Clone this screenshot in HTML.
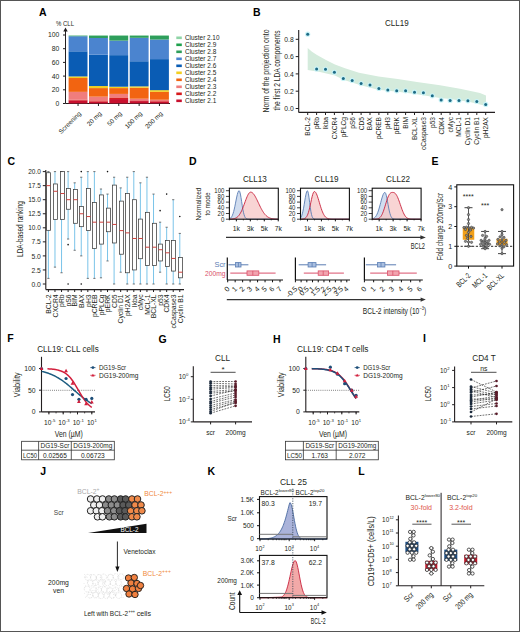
<!DOCTYPE html>
<html><head><meta charset="utf-8"><style>
html,body{margin:0;padding:0;background:#fff;}
body{width:520px;height:632px;overflow:hidden;position:relative;}
svg{position:absolute;left:0;top:0;font-family:"Liberation Sans", sans-serif;}
</style></head><body>
<svg width="520" height="632" viewBox="0 0 520 632">
<rect x="0" y="0" width="520" height="632" fill="#fff"/>
<text x="39.00" y="16.00" font-size="10.5" text-anchor="start" fill="#000" font-weight="bold">A</text>
<text x="253.00" y="16.00" font-size="10.5" text-anchor="start" fill="#000" font-weight="bold">B</text>
<text x="7.50" y="165.00" font-size="10.5" text-anchor="start" fill="#000" font-weight="bold">C</text>
<text x="189.00" y="164.80" font-size="10.5" text-anchor="start" fill="#000" font-weight="bold">D</text>
<text x="431.50" y="165.00" font-size="10.5" text-anchor="start" fill="#000" font-weight="bold">E</text>
<text x="7.30" y="342.40" font-size="10.5" text-anchor="start" fill="#000" font-weight="bold">F</text>
<text x="158.50" y="342.80" font-size="10.5" text-anchor="start" fill="#000" font-weight="bold">G</text>
<text x="273.00" y="342.60" font-size="10.5" text-anchor="start" fill="#000" font-weight="bold">H</text>
<text x="423.00" y="342.40" font-size="10.5" text-anchor="start" fill="#000" font-weight="bold">I</text>
<text x="40.30" y="475.20" font-size="10.5" text-anchor="start" fill="#000" font-weight="bold">J</text>
<text x="207.60" y="475.40" font-size="10.5" text-anchor="start" fill="#000" font-weight="bold">K</text>
<text x="358.30" y="475.30" font-size="10.5" text-anchor="start" fill="#000" font-weight="bold">L</text>
<line x1="65.50" y1="103.50" x2="170.00" y2="103.50" stroke="#231f20" stroke-width="1"/>
<line x1="65.50" y1="29.50" x2="65.50" y2="103.50" stroke="#231f20" stroke-width="1"/>
<path d="M63.3,31.5 L65.5,27.5 L67.7,31.5 Z" fill="#231f20" stroke="none" stroke-width="1"/>
<line x1="63.00" y1="103.50" x2="65.50" y2="103.50" stroke="#231f20" stroke-width="1"/>
<text x="59.30" y="105.90" font-size="6.8" text-anchor="end" fill="#231f20">0</text>
<line x1="63.00" y1="89.80" x2="65.50" y2="89.80" stroke="#231f20" stroke-width="1"/>
<text x="59.30" y="92.20" font-size="6.8" text-anchor="end" fill="#231f20">20</text>
<line x1="63.00" y1="76.10" x2="65.50" y2="76.10" stroke="#231f20" stroke-width="1"/>
<text x="59.30" y="78.50" font-size="6.8" text-anchor="end" fill="#231f20">40</text>
<line x1="63.00" y1="62.40" x2="65.50" y2="62.40" stroke="#231f20" stroke-width="1"/>
<text x="59.30" y="64.80" font-size="6.8" text-anchor="end" fill="#231f20">60</text>
<line x1="63.00" y1="48.70" x2="65.50" y2="48.70" stroke="#231f20" stroke-width="1"/>
<text x="59.30" y="51.10" font-size="6.8" text-anchor="end" fill="#231f20">80</text>
<line x1="63.00" y1="35.00" x2="65.50" y2="35.00" stroke="#231f20" stroke-width="1"/>
<text x="59.30" y="37.40" font-size="6.8" text-anchor="end" fill="#231f20">100</text>
<text x="56.00" y="26.00" font-size="6.8" text-anchor="start" fill="#231f20" textLength="18" lengthAdjust="spacingAndGlyphs">% CLL</text>
<rect x="68.60" y="100.42" width="18.90" height="3.08" fill="#c8102e" stroke="none" stroke-width="1"/>
<rect x="68.60" y="99.73" width="18.90" height="0.69" fill="#d7191c" stroke="none" stroke-width="1"/>
<rect x="68.60" y="91.86" width="18.90" height="7.88" fill="#f07d7d" stroke="none" stroke-width="1"/>
<rect x="68.60" y="78.02" width="18.90" height="13.84" fill="#f26411" stroke="none" stroke-width="1"/>
<rect x="68.60" y="76.44" width="18.90" height="1.58" fill="#f3cf20" stroke="none" stroke-width="1"/>
<rect x="68.60" y="51.30" width="18.90" height="25.14" fill="#0a5cb4" stroke="none" stroke-width="1"/>
<rect x="68.60" y="36.23" width="18.90" height="15.07" fill="#4b84cf" stroke="none" stroke-width="1"/>
<rect x="68.60" y="35.82" width="18.90" height="0.41" fill="#2e9e5b" stroke="none" stroke-width="1"/>
<rect x="68.60" y="35.55" width="18.90" height="0.27" fill="#1fa14c" stroke="none" stroke-width="1"/>
<line x1="78.05" y1="103.50" x2="78.05" y2="106.00" stroke="#231f20" stroke-width="1"/>
<rect x="89.00" y="101.79" width="18.90" height="1.71" fill="#c8102e" stroke="none" stroke-width="1"/>
<rect x="89.00" y="101.10" width="18.90" height="0.68" fill="#d7191c" stroke="none" stroke-width="1"/>
<rect x="89.00" y="96.65" width="18.90" height="4.45" fill="#f07d7d" stroke="none" stroke-width="1"/>
<rect x="89.00" y="88.09" width="18.90" height="8.56" fill="#f26411" stroke="none" stroke-width="1"/>
<rect x="89.00" y="86.03" width="18.90" height="2.06" fill="#f3cf20" stroke="none" stroke-width="1"/>
<rect x="89.00" y="54.73" width="18.90" height="31.30" fill="#0a5cb4" stroke="none" stroke-width="1"/>
<rect x="89.00" y="38.01" width="18.90" height="16.71" fill="#4b84cf" stroke="none" stroke-width="1"/>
<rect x="89.00" y="35.96" width="18.90" height="2.05" fill="#2e9e5b" stroke="none" stroke-width="1"/>
<rect x="89.00" y="35.55" width="18.90" height="0.41" fill="#1fa14c" stroke="none" stroke-width="1"/>
<line x1="98.45" y1="103.50" x2="98.45" y2="106.00" stroke="#231f20" stroke-width="1"/>
<rect x="109.30" y="99.05" width="18.90" height="4.45" fill="#c8102e" stroke="none" stroke-width="1"/>
<rect x="109.30" y="98.02" width="18.90" height="1.03" fill="#d7191c" stroke="none" stroke-width="1"/>
<rect x="109.30" y="93.91" width="18.90" height="4.11" fill="#f07d7d" stroke="none" stroke-width="1"/>
<rect x="109.30" y="88.09" width="18.90" height="5.82" fill="#f26411" stroke="none" stroke-width="1"/>
<rect x="109.30" y="86.72" width="18.90" height="1.37" fill="#f3cf20" stroke="none" stroke-width="1"/>
<rect x="109.30" y="55.14" width="18.90" height="31.58" fill="#0a5cb4" stroke="none" stroke-width="1"/>
<rect x="109.30" y="40.62" width="18.90" height="14.52" fill="#4b84cf" stroke="none" stroke-width="1"/>
<rect x="109.30" y="35.96" width="18.90" height="4.66" fill="#2e9e5b" stroke="none" stroke-width="1"/>
<rect x="109.30" y="35.55" width="18.90" height="0.41" fill="#1fa14c" stroke="none" stroke-width="1"/>
<line x1="118.75" y1="103.50" x2="118.75" y2="106.00" stroke="#231f20" stroke-width="1"/>
<rect x="129.70" y="101.10" width="18.90" height="2.40" fill="#c8102e" stroke="none" stroke-width="1"/>
<rect x="129.70" y="100.42" width="18.90" height="0.69" fill="#d7191c" stroke="none" stroke-width="1"/>
<rect x="129.70" y="98.70" width="18.90" height="1.71" fill="#f07d7d" stroke="none" stroke-width="1"/>
<rect x="129.70" y="87.75" width="18.90" height="10.96" fill="#f26411" stroke="none" stroke-width="1"/>
<rect x="129.70" y="86.38" width="18.90" height="1.37" fill="#f3cf20" stroke="none" stroke-width="1"/>
<rect x="129.70" y="61.24" width="18.90" height="25.14" fill="#0a5cb4" stroke="none" stroke-width="1"/>
<rect x="129.70" y="37.81" width="18.90" height="23.43" fill="#4b84cf" stroke="none" stroke-width="1"/>
<rect x="129.70" y="35.96" width="18.90" height="1.85" fill="#2e9e5b" stroke="none" stroke-width="1"/>
<rect x="129.70" y="35.55" width="18.90" height="0.41" fill="#1fa14c" stroke="none" stroke-width="1"/>
<line x1="139.15" y1="103.50" x2="139.15" y2="106.00" stroke="#231f20" stroke-width="1"/>
<rect x="150.00" y="101.79" width="18.90" height="1.71" fill="#c8102e" stroke="none" stroke-width="1"/>
<rect x="150.00" y="101.10" width="18.90" height="0.68" fill="#d7191c" stroke="none" stroke-width="1"/>
<rect x="150.00" y="99.73" width="18.90" height="1.37" fill="#f07d7d" stroke="none" stroke-width="1"/>
<rect x="150.00" y="91.86" width="18.90" height="7.88" fill="#f26411" stroke="none" stroke-width="1"/>
<rect x="150.00" y="90.14" width="18.90" height="1.71" fill="#f3cf20" stroke="none" stroke-width="1"/>
<rect x="150.00" y="59.11" width="18.90" height="31.03" fill="#0a5cb4" stroke="none" stroke-width="1"/>
<rect x="150.00" y="39.52" width="18.90" height="19.59" fill="#4b84cf" stroke="none" stroke-width="1"/>
<rect x="150.00" y="35.96" width="18.90" height="3.56" fill="#2e9e5b" stroke="none" stroke-width="1"/>
<rect x="150.00" y="35.55" width="18.90" height="0.41" fill="#1fa14c" stroke="none" stroke-width="1"/>
<line x1="159.45" y1="103.50" x2="159.45" y2="106.00" stroke="#231f20" stroke-width="1"/>
<text x="81.55" y="114.00" font-size="6.4" text-anchor="end" fill="#231f20" transform="rotate(-45 81.55 114.00)">Screening</text>
<text x="101.95" y="114.00" font-size="6.4" text-anchor="end" fill="#231f20" transform="rotate(-45 101.95 114.00)">20 mg</text>
<text x="122.25" y="114.00" font-size="6.4" text-anchor="end" fill="#231f20" transform="rotate(-45 122.25 114.00)">50 mg</text>
<text x="142.65" y="114.00" font-size="6.4" text-anchor="end" fill="#231f20" transform="rotate(-45 142.65 114.00)">100 mg</text>
<text x="162.95" y="114.00" font-size="6.4" text-anchor="end" fill="#231f20" transform="rotate(-45 162.95 114.00)">200 mg</text>
<rect x="176.30" y="36.50" width="5.50" height="2.60" fill="#8fd4a6" stroke="none" stroke-width="1"/>
<text x="185.00" y="40.10" font-size="6.8" text-anchor="start" fill="#231f20" textLength="34.5" lengthAdjust="spacingAndGlyphs">Cluster 2.10</text>
<rect x="176.30" y="43.50" width="5.50" height="2.60" fill="#1fa14c" stroke="none" stroke-width="1"/>
<text x="185.00" y="47.10" font-size="6.8" text-anchor="start" fill="#231f20" textLength="31.3" lengthAdjust="spacingAndGlyphs">Cluster 2.9</text>
<rect x="176.30" y="50.50" width="5.50" height="2.60" fill="#2e9e5b" stroke="none" stroke-width="1"/>
<text x="185.00" y="54.10" font-size="6.8" text-anchor="start" fill="#231f20" textLength="31.3" lengthAdjust="spacingAndGlyphs">Cluster 2.8</text>
<rect x="176.30" y="57.50" width="5.50" height="2.60" fill="#4b84cf" stroke="none" stroke-width="1"/>
<text x="185.00" y="61.10" font-size="6.8" text-anchor="start" fill="#231f20" textLength="31.3" lengthAdjust="spacingAndGlyphs">Cluster 2.7</text>
<rect x="176.30" y="64.50" width="5.50" height="2.60" fill="#0a5cb4" stroke="none" stroke-width="1"/>
<text x="185.00" y="68.10" font-size="6.8" text-anchor="start" fill="#231f20" textLength="31.3" lengthAdjust="spacingAndGlyphs">Cluster 2.6</text>
<rect x="176.30" y="71.50" width="5.50" height="2.60" fill="#f3cf20" stroke="none" stroke-width="1"/>
<text x="185.00" y="75.10" font-size="6.8" text-anchor="start" fill="#231f20" textLength="31.3" lengthAdjust="spacingAndGlyphs">Cluster 2.5</text>
<rect x="176.30" y="78.50" width="5.50" height="2.60" fill="#f26411" stroke="none" stroke-width="1"/>
<text x="185.00" y="82.10" font-size="6.8" text-anchor="start" fill="#231f20" textLength="31.3" lengthAdjust="spacingAndGlyphs">Cluster 2.4</text>
<rect x="176.30" y="85.50" width="5.50" height="2.60" fill="#f07d7d" stroke="none" stroke-width="1"/>
<text x="185.00" y="89.10" font-size="6.8" text-anchor="start" fill="#231f20" textLength="31.3" lengthAdjust="spacingAndGlyphs">Cluster 2.3</text>
<rect x="176.30" y="92.50" width="5.50" height="2.60" fill="#d7191c" stroke="none" stroke-width="1"/>
<text x="185.00" y="96.10" font-size="6.8" text-anchor="start" fill="#231f20" textLength="31.3" lengthAdjust="spacingAndGlyphs">Cluster 2.2</text>
<rect x="176.30" y="99.50" width="5.50" height="2.60" fill="#c8102e" stroke="none" stroke-width="1"/>
<text x="185.00" y="103.10" font-size="6.8" text-anchor="start" fill="#231f20" textLength="31.3" lengthAdjust="spacingAndGlyphs">Cluster 2.1</text>
<path d="M307.70,48.00 L312.00,51.80 L317.00,55.00 L326.00,60.00 L335.00,64.50 L345.00,68.30 L359.00,72.80 L378.50,76.50 L397.70,79.00 L417.00,82.00 L440.00,85.20 L460.00,88.80 L480.00,93.00 L486.00,95.50 L486.00,106.00 L470.00,102.00 L450.00,99.00 L440.00,98.00 L417.00,94.30 L398.00,91.80 L378.00,89.80 L360.00,85.00 L344.00,80.00 L335.00,75.50 L320.00,72.00 L307.70,70.00 Z" fill="#d4ebdc" stroke="none" stroke-width="1"/>
<line x1="298.70" y1="30.00" x2="298.70" y2="112.40" stroke="#231f20" stroke-width="1.1"/>
<line x1="298.70" y1="112.40" x2="495.00" y2="112.40" stroke="#231f20" stroke-width="1.1"/>
<line x1="295.70" y1="108.50" x2="298.70" y2="108.50" stroke="#231f20" stroke-width="1"/>
<text x="293.70" y="111.20" font-size="7.8" text-anchor="end" fill="#231f20" textLength="9.4" lengthAdjust="spacingAndGlyphs">0.0</text>
<line x1="295.70" y1="91.20" x2="298.70" y2="91.20" stroke="#231f20" stroke-width="1"/>
<text x="293.70" y="93.90" font-size="7.8" text-anchor="end" fill="#231f20" textLength="9.4" lengthAdjust="spacingAndGlyphs">0.2</text>
<line x1="295.70" y1="73.90" x2="298.70" y2="73.90" stroke="#231f20" stroke-width="1"/>
<text x="293.70" y="76.60" font-size="7.8" text-anchor="end" fill="#231f20" textLength="9.4" lengthAdjust="spacingAndGlyphs">0.4</text>
<line x1="295.70" y1="56.60" x2="298.70" y2="56.60" stroke="#231f20" stroke-width="1"/>
<text x="293.70" y="59.30" font-size="7.8" text-anchor="end" fill="#231f20" textLength="9.4" lengthAdjust="spacingAndGlyphs">0.6</text>
<line x1="295.70" y1="39.30" x2="298.70" y2="39.30" stroke="#231f20" stroke-width="1"/>
<text x="293.70" y="42.00" font-size="7.8" text-anchor="end" fill="#231f20" textLength="9.4" lengthAdjust="spacingAndGlyphs">0.8</text>
<text x="269.30" y="71.00" font-size="8.4" text-anchor="middle" fill="#231f20" transform="rotate(-90 269.30 71.00)" textLength="83" lengthAdjust="spacingAndGlyphs">Norm of the projection onto</text>
<text x="279.60" y="70.50" font-size="8.4" text-anchor="middle" fill="#231f20" transform="rotate(-90 279.60 70.50)" textLength="80" lengthAdjust="spacingAndGlyphs">the first 2 LDA components</text>
<text x="396.80" y="25.60" font-size="9.3" text-anchor="middle" fill="#231f20" textLength="23.6" lengthAdjust="spacingAndGlyphs">CLL19</text>
<line x1="307.70" y1="112.40" x2="307.70" y2="115.00" stroke="#231f20" stroke-width="1"/>
<circle cx="307.70" cy="34.20" r="2.6" fill="#c9f3f7" stroke="none" stroke-width="0.6"/>
<circle cx="307.70" cy="34.20" r="1.5" fill="#1d6a85" stroke="none" stroke-width="0.6"/>
<text x="310.10" y="117.00" font-size="6.6" text-anchor="end" fill="#231f20" transform="rotate(-90 310.10 117.00)">BCL-2</text>
<line x1="316.60" y1="112.40" x2="316.60" y2="115.00" stroke="#231f20" stroke-width="1"/>
<circle cx="316.60" cy="68.90" r="2.6" fill="#c9f3f7" stroke="none" stroke-width="0.6"/>
<circle cx="316.60" cy="68.90" r="1.5" fill="#1d6a85" stroke="none" stroke-width="0.6"/>
<text x="319.00" y="117.00" font-size="6.6" text-anchor="end" fill="#231f20" transform="rotate(-90 319.00 117.00)">pRb</text>
<line x1="325.50" y1="112.40" x2="325.50" y2="115.00" stroke="#231f20" stroke-width="1"/>
<circle cx="325.50" cy="69.30" r="2.6" fill="#c9f3f7" stroke="none" stroke-width="0.6"/>
<circle cx="325.50" cy="69.30" r="1.5" fill="#1d6a85" stroke="none" stroke-width="0.6"/>
<text x="327.90" y="117.00" font-size="6.6" text-anchor="end" fill="#231f20" transform="rotate(-90 327.90 117.00)">Ikba</text>
<line x1="334.40" y1="112.40" x2="334.40" y2="115.00" stroke="#231f20" stroke-width="1"/>
<circle cx="334.40" cy="72.30" r="2.6" fill="#c9f3f7" stroke="none" stroke-width="0.6"/>
<circle cx="334.40" cy="72.30" r="1.5" fill="#1d6a85" stroke="none" stroke-width="0.6"/>
<text x="336.80" y="117.00" font-size="6.6" text-anchor="end" fill="#231f20" transform="rotate(-90 336.80 117.00)">CXCR4</text>
<line x1="343.30" y1="112.40" x2="343.30" y2="115.00" stroke="#231f20" stroke-width="1"/>
<circle cx="343.30" cy="78.50" r="2.6" fill="#c9f3f7" stroke="none" stroke-width="0.6"/>
<circle cx="343.30" cy="78.50" r="1.5" fill="#1d6a85" stroke="none" stroke-width="0.6"/>
<text x="345.70" y="117.00" font-size="6.6" text-anchor="end" fill="#231f20" transform="rotate(-90 345.70 117.00)">pPLCg</text>
<line x1="352.20" y1="112.40" x2="352.20" y2="115.00" stroke="#231f20" stroke-width="1"/>
<circle cx="352.20" cy="80.40" r="2.6" fill="#c9f3f7" stroke="none" stroke-width="0.6"/>
<circle cx="352.20" cy="80.40" r="1.5" fill="#1d6a85" stroke="none" stroke-width="0.6"/>
<text x="354.60" y="117.00" font-size="6.6" text-anchor="end" fill="#231f20" transform="rotate(-90 354.60 117.00)">pS6</text>
<line x1="361.10" y1="112.40" x2="361.10" y2="115.00" stroke="#231f20" stroke-width="1"/>
<circle cx="361.10" cy="83.60" r="2.6" fill="#c9f3f7" stroke="none" stroke-width="0.6"/>
<circle cx="361.10" cy="83.60" r="1.5" fill="#1d6a85" stroke="none" stroke-width="0.6"/>
<text x="363.50" y="117.00" font-size="6.6" text-anchor="end" fill="#231f20" transform="rotate(-90 363.50 117.00)">CD5</text>
<line x1="370.00" y1="112.40" x2="370.00" y2="115.00" stroke="#231f20" stroke-width="1"/>
<circle cx="370.00" cy="85.00" r="2.6" fill="#c9f3f7" stroke="none" stroke-width="0.6"/>
<circle cx="370.00" cy="85.00" r="1.5" fill="#1d6a85" stroke="none" stroke-width="0.6"/>
<text x="372.40" y="117.00" font-size="6.6" text-anchor="end" fill="#231f20" transform="rotate(-90 372.40 117.00)">BAX</text>
<line x1="378.90" y1="112.40" x2="378.90" y2="115.00" stroke="#231f20" stroke-width="1"/>
<circle cx="378.90" cy="88.50" r="2.6" fill="#c9f3f7" stroke="none" stroke-width="0.6"/>
<circle cx="378.90" cy="88.50" r="1.5" fill="#1d6a85" stroke="none" stroke-width="0.6"/>
<text x="381.30" y="117.00" font-size="6.6" text-anchor="end" fill="#231f20" transform="rotate(-90 381.30 117.00)">pCREB</text>
<line x1="387.80" y1="112.40" x2="387.80" y2="115.00" stroke="#231f20" stroke-width="1"/>
<circle cx="387.80" cy="89.90" r="2.6" fill="#c9f3f7" stroke="none" stroke-width="0.6"/>
<circle cx="387.80" cy="89.90" r="1.5" fill="#1d6a85" stroke="none" stroke-width="0.6"/>
<text x="390.20" y="117.00" font-size="6.6" text-anchor="end" fill="#231f20" transform="rotate(-90 390.20 117.00)">pH3</text>
<line x1="396.70" y1="112.40" x2="396.70" y2="115.00" stroke="#231f20" stroke-width="1"/>
<circle cx="396.70" cy="90.80" r="2.6" fill="#c9f3f7" stroke="none" stroke-width="0.6"/>
<circle cx="396.70" cy="90.80" r="1.5" fill="#1d6a85" stroke="none" stroke-width="0.6"/>
<text x="399.10" y="117.00" font-size="6.6" text-anchor="end" fill="#231f20" transform="rotate(-90 399.10 117.00)">pERK</text>
<line x1="405.60" y1="112.40" x2="405.60" y2="115.00" stroke="#231f20" stroke-width="1"/>
<circle cx="405.60" cy="90.80" r="2.6" fill="#c9f3f7" stroke="none" stroke-width="0.6"/>
<circle cx="405.60" cy="90.80" r="1.5" fill="#1d6a85" stroke="none" stroke-width="0.6"/>
<text x="408.00" y="117.00" font-size="6.6" text-anchor="end" fill="#231f20" transform="rotate(-90 408.00 117.00)">BIM</text>
<line x1="414.50" y1="112.40" x2="414.50" y2="115.00" stroke="#231f20" stroke-width="1"/>
<circle cx="414.50" cy="92.20" r="2.6" fill="#c9f3f7" stroke="none" stroke-width="0.6"/>
<circle cx="414.50" cy="92.20" r="1.5" fill="#1d6a85" stroke="none" stroke-width="0.6"/>
<text x="416.90" y="117.00" font-size="6.6" text-anchor="end" fill="#231f20" transform="rotate(-90 416.90 117.00)">BCL-XL</text>
<line x1="423.40" y1="112.40" x2="423.40" y2="115.00" stroke="#231f20" stroke-width="1"/>
<circle cx="423.40" cy="92.80" r="2.6" fill="#c9f3f7" stroke="none" stroke-width="0.6"/>
<circle cx="423.40" cy="92.80" r="1.5" fill="#1d6a85" stroke="none" stroke-width="0.6"/>
<text x="425.80" y="117.00" font-size="6.6" text-anchor="end" fill="#231f20" transform="rotate(-90 425.80 117.00)">cCaspase3</text>
<line x1="432.30" y1="112.40" x2="432.30" y2="115.00" stroke="#231f20" stroke-width="1"/>
<circle cx="432.30" cy="95.80" r="2.6" fill="#c9f3f7" stroke="none" stroke-width="0.6"/>
<circle cx="432.30" cy="95.80" r="1.5" fill="#1d6a85" stroke="none" stroke-width="0.6"/>
<text x="434.70" y="117.00" font-size="6.6" text-anchor="end" fill="#231f20" transform="rotate(-90 434.70 117.00)">p53</text>
<line x1="441.20" y1="112.40" x2="441.20" y2="115.00" stroke="#231f20" stroke-width="1"/>
<circle cx="441.20" cy="99.90" r="2.6" fill="#c9f3f7" stroke="none" stroke-width="0.6"/>
<circle cx="441.20" cy="99.90" r="1.5" fill="#1d6a85" stroke="none" stroke-width="0.6"/>
<text x="443.60" y="117.00" font-size="6.6" text-anchor="end" fill="#231f20" transform="rotate(-90 443.60 117.00)">CDK4</text>
<line x1="450.10" y1="112.40" x2="450.10" y2="115.00" stroke="#231f20" stroke-width="1"/>
<circle cx="450.10" cy="100.40" r="2.6" fill="#c9f3f7" stroke="none" stroke-width="0.6"/>
<circle cx="450.10" cy="100.40" r="1.5" fill="#1d6a85" stroke="none" stroke-width="0.6"/>
<text x="452.50" y="117.00" font-size="6.6" text-anchor="end" fill="#231f20" transform="rotate(-90 452.50 117.00)">cMyc</text>
<line x1="459.00" y1="112.40" x2="459.00" y2="115.00" stroke="#231f20" stroke-width="1"/>
<circle cx="459.00" cy="100.40" r="2.6" fill="#c9f3f7" stroke="none" stroke-width="0.6"/>
<circle cx="459.00" cy="100.40" r="1.5" fill="#1d6a85" stroke="none" stroke-width="0.6"/>
<text x="461.40" y="117.00" font-size="6.6" text-anchor="end" fill="#231f20" transform="rotate(-90 461.40 117.00)">MCL-1</text>
<line x1="467.90" y1="112.40" x2="467.90" y2="115.00" stroke="#231f20" stroke-width="1"/>
<circle cx="467.90" cy="100.80" r="2.6" fill="#c9f3f7" stroke="none" stroke-width="0.6"/>
<circle cx="467.90" cy="100.80" r="1.5" fill="#1d6a85" stroke="none" stroke-width="0.6"/>
<text x="470.30" y="117.00" font-size="6.6" text-anchor="end" fill="#231f20" transform="rotate(-90 470.30 117.00)">Cyclin D1</text>
<line x1="476.80" y1="112.40" x2="476.80" y2="115.00" stroke="#231f20" stroke-width="1"/>
<circle cx="476.80" cy="101.50" r="2.6" fill="#c9f3f7" stroke="none" stroke-width="0.6"/>
<circle cx="476.80" cy="101.50" r="1.5" fill="#1d6a85" stroke="none" stroke-width="0.6"/>
<text x="479.20" y="117.00" font-size="6.6" text-anchor="end" fill="#231f20" transform="rotate(-90 479.20 117.00)">Cyclin B1</text>
<line x1="485.70" y1="112.40" x2="485.70" y2="115.00" stroke="#231f20" stroke-width="1"/>
<circle cx="485.70" cy="104.40" r="2.6" fill="#c9f3f7" stroke="none" stroke-width="0.6"/>
<circle cx="485.70" cy="104.40" r="1.5" fill="#1d6a85" stroke="none" stroke-width="0.6"/>
<text x="488.10" y="117.00" font-size="6.6" text-anchor="end" fill="#231f20" transform="rotate(-90 488.10 117.00)">pH2AX</text>
<line x1="45.80" y1="170.00" x2="45.80" y2="289.60" stroke="#231f20" stroke-width="1.1"/>
<line x1="45.80" y1="289.60" x2="184.00" y2="289.60" stroke="#231f20" stroke-width="1.1"/>
<line x1="42.80" y1="284.00" x2="45.80" y2="284.00" stroke="#231f20" stroke-width="1"/>
<text x="40.80" y="286.60" font-size="7.4" text-anchor="end" fill="#231f20" textLength="9.4" lengthAdjust="spacingAndGlyphs">0.0</text>
<line x1="42.80" y1="269.95" x2="45.80" y2="269.95" stroke="#231f20" stroke-width="1"/>
<text x="40.80" y="272.55" font-size="7.4" text-anchor="end" fill="#231f20" textLength="9.4" lengthAdjust="spacingAndGlyphs">2.5</text>
<line x1="42.80" y1="255.90" x2="45.80" y2="255.90" stroke="#231f20" stroke-width="1"/>
<text x="40.80" y="258.50" font-size="7.4" text-anchor="end" fill="#231f20" textLength="9.4" lengthAdjust="spacingAndGlyphs">5.0</text>
<line x1="42.80" y1="241.85" x2="45.80" y2="241.85" stroke="#231f20" stroke-width="1"/>
<text x="40.80" y="244.45" font-size="7.4" text-anchor="end" fill="#231f20" textLength="9.4" lengthAdjust="spacingAndGlyphs">7.5</text>
<line x1="42.80" y1="227.80" x2="45.80" y2="227.80" stroke="#231f20" stroke-width="1"/>
<text x="40.80" y="230.40" font-size="7.4" text-anchor="end" fill="#231f20" textLength="12.6" lengthAdjust="spacingAndGlyphs">10.0</text>
<line x1="42.80" y1="213.75" x2="45.80" y2="213.75" stroke="#231f20" stroke-width="1"/>
<text x="40.80" y="216.35" font-size="7.4" text-anchor="end" fill="#231f20" textLength="12.6" lengthAdjust="spacingAndGlyphs">12.5</text>
<line x1="42.80" y1="199.70" x2="45.80" y2="199.70" stroke="#231f20" stroke-width="1"/>
<text x="40.80" y="202.30" font-size="7.4" text-anchor="end" fill="#231f20" textLength="12.6" lengthAdjust="spacingAndGlyphs">15.0</text>
<line x1="42.80" y1="185.65" x2="45.80" y2="185.65" stroke="#231f20" stroke-width="1"/>
<text x="40.80" y="188.25" font-size="7.4" text-anchor="end" fill="#231f20" textLength="12.6" lengthAdjust="spacingAndGlyphs">17.5</text>
<line x1="42.80" y1="171.60" x2="45.80" y2="171.60" stroke="#231f20" stroke-width="1"/>
<text x="40.80" y="174.20" font-size="7.4" text-anchor="end" fill="#231f20" textLength="12.6" lengthAdjust="spacingAndGlyphs">20.0</text>
<text x="23.20" y="229.00" font-size="8.4" text-anchor="middle" fill="#231f20" transform="rotate(-90 23.20 229.00)" textLength="56" lengthAdjust="spacingAndGlyphs">LDA-based ranking</text>
<line x1="48.40" y1="171.60" x2="48.40" y2="172.72" stroke="#6cbde6" stroke-width="0.9"/>
<line x1="48.40" y1="230.33" x2="48.40" y2="278.38" stroke="#6cbde6" stroke-width="0.9"/>
<line x1="47.30" y1="171.60" x2="49.50" y2="171.60" stroke="#555" stroke-width="0.8"/>
<line x1="47.30" y1="278.38" x2="49.50" y2="278.38" stroke="#555" stroke-width="0.8"/>
<rect x="46.50" y="172.72" width="4.00" height="57.61" fill="none" stroke="#3a3a3a" stroke-width="0.75"/>
<line x1="46.50" y1="185.65" x2="50.50" y2="185.65" stroke="#d2403c" stroke-width="1"/>
<line x1="48.40" y1="289.60" x2="48.40" y2="292.00" stroke="#231f20" stroke-width="1"/>
<text x="51.20" y="294.40" font-size="6.8" text-anchor="end" fill="#231f20" transform="rotate(-90 51.20 294.40)">BCL-2</text>
<line x1="54.97" y1="171.60" x2="54.97" y2="183.96" stroke="#6cbde6" stroke-width="0.9"/>
<line x1="54.97" y1="219.37" x2="54.97" y2="267.14" stroke="#6cbde6" stroke-width="0.9"/>
<line x1="53.87" y1="171.60" x2="56.07" y2="171.60" stroke="#555" stroke-width="0.8"/>
<line x1="53.87" y1="267.14" x2="56.07" y2="267.14" stroke="#555" stroke-width="0.8"/>
<rect x="53.50" y="183.96" width="4.00" height="35.41" fill="none" stroke="#3a3a3a" stroke-width="0.75"/>
<line x1="53.50" y1="191.27" x2="57.50" y2="191.27" stroke="#d2403c" stroke-width="1"/>
<line x1="54.97" y1="289.60" x2="54.97" y2="292.00" stroke="#231f20" stroke-width="1"/>
<text x="57.77" y="294.40" font-size="6.8" text-anchor="end" fill="#231f20" transform="rotate(-90 57.77 294.40)">CXCR4</text>
<line x1="61.54" y1="171.60" x2="61.54" y2="171.60" stroke="#6cbde6" stroke-width="0.9"/>
<line x1="61.54" y1="219.37" x2="61.54" y2="272.76" stroke="#6cbde6" stroke-width="0.9"/>
<line x1="60.44" y1="171.60" x2="62.64" y2="171.60" stroke="#555" stroke-width="0.8"/>
<line x1="60.44" y1="272.76" x2="62.64" y2="272.76" stroke="#555" stroke-width="0.8"/>
<rect x="60.50" y="171.60" width="4.00" height="47.77" fill="none" stroke="#3a3a3a" stroke-width="0.75"/>
<line x1="60.50" y1="193.52" x2="64.50" y2="193.52" stroke="#d2403c" stroke-width="1"/>
<line x1="61.54" y1="289.60" x2="61.54" y2="292.00" stroke="#231f20" stroke-width="1"/>
<text x="64.34" y="294.40" font-size="6.8" text-anchor="end" fill="#231f20" transform="rotate(-90 64.34 294.40)">pRb</text>
<line x1="68.11" y1="171.60" x2="68.11" y2="188.46" stroke="#6cbde6" stroke-width="0.9"/>
<line x1="68.11" y1="209.25" x2="68.11" y2="239.04" stroke="#6cbde6" stroke-width="0.9"/>
<line x1="67.01" y1="171.60" x2="69.21" y2="171.60" stroke="#555" stroke-width="0.8"/>
<line x1="67.01" y1="239.04" x2="69.21" y2="239.04" stroke="#555" stroke-width="0.8"/>
<rect x="66.50" y="188.46" width="4.00" height="20.79" fill="none" stroke="#3a3a3a" stroke-width="0.75"/>
<line x1="66.50" y1="199.70" x2="70.50" y2="199.70" stroke="#d2403c" stroke-width="1"/>
<circle cx="68.11" cy="244.66" r="0.8" fill="#111" stroke="none" stroke-width="0.6"/>
<circle cx="68.11" cy="284.00" r="0.8" fill="#111" stroke="none" stroke-width="0.6"/>
<line x1="68.11" y1="289.60" x2="68.11" y2="292.00" stroke="#231f20" stroke-width="1"/>
<text x="70.91" y="294.40" font-size="6.8" text-anchor="end" fill="#231f20" transform="rotate(-90 70.91 294.40)">pS6</text>
<line x1="74.68" y1="182.84" x2="74.68" y2="189.58" stroke="#6cbde6" stroke-width="0.9"/>
<line x1="74.68" y1="223.30" x2="74.68" y2="250.28" stroke="#6cbde6" stroke-width="0.9"/>
<line x1="73.58" y1="182.84" x2="75.78" y2="182.84" stroke="#555" stroke-width="0.8"/>
<line x1="73.58" y1="250.28" x2="75.78" y2="250.28" stroke="#555" stroke-width="0.8"/>
<rect x="73.50" y="189.58" width="4.00" height="33.72" fill="none" stroke="#3a3a3a" stroke-width="0.75"/>
<line x1="73.50" y1="199.70" x2="77.50" y2="199.70" stroke="#d2403c" stroke-width="1"/>
<line x1="74.68" y1="289.60" x2="74.68" y2="292.00" stroke="#231f20" stroke-width="1"/>
<text x="77.48" y="294.40" font-size="6.8" text-anchor="end" fill="#231f20" transform="rotate(-90 77.48 294.40)">BIM</text>
<line x1="81.25" y1="177.22" x2="81.25" y2="206.44" stroke="#6cbde6" stroke-width="0.9"/>
<line x1="81.25" y1="226.68" x2="81.25" y2="255.90" stroke="#6cbde6" stroke-width="0.9"/>
<line x1="80.15" y1="177.22" x2="82.35" y2="177.22" stroke="#555" stroke-width="0.8"/>
<line x1="80.15" y1="255.90" x2="82.35" y2="255.90" stroke="#555" stroke-width="0.8"/>
<rect x="79.50" y="206.44" width="4.00" height="20.23" fill="none" stroke="#3a3a3a" stroke-width="0.75"/>
<line x1="79.50" y1="213.75" x2="83.50" y2="213.75" stroke="#d2403c" stroke-width="1"/>
<circle cx="81.25" cy="171.60" r="0.8" fill="#111" stroke="none" stroke-width="0.6"/>
<circle cx="81.25" cy="284.00" r="0.8" fill="#111" stroke="none" stroke-width="0.6"/>
<line x1="81.25" y1="289.60" x2="81.25" y2="292.00" stroke="#231f20" stroke-width="1"/>
<text x="84.05" y="294.40" font-size="6.8" text-anchor="end" fill="#231f20" transform="rotate(-90 84.05 294.40)">BAX</text>
<line x1="87.82" y1="171.60" x2="87.82" y2="188.46" stroke="#6cbde6" stroke-width="0.9"/>
<line x1="87.82" y1="230.61" x2="87.82" y2="278.38" stroke="#6cbde6" stroke-width="0.9"/>
<line x1="86.72" y1="171.60" x2="88.92" y2="171.60" stroke="#555" stroke-width="0.8"/>
<line x1="86.72" y1="278.38" x2="88.92" y2="278.38" stroke="#555" stroke-width="0.8"/>
<rect x="86.50" y="188.46" width="4.00" height="42.15" fill="none" stroke="#3a3a3a" stroke-width="0.75"/>
<line x1="86.50" y1="216.56" x2="90.50" y2="216.56" stroke="#d2403c" stroke-width="1"/>
<line x1="87.82" y1="289.60" x2="87.82" y2="292.00" stroke="#231f20" stroke-width="1"/>
<text x="90.62" y="294.40" font-size="6.8" text-anchor="end" fill="#231f20" transform="rotate(-90 90.62 294.40)">pH3</text>
<line x1="94.39" y1="171.60" x2="94.39" y2="202.51" stroke="#6cbde6" stroke-width="0.9"/>
<line x1="94.39" y1="248.59" x2="94.39" y2="278.38" stroke="#6cbde6" stroke-width="0.9"/>
<line x1="93.29" y1="171.60" x2="95.49" y2="171.60" stroke="#555" stroke-width="0.8"/>
<line x1="93.29" y1="278.38" x2="95.49" y2="278.38" stroke="#555" stroke-width="0.8"/>
<rect x="92.50" y="202.51" width="4.00" height="46.08" fill="none" stroke="#3a3a3a" stroke-width="0.75"/>
<line x1="92.50" y1="222.18" x2="96.50" y2="222.18" stroke="#d2403c" stroke-width="1"/>
<line x1="94.39" y1="289.60" x2="94.39" y2="292.00" stroke="#231f20" stroke-width="1"/>
<text x="97.19" y="294.40" font-size="6.8" text-anchor="end" fill="#231f20" transform="rotate(-90 97.19 294.40)">pCREB</text>
<line x1="100.96" y1="189.02" x2="100.96" y2="194.92" stroke="#6cbde6" stroke-width="0.9"/>
<line x1="100.96" y1="244.10" x2="100.96" y2="277.82" stroke="#6cbde6" stroke-width="0.9"/>
<line x1="99.86" y1="189.02" x2="102.06" y2="189.02" stroke="#555" stroke-width="0.8"/>
<line x1="99.86" y1="277.82" x2="102.06" y2="277.82" stroke="#555" stroke-width="0.8"/>
<rect x="99.50" y="194.92" width="4.00" height="49.18" fill="none" stroke="#3a3a3a" stroke-width="0.75"/>
<line x1="99.50" y1="222.18" x2="103.50" y2="222.18" stroke="#d2403c" stroke-width="1"/>
<line x1="100.96" y1="289.60" x2="100.96" y2="292.00" stroke="#231f20" stroke-width="1"/>
<text x="103.76" y="294.40" font-size="6.8" text-anchor="end" fill="#231f20" transform="rotate(-90 103.76 294.40)">pPLCg</text>
<line x1="107.53" y1="194.08" x2="107.53" y2="208.13" stroke="#6cbde6" stroke-width="0.9"/>
<line x1="107.53" y1="231.73" x2="107.53" y2="260.96" stroke="#6cbde6" stroke-width="0.9"/>
<line x1="106.43" y1="194.08" x2="108.63" y2="194.08" stroke="#555" stroke-width="0.8"/>
<line x1="106.43" y1="260.96" x2="108.63" y2="260.96" stroke="#555" stroke-width="0.8"/>
<rect x="106.50" y="208.13" width="4.00" height="23.60" fill="none" stroke="#3a3a3a" stroke-width="0.75"/>
<line x1="106.50" y1="222.18" x2="110.50" y2="222.18" stroke="#d2403c" stroke-width="1"/>
<circle cx="107.53" cy="171.60" r="0.8" fill="#111" stroke="none" stroke-width="0.6"/>
<line x1="107.53" y1="289.60" x2="107.53" y2="292.00" stroke="#231f20" stroke-width="1"/>
<text x="110.33" y="294.40" font-size="6.8" text-anchor="end" fill="#231f20" transform="rotate(-90 110.33 294.40)">pERK</text>
<line x1="114.10" y1="177.22" x2="114.10" y2="185.09" stroke="#6cbde6" stroke-width="0.9"/>
<line x1="114.10" y1="242.97" x2="114.10" y2="284.00" stroke="#6cbde6" stroke-width="0.9"/>
<line x1="113.00" y1="177.22" x2="115.20" y2="177.22" stroke="#555" stroke-width="0.8"/>
<line x1="113.00" y1="284.00" x2="115.20" y2="284.00" stroke="#555" stroke-width="0.8"/>
<rect x="112.50" y="185.09" width="4.00" height="57.89" fill="none" stroke="#3a3a3a" stroke-width="0.75"/>
<line x1="112.50" y1="224.43" x2="116.50" y2="224.43" stroke="#d2403c" stroke-width="1"/>
<line x1="114.10" y1="289.60" x2="114.10" y2="292.00" stroke="#231f20" stroke-width="1"/>
<text x="116.90" y="294.40" font-size="6.8" text-anchor="end" fill="#231f20" transform="rotate(-90 116.90 294.40)">CD5</text>
<line x1="120.67" y1="187.90" x2="120.67" y2="201.11" stroke="#6cbde6" stroke-width="0.9"/>
<line x1="120.67" y1="254.21" x2="120.67" y2="272.20" stroke="#6cbde6" stroke-width="0.9"/>
<line x1="119.57" y1="187.90" x2="121.77" y2="187.90" stroke="#555" stroke-width="0.8"/>
<line x1="119.57" y1="272.20" x2="121.77" y2="272.20" stroke="#555" stroke-width="0.8"/>
<rect x="119.50" y="201.11" width="4.00" height="53.11" fill="none" stroke="#3a3a3a" stroke-width="0.75"/>
<line x1="119.50" y1="230.61" x2="123.50" y2="230.61" stroke="#d2403c" stroke-width="1"/>
<line x1="120.67" y1="289.60" x2="120.67" y2="292.00" stroke="#231f20" stroke-width="1"/>
<text x="123.47" y="294.40" font-size="6.8" text-anchor="end" fill="#231f20" transform="rotate(-90 123.47 294.40)">Cyclin D1</text>
<line x1="127.24" y1="177.22" x2="127.24" y2="193.52" stroke="#6cbde6" stroke-width="0.9"/>
<line x1="127.24" y1="272.76" x2="127.24" y2="284.00" stroke="#6cbde6" stroke-width="0.9"/>
<line x1="126.14" y1="177.22" x2="128.34" y2="177.22" stroke="#555" stroke-width="0.8"/>
<line x1="126.14" y1="284.00" x2="128.34" y2="284.00" stroke="#555" stroke-width="0.8"/>
<rect x="125.50" y="193.52" width="4.00" height="79.24" fill="none" stroke="#3a3a3a" stroke-width="0.75"/>
<line x1="125.50" y1="232.86" x2="129.50" y2="232.86" stroke="#d2403c" stroke-width="1"/>
<line x1="127.24" y1="289.60" x2="127.24" y2="292.00" stroke="#231f20" stroke-width="1"/>
<text x="130.04" y="294.40" font-size="6.8" text-anchor="end" fill="#231f20" transform="rotate(-90 130.04 294.40)">pH2AX</text>
<line x1="133.81" y1="171.60" x2="133.81" y2="199.70" stroke="#6cbde6" stroke-width="0.9"/>
<line x1="133.81" y1="269.95" x2="133.81" y2="284.00" stroke="#6cbde6" stroke-width="0.9"/>
<line x1="132.71" y1="171.60" x2="134.91" y2="171.60" stroke="#555" stroke-width="0.8"/>
<line x1="132.71" y1="284.00" x2="134.91" y2="284.00" stroke="#555" stroke-width="0.8"/>
<rect x="132.50" y="199.70" width="4.00" height="70.25" fill="none" stroke="#3a3a3a" stroke-width="0.75"/>
<line x1="132.50" y1="238.48" x2="136.50" y2="238.48" stroke="#d2403c" stroke-width="1"/>
<line x1="133.81" y1="289.60" x2="133.81" y2="292.00" stroke="#231f20" stroke-width="1"/>
<text x="136.61" y="294.40" font-size="6.8" text-anchor="end" fill="#231f20" transform="rotate(-90 136.61 294.40)">Ikba</text>
<line x1="140.38" y1="182.84" x2="140.38" y2="219.09" stroke="#6cbde6" stroke-width="0.9"/>
<line x1="140.38" y1="258.71" x2="140.38" y2="284.00" stroke="#6cbde6" stroke-width="0.9"/>
<line x1="139.28" y1="182.84" x2="141.48" y2="182.84" stroke="#555" stroke-width="0.8"/>
<line x1="139.28" y1="284.00" x2="141.48" y2="284.00" stroke="#555" stroke-width="0.8"/>
<rect x="138.50" y="219.09" width="4.00" height="39.62" fill="none" stroke="#3a3a3a" stroke-width="0.75"/>
<line x1="138.50" y1="238.48" x2="142.50" y2="238.48" stroke="#d2403c" stroke-width="1"/>
<line x1="140.38" y1="289.60" x2="140.38" y2="292.00" stroke="#231f20" stroke-width="1"/>
<text x="143.18" y="294.40" font-size="6.8" text-anchor="end" fill="#231f20" transform="rotate(-90 143.18 294.40)">cMyc</text>
<line x1="146.95" y1="177.22" x2="146.95" y2="212.34" stroke="#6cbde6" stroke-width="0.9"/>
<line x1="146.95" y1="265.45" x2="146.95" y2="284.00" stroke="#6cbde6" stroke-width="0.9"/>
<line x1="145.85" y1="177.22" x2="148.05" y2="177.22" stroke="#555" stroke-width="0.8"/>
<line x1="145.85" y1="284.00" x2="148.05" y2="284.00" stroke="#555" stroke-width="0.8"/>
<rect x="145.50" y="212.34" width="4.00" height="53.11" fill="none" stroke="#3a3a3a" stroke-width="0.75"/>
<line x1="145.50" y1="247.19" x2="149.50" y2="247.19" stroke="#d2403c" stroke-width="1"/>
<line x1="146.95" y1="289.60" x2="146.95" y2="292.00" stroke="#231f20" stroke-width="1"/>
<text x="149.75" y="294.40" font-size="6.8" text-anchor="end" fill="#231f20" transform="rotate(-90 149.75 294.40)">MCL-1</text>
<line x1="153.52" y1="194.08" x2="153.52" y2="223.30" stroke="#6cbde6" stroke-width="0.9"/>
<line x1="153.52" y1="265.45" x2="153.52" y2="284.00" stroke="#6cbde6" stroke-width="0.9"/>
<line x1="152.42" y1="194.08" x2="154.62" y2="194.08" stroke="#555" stroke-width="0.8"/>
<line x1="152.42" y1="284.00" x2="154.62" y2="284.00" stroke="#555" stroke-width="0.8"/>
<rect x="152.50" y="223.30" width="4.00" height="42.15" fill="none" stroke="#3a3a3a" stroke-width="0.75"/>
<line x1="152.50" y1="247.19" x2="156.50" y2="247.19" stroke="#d2403c" stroke-width="1"/>
<line x1="153.52" y1="289.60" x2="153.52" y2="292.00" stroke="#231f20" stroke-width="1"/>
<text x="156.32" y="294.40" font-size="6.8" text-anchor="end" fill="#231f20" transform="rotate(-90 156.32 294.40)">BCL-XL</text>
<line x1="160.09" y1="222.18" x2="160.09" y2="244.10" stroke="#6cbde6" stroke-width="0.9"/>
<line x1="160.09" y1="260.96" x2="160.09" y2="272.20" stroke="#6cbde6" stroke-width="0.9"/>
<line x1="158.99" y1="222.18" x2="161.19" y2="222.18" stroke="#555" stroke-width="0.8"/>
<line x1="158.99" y1="272.20" x2="161.19" y2="272.20" stroke="#555" stroke-width="0.8"/>
<rect x="158.50" y="244.10" width="4.00" height="16.86" fill="none" stroke="#3a3a3a" stroke-width="0.75"/>
<line x1="158.50" y1="249.72" x2="162.50" y2="249.72" stroke="#d2403c" stroke-width="1"/>
<circle cx="160.09" cy="210.66" r="0.8" fill="#111" stroke="none" stroke-width="0.6"/>
<line x1="160.09" y1="289.60" x2="160.09" y2="292.00" stroke="#231f20" stroke-width="1"/>
<text x="162.89" y="294.40" font-size="6.8" text-anchor="end" fill="#231f20" transform="rotate(-90 162.89 294.40)">p53</text>
<line x1="166.66" y1="227.24" x2="166.66" y2="240.44" stroke="#6cbde6" stroke-width="0.9"/>
<line x1="166.66" y1="266.58" x2="166.66" y2="284.00" stroke="#6cbde6" stroke-width="0.9"/>
<line x1="165.56" y1="227.24" x2="167.76" y2="227.24" stroke="#555" stroke-width="0.8"/>
<line x1="165.56" y1="284.00" x2="167.76" y2="284.00" stroke="#555" stroke-width="0.8"/>
<rect x="165.50" y="240.44" width="4.00" height="26.13" fill="none" stroke="#3a3a3a" stroke-width="0.75"/>
<line x1="165.50" y1="252.81" x2="169.50" y2="252.81" stroke="#d2403c" stroke-width="1"/>
<circle cx="166.66" cy="194.08" r="0.8" fill="#111" stroke="none" stroke-width="0.6"/>
<line x1="166.66" y1="289.60" x2="166.66" y2="292.00" stroke="#231f20" stroke-width="1"/>
<text x="169.46" y="294.40" font-size="6.8" text-anchor="end" fill="#231f20" transform="rotate(-90 169.46 294.40)">CDK4</text>
<line x1="173.23" y1="199.70" x2="173.23" y2="240.44" stroke="#6cbde6" stroke-width="0.9"/>
<line x1="173.23" y1="271.07" x2="173.23" y2="284.00" stroke="#6cbde6" stroke-width="0.9"/>
<line x1="172.13" y1="199.70" x2="174.33" y2="199.70" stroke="#555" stroke-width="0.8"/>
<line x1="172.13" y1="284.00" x2="174.33" y2="284.00" stroke="#555" stroke-width="0.8"/>
<rect x="171.50" y="240.44" width="4.00" height="30.63" fill="none" stroke="#3a3a3a" stroke-width="0.75"/>
<line x1="171.50" y1="258.43" x2="175.50" y2="258.43" stroke="#d2403c" stroke-width="1"/>
<line x1="173.23" y1="289.60" x2="173.23" y2="292.00" stroke="#231f20" stroke-width="1"/>
<text x="176.03" y="294.40" font-size="6.8" text-anchor="end" fill="#231f20" transform="rotate(-90 176.03 294.40)">cCaspase3</text>
<line x1="179.80" y1="233.42" x2="179.80" y2="257.59" stroke="#6cbde6" stroke-width="0.9"/>
<line x1="179.80" y1="277.82" x2="179.80" y2="284.00" stroke="#6cbde6" stroke-width="0.9"/>
<line x1="178.70" y1="233.42" x2="180.90" y2="233.42" stroke="#555" stroke-width="0.8"/>
<line x1="178.70" y1="284.00" x2="180.90" y2="284.00" stroke="#555" stroke-width="0.8"/>
<rect x="178.50" y="257.59" width="4.00" height="20.23" fill="none" stroke="#3a3a3a" stroke-width="0.75"/>
<line x1="178.50" y1="272.20" x2="182.50" y2="272.20" stroke="#d2403c" stroke-width="1"/>
<circle cx="179.80" cy="216.56" r="0.8" fill="#111" stroke="none" stroke-width="0.6"/>
<line x1="179.80" y1="289.60" x2="179.80" y2="292.00" stroke="#231f20" stroke-width="1"/>
<text x="182.60" y="294.40" font-size="6.8" text-anchor="end" fill="#231f20" transform="rotate(-90 182.60 294.40)">Cyclin B1</text>
<!--D-->
<text x="254.90" y="182.20" font-size="8.4" text-anchor="middle" fill="#231f20" textLength="24" lengthAdjust="spacingAndGlyphs">CLL13</text>
<path d="M229.40,218.77 L230.01,218.48 L230.62,218.04 L231.23,217.39 L231.84,216.47 L232.45,215.22 L233.06,213.58 L233.68,211.52 L234.29,209.06 L234.90,206.24 L235.51,203.17 L236.12,200.03 L236.73,197.02 L237.34,194.38 L237.95,192.34 L238.56,191.07 L239.17,190.71 L239.78,191.67 L240.39,194.05 L241.00,197.47 L241.62,201.45 L242.23,205.48 L242.84,209.18 L243.45,212.28 L244.06,214.68 L244.67,216.41 L245.28,217.57 L245.89,218.30 L246.50,218.73 L247.11,218.97 L247.72,219.09 L248.33,219.15 L248.94,219.18 L249.55,219.19 L250.17,219.20 L250.78,219.20 L251.39,219.20 L252.00,219.20 L252.61,219.20 L253.22,219.20 L253.83,219.20 L254.44,219.20 L255.05,219.20 L255.66,219.20 L256.27,219.20 L256.88,219.20 L257.49,219.20 L258.11,219.20 L258.72,219.20 L259.33,219.20 L259.94,219.20 L260.55,219.20 L261.16,219.20 L261.77,219.20 L262.38,219.20 L262.99,219.20 L263.60,219.20 L264.21,219.20 L264.82,219.20 L265.43,219.20 L266.05,219.20 L266.66,219.20 L267.27,219.20 L267.88,219.20 L268.49,219.20 L269.10,219.20 L269.71,219.20 L270.32,219.20 L270.93,219.20 L271.54,219.20 L272.15,219.20 L272.76,219.20 L273.37,219.20 L273.98,219.20 L274.60,219.20 L275.21,219.20 L275.82,219.20 L276.43,219.20 L277.04,219.20 L277.65,219.20 L278.26,219.20 L278.3,219.2 L229.4,219.2 Z" fill="#c9d7ec" stroke="none" stroke-width="1" fill-opacity="0.85"/>
<path d="M229.40,219.16 L230.01,219.14 L230.62,219.11 L231.23,219.07 L231.84,219.03 L232.45,218.96 L233.06,218.87 L233.68,218.76 L234.29,218.61 L234.90,218.42 L235.51,218.17 L236.12,217.87 L236.73,217.50 L237.34,217.05 L237.95,216.50 L238.56,215.85 L239.17,215.09 L239.78,214.20 L240.39,213.19 L241.00,212.06 L241.62,210.79 L242.23,209.41 L242.84,207.92 L243.45,206.35 L244.06,204.70 L244.67,203.02 L245.28,201.33 L245.89,199.68 L246.50,198.10 L247.11,196.63 L247.72,195.31 L248.33,194.18 L248.94,193.27 L249.55,192.62 L250.17,192.23 L250.78,192.13 L251.39,192.24 L252.00,192.52 L252.61,192.96 L253.22,193.56 L253.83,194.30 L254.44,195.17 L255.05,196.16 L255.66,197.25 L256.27,198.42 L256.88,199.65 L257.49,200.92 L258.11,202.22 L258.72,203.52 L259.33,204.82 L259.94,206.09 L260.55,207.33 L261.16,208.51 L261.77,209.64 L262.38,210.71 L262.99,211.70 L263.60,212.62 L264.21,213.46 L264.82,214.23 L265.43,214.92 L266.05,215.54 L266.66,216.08 L267.27,216.57 L267.88,216.99 L268.49,217.36 L269.10,217.67 L269.71,217.94 L270.32,218.17 L270.93,218.36 L271.54,218.52 L272.15,218.66 L272.76,218.77 L273.37,218.86 L273.98,218.93 L274.60,218.99 L275.21,219.03 L275.82,219.07 L276.43,219.10 L277.04,219.12 L277.65,219.14 L278.26,219.16 L278.3,219.2 L229.4,219.2 Z" fill="#f6c6c6" stroke="none" stroke-width="1" fill-opacity="0.75"/>
<path d="M229.40,218.77 L230.01,218.48 L230.62,218.04 L231.23,217.39 L231.84,216.47 L232.45,215.22 L233.06,213.58 L233.68,211.52 L234.29,209.06 L234.90,206.24 L235.51,203.17 L236.12,200.03 L236.73,197.02 L237.34,194.38 L237.95,192.34 L238.56,191.07 L239.17,190.71 L239.78,191.67 L240.39,194.05 L241.00,197.47 L241.62,201.45 L242.23,205.48 L242.84,209.18 L243.45,212.28 L244.06,214.68 L244.67,216.41 L245.28,217.57 L245.89,218.30 L246.50,218.73 L247.11,218.97 L247.72,219.09 L248.33,219.15 L248.94,219.18 L249.55,219.19 L250.17,219.20 L250.78,219.20 L251.39,219.20 L252.00,219.20 L252.61,219.20 L253.22,219.20 L253.83,219.20 L254.44,219.20 L255.05,219.20 L255.66,219.20 L256.27,219.20 L256.88,219.20 L257.49,219.20 L258.11,219.20 L258.72,219.20 L259.33,219.20 L259.94,219.20 L260.55,219.20 L261.16,219.20 L261.77,219.20 L262.38,219.20 L262.99,219.20 L263.60,219.20 L264.21,219.20 L264.82,219.20 L265.43,219.20 L266.05,219.20 L266.66,219.20 L267.27,219.20 L267.88,219.20 L268.49,219.20 L269.10,219.20 L269.71,219.20 L270.32,219.20 L270.93,219.20 L271.54,219.20 L272.15,219.20 L272.76,219.20 L273.37,219.20 L273.98,219.20 L274.60,219.20 L275.21,219.20 L275.82,219.20 L276.43,219.20 L277.04,219.20 L277.65,219.20 L278.26,219.20" fill="none" stroke="#5a7db3" stroke-width="0.9"/>
<path d="M229.40,219.16 L230.01,219.14 L230.62,219.11 L231.23,219.07 L231.84,219.03 L232.45,218.96 L233.06,218.87 L233.68,218.76 L234.29,218.61 L234.90,218.42 L235.51,218.17 L236.12,217.87 L236.73,217.50 L237.34,217.05 L237.95,216.50 L238.56,215.85 L239.17,215.09 L239.78,214.20 L240.39,213.19 L241.00,212.06 L241.62,210.79 L242.23,209.41 L242.84,207.92 L243.45,206.35 L244.06,204.70 L244.67,203.02 L245.28,201.33 L245.89,199.68 L246.50,198.10 L247.11,196.63 L247.72,195.31 L248.33,194.18 L248.94,193.27 L249.55,192.62 L250.17,192.23 L250.78,192.13 L251.39,192.24 L252.00,192.52 L252.61,192.96 L253.22,193.56 L253.83,194.30 L254.44,195.17 L255.05,196.16 L255.66,197.25 L256.27,198.42 L256.88,199.65 L257.49,200.92 L258.11,202.22 L258.72,203.52 L259.33,204.82 L259.94,206.09 L260.55,207.33 L261.16,208.51 L261.77,209.64 L262.38,210.71 L262.99,211.70 L263.60,212.62 L264.21,213.46 L264.82,214.23 L265.43,214.92 L266.05,215.54 L266.66,216.08 L267.27,216.57 L267.88,216.99 L268.49,217.36 L269.10,217.67 L269.71,217.94 L270.32,218.17 L270.93,218.36 L271.54,218.52 L272.15,218.66 L272.76,218.77 L273.37,218.86 L273.98,218.93 L274.60,218.99 L275.21,219.03 L275.82,219.07 L276.43,219.10 L277.04,219.12 L277.65,219.14 L278.26,219.16" fill="none" stroke="#c8213c" stroke-width="0.9"/>
<rect x="229.40" y="188.20" width="48.90" height="31.00" fill="none" stroke="#111" stroke-width="1.1"/>
<line x1="225.90" y1="190.70" x2="229.40" y2="190.70" stroke="#111" stroke-width="0.8"/>
<text x="224.30" y="193.00" font-size="6.6" text-anchor="end" fill="#231f20" textLength="10" lengthAdjust="spacingAndGlyphs">100</text>
<line x1="225.90" y1="196.40" x2="229.40" y2="196.40" stroke="#111" stroke-width="0.8"/>
<text x="224.30" y="198.70" font-size="6.6" text-anchor="end" fill="#231f20" textLength="6.7" lengthAdjust="spacingAndGlyphs">80</text>
<line x1="225.90" y1="202.10" x2="229.40" y2="202.10" stroke="#111" stroke-width="0.8"/>
<text x="224.30" y="204.40" font-size="6.6" text-anchor="end" fill="#231f20" textLength="6.7" lengthAdjust="spacingAndGlyphs">60</text>
<line x1="225.90" y1="207.80" x2="229.40" y2="207.80" stroke="#111" stroke-width="0.8"/>
<text x="224.30" y="210.10" font-size="6.6" text-anchor="end" fill="#231f20" textLength="6.7" lengthAdjust="spacingAndGlyphs">40</text>
<line x1="225.90" y1="213.50" x2="229.40" y2="213.50" stroke="#111" stroke-width="0.8"/>
<text x="224.30" y="215.80" font-size="6.6" text-anchor="end" fill="#231f20" textLength="6.7" lengthAdjust="spacingAndGlyphs">20</text>
<line x1="225.90" y1="219.20" x2="229.40" y2="219.20" stroke="#111" stroke-width="0.8"/>
<text x="224.30" y="221.50" font-size="6.6" text-anchor="end" fill="#231f20" textLength="3.4" lengthAdjust="spacingAndGlyphs">0</text>
<line x1="236.38" y1="219.20" x2="236.38" y2="221.40" stroke="#111" stroke-width="0.9"/>
<text x="236.38" y="231.40" font-size="6.8" text-anchor="middle" fill="#231f20">1k</text>
<line x1="250.34" y1="219.20" x2="250.34" y2="221.40" stroke="#111" stroke-width="0.9"/>
<text x="250.34" y="231.40" font-size="6.8" text-anchor="middle" fill="#231f20">3k</text>
<line x1="264.30" y1="219.20" x2="264.30" y2="221.40" stroke="#111" stroke-width="0.9"/>
<text x="264.30" y="231.40" font-size="6.8" text-anchor="middle" fill="#231f20">5k</text>
<line x1="278.26" y1="219.20" x2="278.26" y2="221.40" stroke="#111" stroke-width="0.9"/>
<text x="278.26" y="231.40" font-size="6.8" text-anchor="middle" fill="#231f20">7k</text>
<line x1="229.40" y1="219.20" x2="229.40" y2="220.40" stroke="#111" stroke-width="0.7"/>
<line x1="236.38" y1="219.20" x2="236.38" y2="220.40" stroke="#111" stroke-width="0.7"/>
<line x1="243.36" y1="219.20" x2="243.36" y2="220.40" stroke="#111" stroke-width="0.7"/>
<line x1="250.34" y1="219.20" x2="250.34" y2="220.40" stroke="#111" stroke-width="0.7"/>
<line x1="257.32" y1="219.20" x2="257.32" y2="220.40" stroke="#111" stroke-width="0.7"/>
<line x1="264.30" y1="219.20" x2="264.30" y2="220.40" stroke="#111" stroke-width="0.7"/>
<line x1="271.28" y1="219.20" x2="271.28" y2="220.40" stroke="#111" stroke-width="0.7"/>
<line x1="278.26" y1="219.20" x2="278.26" y2="220.40" stroke="#111" stroke-width="0.7"/>
<text x="326.50" y="182.20" font-size="8.4" text-anchor="middle" fill="#231f20" textLength="24" lengthAdjust="spacingAndGlyphs">CLL19</text>
<path d="M300.50,217.87 L301.11,216.96 L301.72,215.62 L302.33,213.75 L302.94,211.28 L303.55,208.22 L304.16,204.70 L304.78,200.94 L305.39,197.29 L306.00,194.13 L306.61,191.85 L307.22,190.77 L307.83,191.23 L308.44,193.75 L309.05,197.82 L309.66,202.61 L310.27,207.31 L310.88,211.34 L311.49,214.40 L312.10,216.49 L312.71,217.79 L313.33,218.52 L313.94,218.90 L314.55,219.08 L315.16,219.15 L315.77,219.18 L316.38,219.19 L316.99,219.20 L317.60,219.20 L318.21,219.20 L318.82,219.20 L319.43,219.20 L320.04,219.20 L320.65,219.20 L321.27,219.20 L321.88,219.20 L322.49,219.20 L323.10,219.20 L323.71,219.20 L324.32,219.20 L324.93,219.20 L325.54,219.20 L326.15,219.20 L326.76,219.20 L327.37,219.20 L327.98,219.20 L328.59,219.20 L329.21,219.20 L329.82,219.20 L330.43,219.20 L331.04,219.20 L331.65,219.20 L332.26,219.20 L332.87,219.20 L333.48,219.20 L334.09,219.20 L334.70,219.20 L335.31,219.20 L335.92,219.20 L336.53,219.20 L337.14,219.20 L337.76,219.20 L338.37,219.20 L338.98,219.20 L339.59,219.20 L340.20,219.20 L340.81,219.20 L341.42,219.20 L342.03,219.20 L342.64,219.20 L343.25,219.20 L343.86,219.20 L344.47,219.20 L345.08,219.20 L345.70,219.20 L346.31,219.20 L346.92,219.20 L347.53,219.20 L348.14,219.20 L348.75,219.20 L349.36,219.20 L349.4,219.2 L300.5,219.2 Z" fill="#c9d7ec" stroke="none" stroke-width="1" fill-opacity="0.85"/>
<path d="M300.50,219.19 L301.11,219.17 L301.72,219.15 L302.33,219.11 L302.94,219.04 L303.55,218.93 L304.16,218.75 L304.78,218.48 L305.39,218.07 L306.00,217.48 L306.61,216.67 L307.22,215.57 L307.83,214.14 L308.44,212.36 L309.05,210.22 L309.66,207.76 L310.27,205.04 L310.88,202.19 L311.49,199.35 L312.10,196.71 L312.71,194.45 L313.33,192.76 L313.94,191.78 L314.55,191.57 L315.16,191.88 L315.77,192.60 L316.38,193.69 L316.99,195.11 L317.60,196.79 L318.21,198.67 L318.82,200.67 L319.43,202.73 L320.04,204.78 L320.65,206.77 L321.27,208.64 L321.88,210.37 L322.49,211.92 L323.10,213.29 L323.71,214.48 L324.32,215.48 L324.93,216.32 L325.54,217.00 L326.15,217.55 L326.76,217.97 L327.37,218.31 L327.98,218.56 L328.59,218.75 L329.21,218.88 L329.82,218.98 L330.43,219.05 L331.04,219.10 L331.65,219.14 L332.26,219.16 L332.87,219.17 L333.48,219.18 L334.09,219.19 L334.70,219.19 L335.31,219.20 L335.92,219.20 L336.53,219.20 L337.14,219.20 L337.76,219.20 L338.37,219.20 L338.98,219.20 L339.59,219.20 L340.20,219.20 L340.81,219.20 L341.42,219.20 L342.03,219.20 L342.64,219.20 L343.25,219.20 L343.86,219.20 L344.47,219.20 L345.08,219.20 L345.70,219.20 L346.31,219.20 L346.92,219.20 L347.53,219.20 L348.14,219.20 L348.75,219.20 L349.36,219.20 L349.4,219.2 L300.5,219.2 Z" fill="#f6c6c6" stroke="none" stroke-width="1" fill-opacity="0.75"/>
<path d="M300.50,217.87 L301.11,216.96 L301.72,215.62 L302.33,213.75 L302.94,211.28 L303.55,208.22 L304.16,204.70 L304.78,200.94 L305.39,197.29 L306.00,194.13 L306.61,191.85 L307.22,190.77 L307.83,191.23 L308.44,193.75 L309.05,197.82 L309.66,202.61 L310.27,207.31 L310.88,211.34 L311.49,214.40 L312.10,216.49 L312.71,217.79 L313.33,218.52 L313.94,218.90 L314.55,219.08 L315.16,219.15 L315.77,219.18 L316.38,219.19 L316.99,219.20 L317.60,219.20 L318.21,219.20 L318.82,219.20 L319.43,219.20 L320.04,219.20 L320.65,219.20 L321.27,219.20 L321.88,219.20 L322.49,219.20 L323.10,219.20 L323.71,219.20 L324.32,219.20 L324.93,219.20 L325.54,219.20 L326.15,219.20 L326.76,219.20 L327.37,219.20 L327.98,219.20 L328.59,219.20 L329.21,219.20 L329.82,219.20 L330.43,219.20 L331.04,219.20 L331.65,219.20 L332.26,219.20 L332.87,219.20 L333.48,219.20 L334.09,219.20 L334.70,219.20 L335.31,219.20 L335.92,219.20 L336.53,219.20 L337.14,219.20 L337.76,219.20 L338.37,219.20 L338.98,219.20 L339.59,219.20 L340.20,219.20 L340.81,219.20 L341.42,219.20 L342.03,219.20 L342.64,219.20 L343.25,219.20 L343.86,219.20 L344.47,219.20 L345.08,219.20 L345.70,219.20 L346.31,219.20 L346.92,219.20 L347.53,219.20 L348.14,219.20 L348.75,219.20 L349.36,219.20" fill="none" stroke="#5a7db3" stroke-width="0.9"/>
<path d="M300.50,219.19 L301.11,219.17 L301.72,219.15 L302.33,219.11 L302.94,219.04 L303.55,218.93 L304.16,218.75 L304.78,218.48 L305.39,218.07 L306.00,217.48 L306.61,216.67 L307.22,215.57 L307.83,214.14 L308.44,212.36 L309.05,210.22 L309.66,207.76 L310.27,205.04 L310.88,202.19 L311.49,199.35 L312.10,196.71 L312.71,194.45 L313.33,192.76 L313.94,191.78 L314.55,191.57 L315.16,191.88 L315.77,192.60 L316.38,193.69 L316.99,195.11 L317.60,196.79 L318.21,198.67 L318.82,200.67 L319.43,202.73 L320.04,204.78 L320.65,206.77 L321.27,208.64 L321.88,210.37 L322.49,211.92 L323.10,213.29 L323.71,214.48 L324.32,215.48 L324.93,216.32 L325.54,217.00 L326.15,217.55 L326.76,217.97 L327.37,218.31 L327.98,218.56 L328.59,218.75 L329.21,218.88 L329.82,218.98 L330.43,219.05 L331.04,219.10 L331.65,219.14 L332.26,219.16 L332.87,219.17 L333.48,219.18 L334.09,219.19 L334.70,219.19 L335.31,219.20 L335.92,219.20 L336.53,219.20 L337.14,219.20 L337.76,219.20 L338.37,219.20 L338.98,219.20 L339.59,219.20 L340.20,219.20 L340.81,219.20 L341.42,219.20 L342.03,219.20 L342.64,219.20 L343.25,219.20 L343.86,219.20 L344.47,219.20 L345.08,219.20 L345.70,219.20 L346.31,219.20 L346.92,219.20 L347.53,219.20 L348.14,219.20 L348.75,219.20 L349.36,219.20" fill="none" stroke="#c8213c" stroke-width="0.9"/>
<rect x="300.50" y="188.20" width="48.90" height="31.00" fill="none" stroke="#111" stroke-width="1.1"/>
<line x1="297.00" y1="190.70" x2="300.50" y2="190.70" stroke="#111" stroke-width="0.8"/>
<text x="295.40" y="193.00" font-size="6.6" text-anchor="end" fill="#231f20" textLength="10" lengthAdjust="spacingAndGlyphs">100</text>
<line x1="297.00" y1="196.40" x2="300.50" y2="196.40" stroke="#111" stroke-width="0.8"/>
<text x="295.40" y="198.70" font-size="6.6" text-anchor="end" fill="#231f20" textLength="6.7" lengthAdjust="spacingAndGlyphs">80</text>
<line x1="297.00" y1="202.10" x2="300.50" y2="202.10" stroke="#111" stroke-width="0.8"/>
<text x="295.40" y="204.40" font-size="6.6" text-anchor="end" fill="#231f20" textLength="6.7" lengthAdjust="spacingAndGlyphs">60</text>
<line x1="297.00" y1="207.80" x2="300.50" y2="207.80" stroke="#111" stroke-width="0.8"/>
<text x="295.40" y="210.10" font-size="6.6" text-anchor="end" fill="#231f20" textLength="6.7" lengthAdjust="spacingAndGlyphs">40</text>
<line x1="297.00" y1="213.50" x2="300.50" y2="213.50" stroke="#111" stroke-width="0.8"/>
<text x="295.40" y="215.80" font-size="6.6" text-anchor="end" fill="#231f20" textLength="6.7" lengthAdjust="spacingAndGlyphs">20</text>
<line x1="297.00" y1="219.20" x2="300.50" y2="219.20" stroke="#111" stroke-width="0.8"/>
<text x="295.40" y="221.50" font-size="6.6" text-anchor="end" fill="#231f20" textLength="3.4" lengthAdjust="spacingAndGlyphs">0</text>
<line x1="307.48" y1="219.20" x2="307.48" y2="221.40" stroke="#111" stroke-width="0.9"/>
<text x="307.48" y="231.40" font-size="6.8" text-anchor="middle" fill="#231f20">1k</text>
<line x1="321.44" y1="219.20" x2="321.44" y2="221.40" stroke="#111" stroke-width="0.9"/>
<text x="321.44" y="231.40" font-size="6.8" text-anchor="middle" fill="#231f20">3k</text>
<line x1="335.40" y1="219.20" x2="335.40" y2="221.40" stroke="#111" stroke-width="0.9"/>
<text x="335.40" y="231.40" font-size="6.8" text-anchor="middle" fill="#231f20">5k</text>
<line x1="349.36" y1="219.20" x2="349.36" y2="221.40" stroke="#111" stroke-width="0.9"/>
<text x="349.36" y="231.40" font-size="6.8" text-anchor="middle" fill="#231f20">7k</text>
<line x1="300.50" y1="219.20" x2="300.50" y2="220.40" stroke="#111" stroke-width="0.7"/>
<line x1="307.48" y1="219.20" x2="307.48" y2="220.40" stroke="#111" stroke-width="0.7"/>
<line x1="314.46" y1="219.20" x2="314.46" y2="220.40" stroke="#111" stroke-width="0.7"/>
<line x1="321.44" y1="219.20" x2="321.44" y2="220.40" stroke="#111" stroke-width="0.7"/>
<line x1="328.42" y1="219.20" x2="328.42" y2="220.40" stroke="#111" stroke-width="0.7"/>
<line x1="335.40" y1="219.20" x2="335.40" y2="220.40" stroke="#111" stroke-width="0.7"/>
<line x1="342.38" y1="219.20" x2="342.38" y2="220.40" stroke="#111" stroke-width="0.7"/>
<line x1="349.36" y1="219.20" x2="349.36" y2="220.40" stroke="#111" stroke-width="0.7"/>
<text x="398.00" y="182.20" font-size="8.4" text-anchor="middle" fill="#231f20" textLength="24" lengthAdjust="spacingAndGlyphs">CLL22</text>
<path d="M372.20,218.86 L372.81,218.69 L373.42,218.45 L374.03,218.12 L374.64,217.66 L375.25,217.06 L375.86,216.28 L376.48,215.30 L377.09,214.10 L377.70,212.65 L378.31,210.97 L378.92,209.07 L379.53,206.97 L380.14,204.73 L380.75,202.42 L381.36,200.14 L381.97,197.98 L382.58,196.05 L383.19,194.45 L383.80,193.27 L384.41,192.58 L385.03,192.43 L385.64,193.27 L386.25,195.21 L386.86,197.98 L387.47,201.27 L388.08,204.73 L388.69,208.04 L389.30,210.97 L389.91,213.41 L390.52,215.30 L391.13,216.69 L391.74,217.66 L392.35,218.30 L392.97,218.69 L393.58,218.93 L394.19,219.06 L394.80,219.13 L395.41,219.17 L396.02,219.19 L396.63,219.19 L397.24,219.20 L397.85,219.20 L398.46,219.20 L399.07,219.20 L399.68,219.20 L400.29,219.20 L400.91,219.20 L401.52,219.20 L402.13,219.20 L402.74,219.20 L403.35,219.20 L403.96,219.20 L404.57,219.20 L405.18,219.20 L405.79,219.20 L406.40,219.20 L407.01,219.20 L407.62,219.20 L408.23,219.20 L408.84,219.20 L409.46,219.20 L410.07,219.20 L410.68,219.20 L411.29,219.20 L411.90,219.20 L412.51,219.20 L413.12,219.20 L413.73,219.20 L414.34,219.20 L414.95,219.20 L415.56,219.20 L416.17,219.20 L416.78,219.20 L417.40,219.20 L418.01,219.20 L418.62,219.20 L419.23,219.20 L419.84,219.20 L420.45,219.20 L421.06,219.20 L421.09999999999997,219.2 L372.2,219.2 Z" fill="#c9d7ec" stroke="none" stroke-width="1" fill-opacity="0.85"/>
<path d="M372.20,219.20 L372.81,219.20 L373.42,219.19 L374.03,219.19 L374.64,219.17 L375.25,219.15 L375.86,219.12 L376.48,219.06 L377.09,218.97 L377.70,218.83 L378.31,218.62 L378.92,218.32 L379.53,217.91 L380.14,217.35 L380.75,216.63 L381.36,215.72 L381.97,214.60 L382.58,213.28 L383.19,211.75 L383.80,210.04 L384.41,208.18 L385.03,206.22 L385.64,204.21 L386.25,202.22 L386.86,200.30 L387.47,198.53 L388.08,196.94 L388.69,195.58 L389.30,194.47 L389.91,193.62 L390.52,193.02 L391.13,192.65 L391.74,192.46 L392.35,192.41 L392.97,192.42 L393.58,192.50 L394.19,192.70 L394.80,193.07 L395.41,193.61 L396.02,194.36 L396.63,195.31 L397.24,196.46 L397.85,197.81 L398.46,199.32 L399.07,200.96 L399.68,202.70 L400.29,204.49 L400.91,206.28 L401.52,208.04 L402.13,209.71 L402.74,211.28 L403.35,212.70 L403.96,213.97 L404.57,215.07 L405.18,216.01 L405.79,216.78 L406.40,217.40 L407.01,217.90 L407.62,218.27 L408.23,218.56 L408.84,218.76 L409.46,218.91 L410.07,219.01 L410.68,219.08 L411.29,219.13 L411.90,219.16 L412.51,219.17 L413.12,219.19 L413.73,219.19 L414.34,219.20 L414.95,219.20 L415.56,219.20 L416.17,219.20 L416.78,219.20 L417.40,219.20 L418.01,219.20 L418.62,219.20 L419.23,219.20 L419.84,219.20 L420.45,219.20 L421.06,219.20 L421.09999999999997,219.2 L372.2,219.2 Z" fill="#f6c6c6" stroke="none" stroke-width="1" fill-opacity="0.75"/>
<path d="M372.20,218.86 L372.81,218.69 L373.42,218.45 L374.03,218.12 L374.64,217.66 L375.25,217.06 L375.86,216.28 L376.48,215.30 L377.09,214.10 L377.70,212.65 L378.31,210.97 L378.92,209.07 L379.53,206.97 L380.14,204.73 L380.75,202.42 L381.36,200.14 L381.97,197.98 L382.58,196.05 L383.19,194.45 L383.80,193.27 L384.41,192.58 L385.03,192.43 L385.64,193.27 L386.25,195.21 L386.86,197.98 L387.47,201.27 L388.08,204.73 L388.69,208.04 L389.30,210.97 L389.91,213.41 L390.52,215.30 L391.13,216.69 L391.74,217.66 L392.35,218.30 L392.97,218.69 L393.58,218.93 L394.19,219.06 L394.80,219.13 L395.41,219.17 L396.02,219.19 L396.63,219.19 L397.24,219.20 L397.85,219.20 L398.46,219.20 L399.07,219.20 L399.68,219.20 L400.29,219.20 L400.91,219.20 L401.52,219.20 L402.13,219.20 L402.74,219.20 L403.35,219.20 L403.96,219.20 L404.57,219.20 L405.18,219.20 L405.79,219.20 L406.40,219.20 L407.01,219.20 L407.62,219.20 L408.23,219.20 L408.84,219.20 L409.46,219.20 L410.07,219.20 L410.68,219.20 L411.29,219.20 L411.90,219.20 L412.51,219.20 L413.12,219.20 L413.73,219.20 L414.34,219.20 L414.95,219.20 L415.56,219.20 L416.17,219.20 L416.78,219.20 L417.40,219.20 L418.01,219.20 L418.62,219.20 L419.23,219.20 L419.84,219.20 L420.45,219.20 L421.06,219.20" fill="none" stroke="#5a7db3" stroke-width="0.9"/>
<path d="M372.20,219.20 L372.81,219.20 L373.42,219.19 L374.03,219.19 L374.64,219.17 L375.25,219.15 L375.86,219.12 L376.48,219.06 L377.09,218.97 L377.70,218.83 L378.31,218.62 L378.92,218.32 L379.53,217.91 L380.14,217.35 L380.75,216.63 L381.36,215.72 L381.97,214.60 L382.58,213.28 L383.19,211.75 L383.80,210.04 L384.41,208.18 L385.03,206.22 L385.64,204.21 L386.25,202.22 L386.86,200.30 L387.47,198.53 L388.08,196.94 L388.69,195.58 L389.30,194.47 L389.91,193.62 L390.52,193.02 L391.13,192.65 L391.74,192.46 L392.35,192.41 L392.97,192.42 L393.58,192.50 L394.19,192.70 L394.80,193.07 L395.41,193.61 L396.02,194.36 L396.63,195.31 L397.24,196.46 L397.85,197.81 L398.46,199.32 L399.07,200.96 L399.68,202.70 L400.29,204.49 L400.91,206.28 L401.52,208.04 L402.13,209.71 L402.74,211.28 L403.35,212.70 L403.96,213.97 L404.57,215.07 L405.18,216.01 L405.79,216.78 L406.40,217.40 L407.01,217.90 L407.62,218.27 L408.23,218.56 L408.84,218.76 L409.46,218.91 L410.07,219.01 L410.68,219.08 L411.29,219.13 L411.90,219.16 L412.51,219.17 L413.12,219.19 L413.73,219.19 L414.34,219.20 L414.95,219.20 L415.56,219.20 L416.17,219.20 L416.78,219.20 L417.40,219.20 L418.01,219.20 L418.62,219.20 L419.23,219.20 L419.84,219.20 L420.45,219.20 L421.06,219.20" fill="none" stroke="#c8213c" stroke-width="0.9"/>
<rect x="372.20" y="188.20" width="48.90" height="31.00" fill="none" stroke="#111" stroke-width="1.1"/>
<line x1="368.70" y1="190.70" x2="372.20" y2="190.70" stroke="#111" stroke-width="0.8"/>
<text x="367.10" y="193.00" font-size="6.6" text-anchor="end" fill="#231f20" textLength="10" lengthAdjust="spacingAndGlyphs">100</text>
<line x1="368.70" y1="196.40" x2="372.20" y2="196.40" stroke="#111" stroke-width="0.8"/>
<text x="367.10" y="198.70" font-size="6.6" text-anchor="end" fill="#231f20" textLength="6.7" lengthAdjust="spacingAndGlyphs">80</text>
<line x1="368.70" y1="202.10" x2="372.20" y2="202.10" stroke="#111" stroke-width="0.8"/>
<text x="367.10" y="204.40" font-size="6.6" text-anchor="end" fill="#231f20" textLength="6.7" lengthAdjust="spacingAndGlyphs">60</text>
<line x1="368.70" y1="207.80" x2="372.20" y2="207.80" stroke="#111" stroke-width="0.8"/>
<text x="367.10" y="210.10" font-size="6.6" text-anchor="end" fill="#231f20" textLength="6.7" lengthAdjust="spacingAndGlyphs">40</text>
<line x1="368.70" y1="213.50" x2="372.20" y2="213.50" stroke="#111" stroke-width="0.8"/>
<text x="367.10" y="215.80" font-size="6.6" text-anchor="end" fill="#231f20" textLength="6.7" lengthAdjust="spacingAndGlyphs">20</text>
<line x1="368.70" y1="219.20" x2="372.20" y2="219.20" stroke="#111" stroke-width="0.8"/>
<text x="367.10" y="221.50" font-size="6.6" text-anchor="end" fill="#231f20" textLength="3.4" lengthAdjust="spacingAndGlyphs">0</text>
<line x1="379.18" y1="219.20" x2="379.18" y2="221.40" stroke="#111" stroke-width="0.9"/>
<text x="379.18" y="231.40" font-size="6.8" text-anchor="middle" fill="#231f20">1k</text>
<line x1="393.14" y1="219.20" x2="393.14" y2="221.40" stroke="#111" stroke-width="0.9"/>
<text x="393.14" y="231.40" font-size="6.8" text-anchor="middle" fill="#231f20">3k</text>
<line x1="407.10" y1="219.20" x2="407.10" y2="221.40" stroke="#111" stroke-width="0.9"/>
<text x="407.10" y="231.40" font-size="6.8" text-anchor="middle" fill="#231f20">5k</text>
<line x1="421.06" y1="219.20" x2="421.06" y2="221.40" stroke="#111" stroke-width="0.9"/>
<text x="421.06" y="231.40" font-size="6.8" text-anchor="middle" fill="#231f20">7k</text>
<line x1="372.20" y1="219.20" x2="372.20" y2="220.40" stroke="#111" stroke-width="0.7"/>
<line x1="379.18" y1="219.20" x2="379.18" y2="220.40" stroke="#111" stroke-width="0.7"/>
<line x1="386.16" y1="219.20" x2="386.16" y2="220.40" stroke="#111" stroke-width="0.7"/>
<line x1="393.14" y1="219.20" x2="393.14" y2="220.40" stroke="#111" stroke-width="0.7"/>
<line x1="400.12" y1="219.20" x2="400.12" y2="220.40" stroke="#111" stroke-width="0.7"/>
<line x1="407.10" y1="219.20" x2="407.10" y2="220.40" stroke="#111" stroke-width="0.7"/>
<line x1="414.08" y1="219.20" x2="414.08" y2="220.40" stroke="#111" stroke-width="0.7"/>
<line x1="421.06" y1="219.20" x2="421.06" y2="220.40" stroke="#111" stroke-width="0.7"/>
<text x="200.90" y="204.00" font-size="6.8" text-anchor="middle" fill="#231f20" transform="rotate(-90 200.90 204.00)" textLength="33" lengthAdjust="spacingAndGlyphs">Normalized</text>
<text x="209.50" y="204.00" font-size="6.8" text-anchor="middle" fill="#231f20" transform="rotate(-90 209.50 204.00)" textLength="23" lengthAdjust="spacingAndGlyphs">to mode</text>
<line x1="226.00" y1="237.40" x2="421.00" y2="237.40" stroke="#333" stroke-width="1.2"/>
<path d="M420.4,235.2 L425.8,237.4 L420.4,239.6 Z" fill="#333" stroke="none" stroke-width="1"/>
<text x="425.00" y="248.70" font-size="8.8" text-anchor="end" fill="#231f20" textLength="14.2" lengthAdjust="spacingAndGlyphs">BCL2</text>
<line x1="227.30" y1="257.40" x2="227.30" y2="280.00" stroke="#111" stroke-width="1.2"/>
<line x1="227.30" y1="280.00" x2="283.00" y2="280.00" stroke="#111" stroke-width="1.2"/>
<line x1="227.70" y1="280.00" x2="227.70" y2="282.30" stroke="#111" stroke-width="1"/>
<text x="230.10" y="289.30" font-size="7.2" text-anchor="end" fill="#231f20" transform="rotate(-45 230.10 289.30)">0</text>
<line x1="235.17" y1="280.00" x2="235.17" y2="282.30" stroke="#111" stroke-width="1"/>
<text x="237.57" y="289.30" font-size="7.2" text-anchor="end" fill="#231f20" transform="rotate(-45 237.57 289.30)">1</text>
<line x1="242.64" y1="280.00" x2="242.64" y2="282.30" stroke="#111" stroke-width="1"/>
<text x="245.04" y="289.30" font-size="7.2" text-anchor="end" fill="#231f20" transform="rotate(-45 245.04 289.30)">2</text>
<line x1="250.11" y1="280.00" x2="250.11" y2="282.30" stroke="#111" stroke-width="1"/>
<text x="252.51" y="289.30" font-size="7.2" text-anchor="end" fill="#231f20" transform="rotate(-45 252.51 289.30)">3</text>
<line x1="257.58" y1="280.00" x2="257.58" y2="282.30" stroke="#111" stroke-width="1"/>
<text x="259.98" y="289.30" font-size="7.2" text-anchor="end" fill="#231f20" transform="rotate(-45 259.98 289.30)">4</text>
<line x1="265.05" y1="280.00" x2="265.05" y2="282.30" stroke="#111" stroke-width="1"/>
<text x="267.45" y="289.30" font-size="7.2" text-anchor="end" fill="#231f20" transform="rotate(-45 267.45 289.30)">5</text>
<line x1="272.52" y1="280.00" x2="272.52" y2="282.30" stroke="#111" stroke-width="1"/>
<text x="274.92" y="289.30" font-size="7.2" text-anchor="end" fill="#231f20" transform="rotate(-45 274.92 289.30)">6</text>
<line x1="279.99" y1="280.00" x2="279.99" y2="282.30" stroke="#111" stroke-width="1"/>
<text x="282.39" y="289.30" font-size="7.2" text-anchor="end" fill="#231f20" transform="rotate(-45 282.39 289.30)">7</text>
<line x1="228.50" y1="264.80" x2="235.50" y2="264.80" stroke="#5a7db3" stroke-width="1"/>
<line x1="241.00" y1="264.80" x2="248.40" y2="264.80" stroke="#5a7db3" stroke-width="1"/>
<rect x="235.50" y="262.60" width="5.50" height="4.40" fill="#a9bfe0" stroke="#5a7db3" stroke-width="0.8"/>
<line x1="238.40" y1="262.60" x2="238.40" y2="267.00" stroke="#5a7db3" stroke-width="0.8"/>
<line x1="230.30" y1="273.10" x2="247.00" y2="273.10" stroke="#d9506a" stroke-width="1"/>
<line x1="258.80" y1="273.10" x2="275.60" y2="273.10" stroke="#d9506a" stroke-width="1"/>
<rect x="247.00" y="270.90" width="11.80" height="4.40" fill="#f2a5b0" stroke="#d9506a" stroke-width="0.8"/>
<line x1="252.80" y1="270.90" x2="252.80" y2="275.30" stroke="#d9506a" stroke-width="0.8"/>
<line x1="295.40" y1="257.40" x2="295.40" y2="280.00" stroke="#111" stroke-width="1.2"/>
<line x1="295.40" y1="280.00" x2="350.00" y2="280.00" stroke="#111" stroke-width="1.2"/>
<line x1="295.40" y1="280.00" x2="295.40" y2="282.30" stroke="#111" stroke-width="1"/>
<text x="297.80" y="289.30" font-size="7.2" text-anchor="end" fill="#231f20" transform="rotate(-45 297.80 289.30)">-0.5</text>
<line x1="301.11" y1="280.00" x2="301.11" y2="282.30" stroke="#111" stroke-width="1"/>
<text x="303.51" y="289.30" font-size="7.2" text-anchor="end" fill="#231f20" transform="rotate(-45 303.51 289.30)">0</text>
<line x1="306.82" y1="280.00" x2="306.82" y2="282.30" stroke="#111" stroke-width="1"/>
<text x="309.22" y="289.30" font-size="7.2" text-anchor="end" fill="#231f20" transform="rotate(-45 309.22 289.30)">0.5</text>
<line x1="312.53" y1="280.00" x2="312.53" y2="282.30" stroke="#111" stroke-width="1"/>
<text x="314.93" y="289.30" font-size="7.2" text-anchor="end" fill="#231f20" transform="rotate(-45 314.93 289.30)">1</text>
<line x1="318.24" y1="280.00" x2="318.24" y2="282.30" stroke="#111" stroke-width="1"/>
<text x="320.64" y="289.30" font-size="7.2" text-anchor="end" fill="#231f20" transform="rotate(-45 320.64 289.30)">1.5</text>
<line x1="323.95" y1="280.00" x2="323.95" y2="282.30" stroke="#111" stroke-width="1"/>
<text x="326.35" y="289.30" font-size="7.2" text-anchor="end" fill="#231f20" transform="rotate(-45 326.35 289.30)">2</text>
<line x1="329.66" y1="280.00" x2="329.66" y2="282.30" stroke="#111" stroke-width="1"/>
<text x="332.06" y="289.30" font-size="7.2" text-anchor="end" fill="#231f20" transform="rotate(-45 332.06 289.30)">2.5</text>
<line x1="335.37" y1="280.00" x2="335.37" y2="282.30" stroke="#111" stroke-width="1"/>
<text x="337.77" y="289.30" font-size="7.2" text-anchor="end" fill="#231f20" transform="rotate(-45 337.77 289.30)">3</text>
<line x1="341.08" y1="280.00" x2="341.08" y2="282.30" stroke="#111" stroke-width="1"/>
<text x="343.48" y="289.30" font-size="7.2" text-anchor="end" fill="#231f20" transform="rotate(-45 343.48 289.30)">3.5</text>
<line x1="346.79" y1="280.00" x2="346.79" y2="282.30" stroke="#111" stroke-width="1"/>
<text x="349.19" y="289.30" font-size="7.2" text-anchor="end" fill="#231f20" transform="rotate(-45 349.19 289.30)">4</text>
<line x1="298.70" y1="264.80" x2="308.10" y2="264.80" stroke="#5a7db3" stroke-width="1"/>
<line x1="316.00" y1="264.80" x2="326.10" y2="264.80" stroke="#5a7db3" stroke-width="1"/>
<rect x="308.10" y="262.60" width="7.90" height="4.40" fill="#a9bfe0" stroke="#5a7db3" stroke-width="0.8"/>
<line x1="312.10" y1="262.60" x2="312.10" y2="267.00" stroke="#5a7db3" stroke-width="0.8"/>
<line x1="303.80" y1="273.10" x2="318.20" y2="273.10" stroke="#d9506a" stroke-width="1"/>
<line x1="328.60" y1="273.10" x2="343.90" y2="273.10" stroke="#d9506a" stroke-width="1"/>
<rect x="318.20" y="270.90" width="10.40" height="4.40" fill="#f2a5b0" stroke="#d9506a" stroke-width="0.8"/>
<line x1="323.20" y1="270.90" x2="323.20" y2="275.30" stroke="#d9506a" stroke-width="0.8"/>
<line x1="364.40" y1="257.40" x2="364.40" y2="280.00" stroke="#111" stroke-width="1.2"/>
<line x1="364.40" y1="280.00" x2="422.80" y2="280.00" stroke="#111" stroke-width="1.2"/>
<line x1="364.40" y1="280.00" x2="364.40" y2="282.30" stroke="#111" stroke-width="1"/>
<text x="366.80" y="289.30" font-size="7.2" text-anchor="end" fill="#231f20" transform="rotate(-45 366.80 289.30)">0</text>
<line x1="373.65" y1="280.00" x2="373.65" y2="282.30" stroke="#111" stroke-width="1"/>
<text x="376.05" y="289.30" font-size="7.2" text-anchor="end" fill="#231f20" transform="rotate(-45 376.05 289.30)">1</text>
<line x1="382.90" y1="280.00" x2="382.90" y2="282.30" stroke="#111" stroke-width="1"/>
<text x="385.30" y="289.30" font-size="7.2" text-anchor="end" fill="#231f20" transform="rotate(-45 385.30 289.30)">2</text>
<line x1="392.15" y1="280.00" x2="392.15" y2="282.30" stroke="#111" stroke-width="1"/>
<text x="394.55" y="289.30" font-size="7.2" text-anchor="end" fill="#231f20" transform="rotate(-45 394.55 289.30)">3</text>
<line x1="401.40" y1="280.00" x2="401.40" y2="282.30" stroke="#111" stroke-width="1"/>
<text x="403.80" y="289.30" font-size="7.2" text-anchor="end" fill="#231f20" transform="rotate(-45 403.80 289.30)">4</text>
<line x1="410.65" y1="280.00" x2="410.65" y2="282.30" stroke="#111" stroke-width="1"/>
<text x="413.05" y="289.30" font-size="7.2" text-anchor="end" fill="#231f20" transform="rotate(-45 413.05 289.30)">5</text>
<line x1="419.90" y1="280.00" x2="419.90" y2="282.30" stroke="#111" stroke-width="1"/>
<text x="422.30" y="289.30" font-size="7.2" text-anchor="end" fill="#231f20" transform="rotate(-45 422.30 289.30)">6</text>
<line x1="365.80" y1="264.80" x2="377.40" y2="264.80" stroke="#5a7db3" stroke-width="1"/>
<line x1="384.90" y1="264.80" x2="396.10" y2="264.80" stroke="#5a7db3" stroke-width="1"/>
<rect x="377.40" y="262.60" width="7.50" height="4.40" fill="#a9bfe0" stroke="#5a7db3" stroke-width="0.8"/>
<line x1="381.00" y1="262.60" x2="381.00" y2="267.00" stroke="#5a7db3" stroke-width="0.8"/>
<line x1="370.20" y1="273.10" x2="387.50" y2="273.10" stroke="#d9506a" stroke-width="1"/>
<line x1="399.00" y1="273.10" x2="416.80" y2="273.10" stroke="#d9506a" stroke-width="1"/>
<rect x="387.50" y="270.90" width="11.50" height="4.40" fill="#f2a5b0" stroke="#d9506a" stroke-width="0.8"/>
<line x1="392.80" y1="270.90" x2="392.80" y2="275.30" stroke="#d9506a" stroke-width="0.8"/>
<text x="225.60" y="267.30" font-size="7.4" text-anchor="end" fill="#5a7db3">Scr</text>
<text x="225.60" y="275.70" font-size="7.4" text-anchor="end" fill="#d9506a" textLength="20.5" lengthAdjust="spacingAndGlyphs">200mg</text>
<line x1="226.80" y1="299.60" x2="421.00" y2="299.60" stroke="#333" stroke-width="1.2"/>
<path d="M420.6,297.4 L425.8,299.6 L420.6,301.8 Z" fill="#333" stroke="none" stroke-width="1"/>
<text x="362.70" y="313.90" font-size="8.6" text-anchor="start" fill="#231f20" textLength="56.6" lengthAdjust="spacingAndGlyphs">BCL-2 intensity (10</text>
<text x="419.50" y="310.40" font-size="4.8" text-anchor="start" fill="#231f20" textLength="4.6" lengthAdjust="spacingAndGlyphs">−3</text>
<text x="424.00" y="313.90" font-size="8.6" text-anchor="start" fill="#231f20" textLength="2.2" lengthAdjust="spacingAndGlyphs">)</text>
<rect x="456.80" y="184.80" width="56.80" height="81.30" fill="none" stroke="#111" stroke-width="1.1"/>
<line x1="454.30" y1="266.10" x2="456.80" y2="266.10" stroke="#111" stroke-width="1"/>
<text x="452.30" y="268.70" font-size="7.2" text-anchor="end" fill="#231f20">0</text>
<line x1="454.30" y1="246.30" x2="456.80" y2="246.30" stroke="#111" stroke-width="1"/>
<text x="452.30" y="248.90" font-size="7.2" text-anchor="end" fill="#231f20">1</text>
<line x1="454.30" y1="226.50" x2="456.80" y2="226.50" stroke="#111" stroke-width="1"/>
<text x="452.30" y="229.10" font-size="7.2" text-anchor="end" fill="#231f20">2</text>
<line x1="454.30" y1="206.70" x2="456.80" y2="206.70" stroke="#111" stroke-width="1"/>
<text x="452.30" y="209.30" font-size="7.2" text-anchor="end" fill="#231f20">3</text>
<line x1="454.30" y1="186.90" x2="456.80" y2="186.90" stroke="#111" stroke-width="1"/>
<text x="452.30" y="189.50" font-size="7.2" text-anchor="end" fill="#231f20">4</text>
<line x1="456.80" y1="246.30" x2="513.60" y2="246.30" stroke="#111" stroke-width="0.9" stroke-dasharray="2.2,1.6"/>
<text x="443.30" y="226.60" font-size="8.4" text-anchor="middle" fill="#231f20" transform="rotate(-90 443.30 226.60)" textLength="67.5" lengthAdjust="spacingAndGlyphs">Fold change 200mg/Scr</text>
<rect x="462.75" y="227.09" width="11.50" height="12.67" fill="#f2a01a" stroke="none" stroke-width="1"/>
<line x1="468.50" y1="207.69" x2="468.50" y2="246.30" stroke="#444" stroke-width="0.9"/>
<line x1="464.50" y1="207.69" x2="472.50" y2="207.69" stroke="#444" stroke-width="1"/>
<line x1="464.50" y1="246.30" x2="472.50" y2="246.30" stroke="#444" stroke-width="1"/>
<circle cx="468.50" cy="207.69" r="1.15" fill="#8c8c8c" stroke="#3a3a3a" stroke-width="0.6"/>
<circle cx="468.50" cy="214.62" r="1.15" fill="#8c8c8c" stroke="#3a3a3a" stroke-width="0.6"/>
<circle cx="468.50" cy="219.57" r="1.15" fill="#8c8c8c" stroke="#3a3a3a" stroke-width="0.6"/>
<circle cx="468.50" cy="223.53" r="1.15" fill="#8c8c8c" stroke="#3a3a3a" stroke-width="0.6"/>
<circle cx="464.00" cy="227.49" r="1.15" fill="#8c8c8c" stroke="#3a3a3a" stroke-width="0.6"/>
<circle cx="466.50" cy="227.09" r="1.15" fill="#8c8c8c" stroke="#3a3a3a" stroke-width="0.6"/>
<circle cx="469.00" cy="227.89" r="1.15" fill="#8c8c8c" stroke="#3a3a3a" stroke-width="0.6"/>
<circle cx="471.50" cy="227.29" r="1.15" fill="#8c8c8c" stroke="#3a3a3a" stroke-width="0.6"/>
<circle cx="473.50" cy="228.08" r="1.15" fill="#8c8c8c" stroke="#3a3a3a" stroke-width="0.6"/>
<circle cx="465.50" cy="229.47" r="1.15" fill="#8c8c8c" stroke="#3a3a3a" stroke-width="0.6"/>
<circle cx="470.50" cy="230.06" r="1.15" fill="#8c8c8c" stroke="#3a3a3a" stroke-width="0.6"/>
<circle cx="468.50" cy="232.44" r="1.15" fill="#8c8c8c" stroke="#3a3a3a" stroke-width="0.6"/>
<circle cx="466.50" cy="235.41" r="1.15" fill="#8c8c8c" stroke="#3a3a3a" stroke-width="0.6"/>
<circle cx="471.00" cy="236.40" r="1.15" fill="#8c8c8c" stroke="#3a3a3a" stroke-width="0.6"/>
<circle cx="467.50" cy="238.38" r="1.15" fill="#8c8c8c" stroke="#3a3a3a" stroke-width="0.6"/>
<circle cx="465.50" cy="241.35" r="1.15" fill="#8c8c8c" stroke="#3a3a3a" stroke-width="0.6"/>
<circle cx="468.50" cy="241.94" r="1.15" fill="#8c8c8c" stroke="#3a3a3a" stroke-width="0.6"/>
<circle cx="471.50" cy="242.34" r="1.15" fill="#8c8c8c" stroke="#3a3a3a" stroke-width="0.6"/>
<circle cx="468.50" cy="246.30" r="1.15" fill="#8c8c8c" stroke="#3a3a3a" stroke-width="0.6"/>
<line x1="468.50" y1="266.10" x2="468.50" y2="268.60" stroke="#111" stroke-width="1"/>
<line x1="485.10" y1="231.45" x2="485.10" y2="248.68" stroke="#444" stroke-width="0.9"/>
<line x1="481.10" y1="231.45" x2="489.10" y2="231.45" stroke="#444" stroke-width="1"/>
<line x1="481.10" y1="248.68" x2="489.10" y2="248.68" stroke="#444" stroke-width="1"/>
<circle cx="485.10" cy="231.45" r="1.15" fill="#8c8c8c" stroke="#3a3a3a" stroke-width="0.6"/>
<circle cx="482.60" cy="235.41" r="1.15" fill="#8c8c8c" stroke="#3a3a3a" stroke-width="0.6"/>
<circle cx="486.60" cy="236.40" r="1.15" fill="#8c8c8c" stroke="#3a3a3a" stroke-width="0.6"/>
<circle cx="485.10" cy="238.38" r="1.15" fill="#8c8c8c" stroke="#3a3a3a" stroke-width="0.6"/>
<circle cx="481.10" cy="240.36" r="1.15" fill="#8c8c8c" stroke="#3a3a3a" stroke-width="0.6"/>
<circle cx="483.60" cy="240.95" r="1.15" fill="#8c8c8c" stroke="#3a3a3a" stroke-width="0.6"/>
<circle cx="486.60" cy="241.35" r="1.15" fill="#8c8c8c" stroke="#3a3a3a" stroke-width="0.6"/>
<circle cx="489.10" cy="240.36" r="1.15" fill="#8c8c8c" stroke="#3a3a3a" stroke-width="0.6"/>
<circle cx="482.10" cy="242.34" r="1.15" fill="#8c8c8c" stroke="#3a3a3a" stroke-width="0.6"/>
<circle cx="485.10" cy="242.74" r="1.15" fill="#8c8c8c" stroke="#3a3a3a" stroke-width="0.6"/>
<circle cx="488.10" cy="243.33" r="1.15" fill="#8c8c8c" stroke="#3a3a3a" stroke-width="0.6"/>
<circle cx="480.60" cy="244.32" r="1.15" fill="#8c8c8c" stroke="#3a3a3a" stroke-width="0.6"/>
<circle cx="483.60" cy="244.72" r="1.15" fill="#8c8c8c" stroke="#3a3a3a" stroke-width="0.6"/>
<circle cx="486.60" cy="243.92" r="1.15" fill="#8c8c8c" stroke="#3a3a3a" stroke-width="0.6"/>
<circle cx="489.60" cy="244.32" r="1.15" fill="#8c8c8c" stroke="#3a3a3a" stroke-width="0.6"/>
<circle cx="483.10" cy="246.30" r="1.15" fill="#8c8c8c" stroke="#3a3a3a" stroke-width="0.6"/>
<circle cx="487.10" cy="246.70" r="1.15" fill="#8c8c8c" stroke="#3a3a3a" stroke-width="0.6"/>
<circle cx="485.10" cy="247.88" r="1.15" fill="#8c8c8c" stroke="#3a3a3a" stroke-width="0.6"/>
<circle cx="485.10" cy="248.68" r="1.15" fill="#8c8c8c" stroke="#3a3a3a" stroke-width="0.6"/>
<line x1="485.10" y1="266.10" x2="485.10" y2="268.60" stroke="#111" stroke-width="1"/>
<rect x="496.50" y="238.78" width="11.00" height="6.53" fill="#f2a01a" stroke="none" stroke-width="1"/>
<line x1="502.00" y1="231.45" x2="502.00" y2="253.63" stroke="#444" stroke-width="0.9"/>
<line x1="498.00" y1="231.45" x2="506.00" y2="231.45" stroke="#444" stroke-width="1"/>
<line x1="498.00" y1="253.63" x2="506.00" y2="253.63" stroke="#444" stroke-width="1"/>
<circle cx="502.00" cy="209.67" r="1.15" fill="#8c8c8c" stroke="#3a3a3a" stroke-width="0.6"/>
<circle cx="502.00" cy="231.45" r="1.15" fill="#8c8c8c" stroke="#3a3a3a" stroke-width="0.6"/>
<circle cx="502.00" cy="234.42" r="1.15" fill="#8c8c8c" stroke="#3a3a3a" stroke-width="0.6"/>
<circle cx="500.00" cy="236.80" r="1.15" fill="#8c8c8c" stroke="#3a3a3a" stroke-width="0.6"/>
<circle cx="504.00" cy="237.39" r="1.15" fill="#8c8c8c" stroke="#3a3a3a" stroke-width="0.6"/>
<circle cx="498.00" cy="239.37" r="1.15" fill="#8c8c8c" stroke="#3a3a3a" stroke-width="0.6"/>
<circle cx="502.00" cy="239.96" r="1.15" fill="#8c8c8c" stroke="#3a3a3a" stroke-width="0.6"/>
<circle cx="506.00" cy="240.36" r="1.15" fill="#8c8c8c" stroke="#3a3a3a" stroke-width="0.6"/>
<circle cx="499.50" cy="241.94" r="1.15" fill="#8c8c8c" stroke="#3a3a3a" stroke-width="0.6"/>
<circle cx="504.50" cy="242.34" r="1.15" fill="#8c8c8c" stroke="#3a3a3a" stroke-width="0.6"/>
<circle cx="497.50" cy="243.92" r="1.15" fill="#8c8c8c" stroke="#3a3a3a" stroke-width="0.6"/>
<circle cx="502.00" cy="244.32" r="1.15" fill="#8c8c8c" stroke="#3a3a3a" stroke-width="0.6"/>
<circle cx="506.50" cy="244.72" r="1.15" fill="#8c8c8c" stroke="#3a3a3a" stroke-width="0.6"/>
<circle cx="500.00" cy="245.90" r="1.15" fill="#8c8c8c" stroke="#3a3a3a" stroke-width="0.6"/>
<circle cx="504.00" cy="246.70" r="1.15" fill="#8c8c8c" stroke="#3a3a3a" stroke-width="0.6"/>
<circle cx="502.00" cy="248.28" r="1.15" fill="#8c8c8c" stroke="#3a3a3a" stroke-width="0.6"/>
<circle cx="502.00" cy="253.63" r="1.15" fill="#8c8c8c" stroke="#3a3a3a" stroke-width="0.6"/>
<line x1="502.00" y1="266.10" x2="502.00" y2="268.60" stroke="#111" stroke-width="1"/>
<text x="468.30" y="199.40" font-size="7" text-anchor="middle" fill="#231f20">****</text>
<text x="485.20" y="207.60" font-size="7" text-anchor="middle" fill="#231f20">***</text>
<text x="471.10" y="276.20" font-size="7.8" text-anchor="end" fill="#231f20" transform="rotate(-45 471.10 276.20)" textLength="16.5" lengthAdjust="spacingAndGlyphs">BCL-2</text>
<text x="487.70" y="276.20" font-size="7.8" text-anchor="end" fill="#231f20" transform="rotate(-45 487.70 276.20)" textLength="17.5" lengthAdjust="spacingAndGlyphs">MCL-1</text>
<text x="504.60" y="276.20" font-size="7.8" text-anchor="end" fill="#231f20" transform="rotate(-45 504.60 276.20)" textLength="20.5" lengthAdjust="spacingAndGlyphs">BCL-XL</text>
<!--F-->
<text x="37.20" y="351.50" font-size="9.2" text-anchor="start" fill="#231f20" textLength="61.5" lengthAdjust="spacingAndGlyphs">CLL19: CLL cells</text>
<line x1="41.50" y1="356.80" x2="41.50" y2="411.90" stroke="#231f20" stroke-width="1.1"/>
<line x1="41.50" y1="411.90" x2="95.00" y2="411.90" stroke="#231f20" stroke-width="1.1"/>
<line x1="39.00" y1="411.90" x2="41.50" y2="411.90" stroke="#231f20" stroke-width="1"/>
<text x="35.50" y="414.30" font-size="6.8" text-anchor="end" fill="#231f20">0</text>
<line x1="39.00" y1="390.20" x2="41.50" y2="390.20" stroke="#231f20" stroke-width="1"/>
<text x="35.50" y="392.60" font-size="6.8" text-anchor="end" fill="#231f20">50</text>
<line x1="39.00" y1="368.50" x2="41.50" y2="368.50" stroke="#231f20" stroke-width="1"/>
<text x="35.50" y="370.90" font-size="6.8" text-anchor="end" fill="#231f20">100</text>
<line x1="41.50" y1="390.30" x2="95.00" y2="390.30" stroke="#222" stroke-width="0.7" stroke-dasharray="0.8,1.3"/>
<text x="19.70" y="384.80" font-size="8.4" text-anchor="middle" fill="#231f20" transform="rotate(-90 19.70 384.80)" textLength="24.7" lengthAdjust="spacingAndGlyphs">Viability</text>
<line x1="48.90" y1="411.90" x2="48.90" y2="414.40" stroke="#231f20" stroke-width="1"/>
<text x="47.70" y="424.80" font-size="6.6" text-anchor="middle" fill="#231f20">10</text>
<text x="51.50" y="421.80" font-size="4.2" text-anchor="start" fill="#231f20">-5</text>
<line x1="63.20" y1="411.90" x2="63.20" y2="414.40" stroke="#231f20" stroke-width="1"/>
<text x="62.00" y="424.80" font-size="6.6" text-anchor="middle" fill="#231f20">10</text>
<text x="65.80" y="421.80" font-size="4.2" text-anchor="start" fill="#231f20">-3</text>
<line x1="77.50" y1="411.90" x2="77.50" y2="414.40" stroke="#231f20" stroke-width="1"/>
<text x="76.30" y="424.80" font-size="6.6" text-anchor="middle" fill="#231f20">10</text>
<text x="80.10" y="421.80" font-size="4.2" text-anchor="start" fill="#231f20">-1</text>
<line x1="91.80" y1="411.90" x2="91.80" y2="414.40" stroke="#231f20" stroke-width="1"/>
<text x="90.60" y="424.80" font-size="6.6" text-anchor="middle" fill="#231f20">10</text>
<text x="94.40" y="421.80" font-size="4.2" text-anchor="start" fill="#231f20">1</text>
<line x1="48.90" y1="411.90" x2="48.90" y2="413.40" stroke="#231f20" stroke-width="0.8"/>
<line x1="56.05" y1="411.90" x2="56.05" y2="413.40" stroke="#231f20" stroke-width="0.8"/>
<line x1="63.20" y1="411.90" x2="63.20" y2="413.40" stroke="#231f20" stroke-width="0.8"/>
<line x1="70.35" y1="411.90" x2="70.35" y2="413.40" stroke="#231f20" stroke-width="0.8"/>
<line x1="77.50" y1="411.90" x2="77.50" y2="413.40" stroke="#231f20" stroke-width="0.8"/>
<line x1="84.65" y1="411.90" x2="84.65" y2="413.40" stroke="#231f20" stroke-width="0.8"/>
<line x1="91.80" y1="411.90" x2="91.80" y2="413.40" stroke="#231f20" stroke-width="0.8"/>
<text x="68.70" y="437.30" font-size="8.6" text-anchor="middle" fill="#231f20" textLength="28" lengthAdjust="spacingAndGlyphs">Ven (µM)</text>
<path d="M41.75,371.45 L42.58,371.64 L43.42,371.84 L44.25,372.06 L45.09,372.28 L45.92,372.52 L46.76,372.78 L47.59,373.04 L48.42,373.33 L49.26,373.62 L50.09,373.93 L50.93,374.26 L51.76,374.61 L52.59,374.97 L53.43,375.35 L54.26,375.75 L55.10,376.17 L55.93,376.60 L56.77,377.05 L57.60,377.53 L58.43,378.02 L59.27,378.53 L60.10,379.06 L60.94,379.61 L61.77,380.17 L62.60,380.76 L63.44,381.36 L64.27,381.98 L65.11,382.61 L65.94,383.26 L66.78,383.93 L67.61,384.60 L68.44,385.29 L69.28,385.99 L70.11,386.70 L70.95,387.41 L71.78,388.14 L72.61,388.86 L73.45,389.59 L74.28,390.33 L75.12,391.06 L75.95,391.79 L76.78,392.51 L77.62,393.23 L78.45,393.95 L79.29,394.65 L80.12,395.35 L80.96,396.03 L81.79,396.70 L82.62,397.36 L83.46,398.01 L84.29,398.64 L85.13,399.25 L85.96,399.84 L86.80,400.42 L87.63,400.98 L88.46,401.52 L89.30,402.05 L90.13,402.55 L90.97,403.04 L91.80,403.50" fill="none" stroke="#1d5d80" stroke-width="1.5"/>
<path d="M47.47,368.80 L48.21,368.84 L48.95,368.88 L49.69,368.93 L50.43,368.98 L51.16,369.04 L51.90,369.11 L52.64,369.19 L53.38,369.27 L54.12,369.36 L54.86,369.47 L55.60,369.59 L56.34,369.72 L57.07,369.87 L57.81,370.04 L58.55,370.22 L59.29,370.43 L60.03,370.66 L60.77,370.92 L61.51,371.20 L62.25,371.52 L62.99,371.87 L63.72,372.26 L64.46,372.68 L65.20,373.15 L65.94,373.67 L66.68,374.23 L67.42,374.85 L68.16,375.52 L68.90,376.24 L69.63,377.02 L70.37,377.86 L71.11,378.76 L71.85,379.72 L72.59,380.73 L73.33,381.79 L74.07,382.91 L74.81,384.07 L75.55,385.27 L76.28,386.51 L77.02,387.77 L77.76,389.04 L78.50,390.32 L79.24,391.61 L79.98,392.88 L80.72,394.13 L81.46,395.36 L82.20,396.56 L82.93,397.71 L83.67,398.82 L84.41,399.87 L85.15,400.87 L85.89,401.82 L86.63,402.71 L87.37,403.53 L88.11,404.31 L88.84,405.02 L89.58,405.68 L90.32,406.28 L91.06,406.84 L91.80,407.34" fill="none" stroke="#d21f3c" stroke-width="1.5"/>
<circle cx="41.50" cy="368.50" r="1.6" fill="#1d4e78" stroke="none" stroke-width="0.6"/>
<circle cx="66.06" cy="378.48" r="1.6" fill="#1d4e78" stroke="none" stroke-width="0.6"/>
<circle cx="72.50" cy="394.54" r="1.6" fill="#1d4e78" stroke="none" stroke-width="0.6"/>
<circle cx="78.93" cy="399.31" r="1.6" fill="#1d4e78" stroke="none" stroke-width="0.6"/>
<circle cx="86.08" cy="399.31" r="1.6" fill="#1d4e78" stroke="none" stroke-width="0.6"/>
<circle cx="91.80" cy="398.45" r="1.6" fill="#1d4e78" stroke="none" stroke-width="0.6"/>
<path d="M39.60,370.00 L41.50,366.60 L43.40,370.00 Z" fill="#d21f3c" stroke="none" stroke-width="1"/>
<path d="M64.16,372.17 L66.06,368.77 L67.96,372.17 Z" fill="#d21f3c" stroke="none" stroke-width="1"/>
<path d="M70.59,384.76 L72.50,381.36 L74.40,384.76 Z" fill="#d21f3c" stroke="none" stroke-width="1"/>
<path d="M77.03,402.98 L78.93,399.58 L80.83,402.98 Z" fill="#d21f3c" stroke="none" stroke-width="1"/>
<path d="M84.18,405.15 L86.08,401.75 L87.98,405.15 Z" fill="#d21f3c" stroke="none" stroke-width="1"/>
<path d="M89.90,403.42 L91.80,400.02 L93.70,403.42 Z" fill="#d21f3c" stroke="none" stroke-width="1"/>
<line x1="90.30" y1="367.60" x2="95.50" y2="367.60" stroke="#1d4e78" stroke-width="0.8"/>
<circle cx="92.90" cy="367.60" r="1.4" fill="#1d4e78" stroke="none" stroke-width="0.6"/>
<text x="98.90" y="370.10" font-size="7" text-anchor="start" fill="#231f20" textLength="27.2" lengthAdjust="spacingAndGlyphs">DG19-Scr</text>
<line x1="90.30" y1="375.30" x2="95.50" y2="375.30" stroke="#d21f3c" stroke-width="0.8"/>
<path d="M91.30,376.60 L92.90,373.70 L94.50,376.60 Z" fill="#d21f3c" stroke="none" stroke-width="1"/>
<text x="98.90" y="377.80" font-size="7" text-anchor="start" fill="#231f20" textLength="39.4" lengthAdjust="spacingAndGlyphs">DG19-200mg</text>
<rect x="21.60" y="441.30" width="92.70" height="18.50" fill="none" stroke="#333" stroke-width="0.8"/>
<line x1="21.60" y1="450.20" x2="114.30" y2="450.20" stroke="#333" stroke-width="0.8"/>
<line x1="38.60" y1="441.30" x2="38.60" y2="459.80" stroke="#333" stroke-width="0.8"/>
<line x1="71.30" y1="441.30" x2="71.30" y2="459.80" stroke="#333" stroke-width="0.8"/>
<text x="54.95" y="448.30" font-size="6.6" text-anchor="middle" fill="#231f20" textLength="28.699999999999996" lengthAdjust="spacingAndGlyphs">DG19-Scr</text>
<text x="92.80" y="448.30" font-size="6.6" text-anchor="middle" fill="#231f20" textLength="39.0" lengthAdjust="spacingAndGlyphs">DG19-200mg</text>
<text x="30.10" y="457.60" font-size="6.6" text-anchor="middle" fill="#231f20" textLength="14.0" lengthAdjust="spacingAndGlyphs">LC50</text>
<text x="54.95" y="457.60" font-size="6.6" text-anchor="middle" fill="#231f20">0.02565</text>
<text x="92.80" y="457.60" font-size="6.6" text-anchor="middle" fill="#231f20">0.06723</text>
<text x="296.90" y="351.50" font-size="9.2" text-anchor="start" fill="#231f20" textLength="71.6" lengthAdjust="spacingAndGlyphs">CLL19: CD4 T cells</text>
<line x1="305.80" y1="356.80" x2="305.80" y2="411.90" stroke="#231f20" stroke-width="1.1"/>
<line x1="305.80" y1="411.90" x2="359.30" y2="411.90" stroke="#231f20" stroke-width="1.1"/>
<line x1="303.30" y1="411.90" x2="305.80" y2="411.90" stroke="#231f20" stroke-width="1"/>
<text x="299.80" y="414.30" font-size="6.8" text-anchor="end" fill="#231f20">0</text>
<line x1="303.30" y1="390.20" x2="305.80" y2="390.20" stroke="#231f20" stroke-width="1"/>
<text x="299.80" y="392.60" font-size="6.8" text-anchor="end" fill="#231f20">50</text>
<line x1="303.30" y1="368.50" x2="305.80" y2="368.50" stroke="#231f20" stroke-width="1"/>
<text x="299.80" y="370.90" font-size="6.8" text-anchor="end" fill="#231f20">100</text>
<line x1="305.80" y1="390.30" x2="359.30" y2="390.30" stroke="#222" stroke-width="0.7" stroke-dasharray="0.8,1.3"/>
<text x="284.00" y="384.80" font-size="8.4" text-anchor="middle" fill="#231f20" transform="rotate(-90 284.00 384.80)" textLength="24.7" lengthAdjust="spacingAndGlyphs">Viability</text>
<line x1="313.20" y1="411.90" x2="313.20" y2="414.40" stroke="#231f20" stroke-width="1"/>
<text x="312.00" y="424.80" font-size="6.6" text-anchor="middle" fill="#231f20">10</text>
<text x="315.80" y="421.80" font-size="4.2" text-anchor="start" fill="#231f20">-5</text>
<line x1="327.50" y1="411.90" x2="327.50" y2="414.40" stroke="#231f20" stroke-width="1"/>
<text x="326.30" y="424.80" font-size="6.6" text-anchor="middle" fill="#231f20">10</text>
<text x="330.10" y="421.80" font-size="4.2" text-anchor="start" fill="#231f20">-3</text>
<line x1="341.80" y1="411.90" x2="341.80" y2="414.40" stroke="#231f20" stroke-width="1"/>
<text x="340.60" y="424.80" font-size="6.6" text-anchor="middle" fill="#231f20">10</text>
<text x="344.40" y="421.80" font-size="4.2" text-anchor="start" fill="#231f20">-1</text>
<line x1="356.10" y1="411.90" x2="356.10" y2="414.40" stroke="#231f20" stroke-width="1"/>
<text x="354.90" y="424.80" font-size="6.6" text-anchor="middle" fill="#231f20">10</text>
<text x="358.70" y="421.80" font-size="4.2" text-anchor="start" fill="#231f20">1</text>
<line x1="313.20" y1="411.90" x2="313.20" y2="413.40" stroke="#231f20" stroke-width="0.8"/>
<line x1="320.35" y1="411.90" x2="320.35" y2="413.40" stroke="#231f20" stroke-width="0.8"/>
<line x1="327.50" y1="411.90" x2="327.50" y2="413.40" stroke="#231f20" stroke-width="0.8"/>
<line x1="334.65" y1="411.90" x2="334.65" y2="413.40" stroke="#231f20" stroke-width="0.8"/>
<line x1="341.80" y1="411.90" x2="341.80" y2="413.40" stroke="#231f20" stroke-width="0.8"/>
<line x1="348.95" y1="411.90" x2="348.95" y2="413.40" stroke="#231f20" stroke-width="0.8"/>
<line x1="356.10" y1="411.90" x2="356.10" y2="413.40" stroke="#231f20" stroke-width="0.8"/>
<text x="333.00" y="437.30" font-size="8.6" text-anchor="middle" fill="#231f20" textLength="28" lengthAdjust="spacingAndGlyphs">Ven (µM)</text>
<path d="M311.77,368.62 L312.51,368.63 L313.25,368.65 L313.99,368.67 L314.73,368.69 L315.46,368.71 L316.20,368.73 L316.94,368.76 L317.68,368.79 L318.42,368.82 L319.16,368.86 L319.90,368.90 L320.64,368.95 L321.37,369.00 L322.11,369.06 L322.85,369.13 L323.59,369.20 L324.33,369.28 L325.07,369.37 L325.81,369.47 L326.55,369.59 L327.29,369.71 L328.02,369.85 L328.76,370.01 L329.50,370.18 L330.24,370.37 L330.98,370.58 L331.72,370.81 L332.46,371.07 L333.20,371.35 L333.94,371.66 L334.67,372.01 L335.41,372.39 L336.15,372.80 L336.89,373.25 L337.63,373.75 L338.37,374.28 L339.11,374.87 L339.85,375.50 L340.58,376.18 L341.32,376.91 L342.06,377.70 L342.80,378.54 L343.54,379.42 L344.28,380.36 L345.02,381.35 L345.76,382.39 L346.50,383.46 L347.23,384.58 L347.97,385.72 L348.71,386.90 L349.45,388.09 L350.19,389.30 L350.93,390.51 L351.67,391.72 L352.41,392.93 L353.14,394.11 L353.88,395.27 L354.62,396.40 L355.36,397.50 L356.10,398.55" fill="none" stroke="#d21f3c" stroke-width="1.5"/>
<path d="M311.77,368.65 L312.51,368.67 L313.25,368.69 L313.99,368.71 L314.73,368.73 L315.46,368.76 L316.20,368.79 L316.94,368.82 L317.68,368.86 L318.42,368.90 L319.16,368.94 L319.90,368.99 L320.64,369.05 L321.37,369.11 L322.11,369.18 L322.85,369.25 L323.59,369.34 L324.33,369.43 L325.07,369.53 L325.81,369.65 L326.55,369.77 L327.29,369.91 L328.02,370.07 L328.76,370.24 L329.50,370.43 L330.24,370.64 L330.98,370.86 L331.72,371.12 L332.46,371.39 L333.20,371.70 L333.94,372.03 L334.67,372.39 L335.41,372.79 L336.15,373.22 L336.89,373.69 L337.63,374.20 L338.37,374.76 L339.11,375.35 L339.85,376.00 L340.58,376.69 L341.32,377.42 L342.06,378.21 L342.80,379.04 L343.54,379.92 L344.28,380.85 L345.02,381.81 L345.76,382.82 L346.50,383.87 L347.23,384.95 L347.97,386.06 L348.71,387.20 L349.45,388.35 L350.19,389.51 L350.93,390.67 L351.67,391.83 L352.41,392.98 L353.14,394.12 L353.88,395.23 L354.62,396.32 L355.36,397.38 L356.10,398.39" fill="none" stroke="#1d4e78" stroke-width="1.5"/>
<circle cx="305.80" cy="368.50" r="1.6" fill="#1d4e78" stroke="none" stroke-width="0.6"/>
<circle cx="330.36" cy="367.20" r="1.6" fill="#1d4e78" stroke="none" stroke-width="0.6"/>
<circle cx="337.51" cy="374.14" r="1.6" fill="#1d4e78" stroke="none" stroke-width="0.6"/>
<circle cx="344.66" cy="383.69" r="1.6" fill="#1d4e78" stroke="none" stroke-width="0.6"/>
<circle cx="351.81" cy="390.20" r="1.6" fill="#1d4e78" stroke="none" stroke-width="0.6"/>
<circle cx="356.10" cy="395.41" r="1.6" fill="#1d4e78" stroke="none" stroke-width="0.6"/>
<path d="M303.90,370.00 L305.80,366.60 L307.70,370.00 Z" fill="#d21f3c" stroke="none" stroke-width="1"/>
<path d="M328.46,371.30 L330.36,367.90 L332.26,371.30 Z" fill="#d21f3c" stroke="none" stroke-width="1"/>
<path d="M335.61,374.77 L337.51,371.37 L339.41,374.77 Z" fill="#d21f3c" stroke="none" stroke-width="1"/>
<path d="M342.76,382.15 L344.66,378.75 L346.56,382.15 Z" fill="#d21f3c" stroke="none" stroke-width="1"/>
<path d="M349.91,391.70 L351.81,388.30 L353.71,391.70 Z" fill="#d21f3c" stroke="none" stroke-width="1"/>
<path d="M354.20,397.78 L356.10,394.38 L358.00,397.78 Z" fill="#d21f3c" stroke="none" stroke-width="1"/>
<line x1="354.60" y1="367.60" x2="359.80" y2="367.60" stroke="#1d4e78" stroke-width="0.8"/>
<circle cx="357.20" cy="367.60" r="1.4" fill="#1d4e78" stroke="none" stroke-width="0.6"/>
<text x="363.20" y="370.10" font-size="7" text-anchor="start" fill="#231f20" textLength="27.2" lengthAdjust="spacingAndGlyphs">DG19-Scr</text>
<line x1="354.60" y1="375.30" x2="359.80" y2="375.30" stroke="#d21f3c" stroke-width="0.8"/>
<path d="M355.60,376.60 L357.20,373.70 L358.80,376.60 Z" fill="#d21f3c" stroke="none" stroke-width="1"/>
<text x="363.20" y="377.80" font-size="7" text-anchor="start" fill="#231f20" textLength="39.4" lengthAdjust="spacingAndGlyphs">DG19-200mg</text>
<rect x="285.40" y="441.30" width="92.90" height="18.50" fill="none" stroke="#333" stroke-width="0.8"/>
<line x1="285.40" y1="450.20" x2="378.30" y2="450.20" stroke="#333" stroke-width="0.8"/>
<line x1="303.40" y1="441.30" x2="303.40" y2="459.80" stroke="#333" stroke-width="0.8"/>
<line x1="336.20" y1="441.30" x2="336.20" y2="459.80" stroke="#333" stroke-width="0.8"/>
<text x="319.80" y="448.30" font-size="6.6" text-anchor="middle" fill="#231f20" textLength="28.80000000000001" lengthAdjust="spacingAndGlyphs">DG19-Scr</text>
<text x="357.25" y="448.30" font-size="6.6" text-anchor="middle" fill="#231f20" textLength="38.10000000000002" lengthAdjust="spacingAndGlyphs">DG19-200mg</text>
<text x="294.40" y="457.60" font-size="6.6" text-anchor="middle" fill="#231f20" textLength="15.0" lengthAdjust="spacingAndGlyphs">LC50</text>
<text x="319.80" y="457.60" font-size="6.6" text-anchor="middle" fill="#231f20">1.763</text>
<text x="357.25" y="457.60" font-size="6.6" text-anchor="middle" fill="#231f20">2.072</text>
<!--G-->
<line x1="193.30" y1="366.20" x2="193.30" y2="421.90" stroke="#231f20" stroke-width="1.1"/>
<line x1="193.30" y1="421.90" x2="252.00" y2="421.90" stroke="#231f20" stroke-width="1.1"/>
<line x1="190.80" y1="376.70" x2="193.30" y2="376.70" stroke="#231f20" stroke-width="1"/>
<text x="185.80" y="379.10" font-size="6.4" text-anchor="end" fill="#231f20">10</text>
<text x="186.00" y="376.10" font-size="4.2" text-anchor="start" fill="#231f20">0</text>
<line x1="190.80" y1="399.30" x2="193.30" y2="399.30" stroke="#231f20" stroke-width="1"/>
<text x="185.80" y="401.70" font-size="6.4" text-anchor="end" fill="#231f20">10</text>
<text x="186.00" y="398.70" font-size="4.2" text-anchor="start" fill="#231f20">-2</text>
<line x1="190.80" y1="421.90" x2="193.30" y2="421.90" stroke="#231f20" stroke-width="1"/>
<text x="185.80" y="424.30" font-size="6.4" text-anchor="end" fill="#231f20">10</text>
<text x="186.00" y="421.30" font-size="4.2" text-anchor="start" fill="#231f20">-4</text>
<text x="222.60" y="360.80" font-size="8.2" text-anchor="middle" fill="#231f20">CLL</text>
<line x1="210.60" y1="372.30" x2="235.60" y2="372.30" stroke="#3a3a3a" stroke-width="0.9"/>
<text x="223.10" y="372.00" font-size="8" text-anchor="middle" fill="#231f20">*</text>
<line x1="210.60" y1="381.50" x2="235.60" y2="381.50" stroke="#222" stroke-width="0.65" stroke-dasharray="1.8,1.1"/>
<line x1="210.60" y1="383.20" x2="235.60" y2="384.00" stroke="#222" stroke-width="0.65" stroke-dasharray="1.8,1.1"/>
<line x1="210.60" y1="385.50" x2="235.60" y2="386.00" stroke="#222" stroke-width="0.65" stroke-dasharray="1.8,1.1"/>
<line x1="210.60" y1="387.50" x2="235.60" y2="386.50" stroke="#222" stroke-width="0.65" stroke-dasharray="1.8,1.1"/>
<line x1="210.60" y1="389.20" x2="235.60" y2="387.50" stroke="#222" stroke-width="0.65" stroke-dasharray="1.8,1.1"/>
<line x1="210.60" y1="391.50" x2="235.60" y2="389.50" stroke="#222" stroke-width="0.65" stroke-dasharray="1.8,1.1"/>
<line x1="210.60" y1="393.20" x2="235.60" y2="391.00" stroke="#222" stroke-width="0.65" stroke-dasharray="1.8,1.1"/>
<line x1="210.60" y1="396.00" x2="235.60" y2="390.00" stroke="#222" stroke-width="0.65" stroke-dasharray="1.8,1.1"/>
<line x1="210.60" y1="399.00" x2="235.60" y2="393.00" stroke="#222" stroke-width="0.65" stroke-dasharray="1.8,1.1"/>
<line x1="210.60" y1="401.50" x2="235.60" y2="395.00" stroke="#222" stroke-width="0.65" stroke-dasharray="1.8,1.1"/>
<line x1="210.60" y1="403.20" x2="235.60" y2="397.00" stroke="#222" stroke-width="0.65" stroke-dasharray="1.8,1.1"/>
<line x1="210.60" y1="405.50" x2="235.60" y2="399.50" stroke="#222" stroke-width="0.65" stroke-dasharray="1.8,1.1"/>
<line x1="210.60" y1="407.50" x2="235.60" y2="401.00" stroke="#222" stroke-width="0.65" stroke-dasharray="1.8,1.1"/>
<line x1="210.60" y1="409.50" x2="235.60" y2="403.00" stroke="#222" stroke-width="0.65" stroke-dasharray="1.8,1.1"/>
<line x1="210.60" y1="411.50" x2="235.60" y2="402.00" stroke="#222" stroke-width="0.65" stroke-dasharray="1.8,1.1"/>
<line x1="210.60" y1="413.20" x2="235.60" y2="405.80" stroke="#222" stroke-width="0.65" stroke-dasharray="1.8,1.1"/>
<circle cx="210.60" cy="381.50" r="1.35" fill="#1c2a3c" stroke="none" stroke-width="0.6"/>
<circle cx="235.60" cy="381.50" r="1.35" fill="#5a1c2a" stroke="none" stroke-width="0.6"/>
<circle cx="210.60" cy="383.20" r="1.35" fill="#1c2a3c" stroke="none" stroke-width="0.6"/>
<circle cx="235.60" cy="384.00" r="1.35" fill="#5a1c2a" stroke="none" stroke-width="0.6"/>
<circle cx="210.60" cy="385.50" r="1.35" fill="#1c2a3c" stroke="none" stroke-width="0.6"/>
<circle cx="235.60" cy="386.00" r="1.35" fill="#5a1c2a" stroke="none" stroke-width="0.6"/>
<circle cx="210.60" cy="387.50" r="1.35" fill="#1c2a3c" stroke="none" stroke-width="0.6"/>
<circle cx="235.60" cy="386.50" r="1.35" fill="#5a1c2a" stroke="none" stroke-width="0.6"/>
<circle cx="210.60" cy="389.20" r="1.35" fill="#1c2a3c" stroke="none" stroke-width="0.6"/>
<circle cx="235.60" cy="387.50" r="1.35" fill="#5a1c2a" stroke="none" stroke-width="0.6"/>
<circle cx="210.60" cy="391.50" r="1.35" fill="#1c2a3c" stroke="none" stroke-width="0.6"/>
<circle cx="235.60" cy="389.50" r="1.35" fill="#5a1c2a" stroke="none" stroke-width="0.6"/>
<circle cx="210.60" cy="393.20" r="1.35" fill="#1c2a3c" stroke="none" stroke-width="0.6"/>
<circle cx="235.60" cy="391.00" r="1.35" fill="#5a1c2a" stroke="none" stroke-width="0.6"/>
<circle cx="210.60" cy="396.00" r="1.35" fill="#1c2a3c" stroke="none" stroke-width="0.6"/>
<circle cx="235.60" cy="390.00" r="1.35" fill="#5a1c2a" stroke="none" stroke-width="0.6"/>
<circle cx="210.60" cy="399.00" r="1.35" fill="#1c2a3c" stroke="none" stroke-width="0.6"/>
<circle cx="235.60" cy="393.00" r="1.35" fill="#5a1c2a" stroke="none" stroke-width="0.6"/>
<circle cx="210.60" cy="401.50" r="1.35" fill="#1c2a3c" stroke="none" stroke-width="0.6"/>
<circle cx="235.60" cy="395.00" r="1.35" fill="#5a1c2a" stroke="none" stroke-width="0.6"/>
<circle cx="210.60" cy="403.20" r="1.35" fill="#1c2a3c" stroke="none" stroke-width="0.6"/>
<circle cx="235.60" cy="397.00" r="1.35" fill="#5a1c2a" stroke="none" stroke-width="0.6"/>
<circle cx="210.60" cy="405.50" r="1.35" fill="#1c2a3c" stroke="none" stroke-width="0.6"/>
<circle cx="235.60" cy="399.50" r="1.35" fill="#5a1c2a" stroke="none" stroke-width="0.6"/>
<circle cx="210.60" cy="407.50" r="1.35" fill="#1c2a3c" stroke="none" stroke-width="0.6"/>
<circle cx="235.60" cy="401.00" r="1.35" fill="#5a1c2a" stroke="none" stroke-width="0.6"/>
<circle cx="210.60" cy="409.50" r="1.35" fill="#1c2a3c" stroke="none" stroke-width="0.6"/>
<circle cx="235.60" cy="403.00" r="1.35" fill="#5a1c2a" stroke="none" stroke-width="0.6"/>
<circle cx="210.60" cy="411.50" r="1.35" fill="#1c2a3c" stroke="none" stroke-width="0.6"/>
<circle cx="235.60" cy="402.00" r="1.35" fill="#5a1c2a" stroke="none" stroke-width="0.6"/>
<circle cx="210.60" cy="413.20" r="1.35" fill="#1c2a3c" stroke="none" stroke-width="0.6"/>
<circle cx="235.60" cy="405.80" r="1.35" fill="#5a1c2a" stroke="none" stroke-width="0.6"/>
<line x1="210.60" y1="421.90" x2="210.60" y2="424.40" stroke="#231f20" stroke-width="1"/>
<line x1="235.60" y1="421.90" x2="235.60" y2="424.40" stroke="#231f20" stroke-width="1"/>
<text x="210.60" y="434.60" font-size="6.6" text-anchor="middle" fill="#231f20">scr</text>
<text x="235.60" y="434.60" font-size="6.6" text-anchor="middle" fill="#231f20">200mg</text>
<text x="169.80" y="393.80" font-size="8.4" text-anchor="middle" fill="#231f20" transform="rotate(-90 169.80 393.80)" textLength="15" lengthAdjust="spacingAndGlyphs">LC50</text>
<line x1="454.60" y1="366.50" x2="454.60" y2="421.90" stroke="#231f20" stroke-width="1.1"/>
<line x1="454.60" y1="421.90" x2="512.30" y2="421.90" stroke="#231f20" stroke-width="1.1"/>
<line x1="452.10" y1="370.40" x2="454.60" y2="370.40" stroke="#231f20" stroke-width="1"/>
<text x="447.10" y="372.80" font-size="6.4" text-anchor="end" fill="#231f20">10</text>
<text x="447.30" y="369.80" font-size="4.2" text-anchor="start" fill="#231f20">2</text>
<line x1="452.10" y1="387.60" x2="454.60" y2="387.60" stroke="#231f20" stroke-width="1"/>
<text x="447.10" y="390.00" font-size="6.4" text-anchor="end" fill="#231f20">10</text>
<text x="447.30" y="387.00" font-size="4.2" text-anchor="start" fill="#231f20">1</text>
<line x1="452.10" y1="404.70" x2="454.60" y2="404.70" stroke="#231f20" stroke-width="1"/>
<text x="447.10" y="407.10" font-size="6.4" text-anchor="end" fill="#231f20">10</text>
<text x="447.30" y="404.10" font-size="4.2" text-anchor="start" fill="#231f20">0</text>
<line x1="452.10" y1="421.90" x2="454.60" y2="421.90" stroke="#231f20" stroke-width="1"/>
<text x="447.10" y="424.30" font-size="6.4" text-anchor="end" fill="#231f20">10</text>
<text x="447.30" y="421.30" font-size="4.2" text-anchor="start" fill="#231f20">-1</text>
<text x="484.00" y="360.80" font-size="8.2" text-anchor="middle" fill="#231f20">CD4 T</text>
<line x1="471.00" y1="372.30" x2="496.50" y2="372.30" stroke="#3a3a3a" stroke-width="0.9"/>
<text x="483.75" y="371.00" font-size="6.8" text-anchor="middle" fill="#231f20">ns</text>
<line x1="471.00" y1="379.50" x2="496.50" y2="392.00" stroke="#222" stroke-width="0.65" stroke-dasharray="1.8,1.1"/>
<line x1="471.00" y1="386.50" x2="496.50" y2="393.00" stroke="#222" stroke-width="0.65" stroke-dasharray="1.8,1.1"/>
<line x1="471.00" y1="388.00" x2="496.50" y2="381.00" stroke="#222" stroke-width="0.65" stroke-dasharray="1.8,1.1"/>
<line x1="471.00" y1="389.50" x2="496.50" y2="395.00" stroke="#222" stroke-width="0.65" stroke-dasharray="1.8,1.1"/>
<line x1="471.00" y1="391.00" x2="496.50" y2="397.50" stroke="#222" stroke-width="0.65" stroke-dasharray="1.8,1.1"/>
<line x1="471.00" y1="392.50" x2="496.50" y2="386.00" stroke="#222" stroke-width="0.65" stroke-dasharray="1.8,1.1"/>
<line x1="471.00" y1="395.00" x2="496.50" y2="394.00" stroke="#222" stroke-width="0.65" stroke-dasharray="1.8,1.1"/>
<line x1="471.00" y1="397.00" x2="496.50" y2="392.50" stroke="#222" stroke-width="0.65" stroke-dasharray="1.8,1.1"/>
<line x1="471.00" y1="399.00" x2="496.50" y2="399.00" stroke="#222" stroke-width="0.65" stroke-dasharray="1.8,1.1"/>
<line x1="471.00" y1="400.50" x2="496.50" y2="396.00" stroke="#222" stroke-width="0.65" stroke-dasharray="1.8,1.1"/>
<line x1="471.00" y1="402.00" x2="496.50" y2="398.00" stroke="#222" stroke-width="0.65" stroke-dasharray="1.8,1.1"/>
<line x1="471.00" y1="404.00" x2="496.50" y2="400.00" stroke="#222" stroke-width="0.65" stroke-dasharray="1.8,1.1"/>
<line x1="471.00" y1="406.50" x2="496.50" y2="403.50" stroke="#222" stroke-width="0.65" stroke-dasharray="1.8,1.1"/>
<line x1="471.00" y1="409.00" x2="496.50" y2="406.00" stroke="#222" stroke-width="0.65" stroke-dasharray="1.8,1.1"/>
<line x1="471.00" y1="412.00" x2="496.50" y2="399.00" stroke="#222" stroke-width="0.65" stroke-dasharray="1.8,1.1"/>
<line x1="471.00" y1="416.50" x2="496.50" y2="413.80" stroke="#222" stroke-width="0.65" stroke-dasharray="1.8,1.1"/>
<circle cx="471.00" cy="379.50" r="1.35" fill="#1c2a3c" stroke="none" stroke-width="0.6"/>
<circle cx="496.50" cy="392.00" r="1.35" fill="#5a1c2a" stroke="none" stroke-width="0.6"/>
<circle cx="471.00" cy="386.50" r="1.35" fill="#1c2a3c" stroke="none" stroke-width="0.6"/>
<circle cx="496.50" cy="393.00" r="1.35" fill="#5a1c2a" stroke="none" stroke-width="0.6"/>
<circle cx="471.00" cy="388.00" r="1.35" fill="#1c2a3c" stroke="none" stroke-width="0.6"/>
<circle cx="496.50" cy="381.00" r="1.35" fill="#5a1c2a" stroke="none" stroke-width="0.6"/>
<circle cx="471.00" cy="389.50" r="1.35" fill="#1c2a3c" stroke="none" stroke-width="0.6"/>
<circle cx="496.50" cy="395.00" r="1.35" fill="#5a1c2a" stroke="none" stroke-width="0.6"/>
<circle cx="471.00" cy="391.00" r="1.35" fill="#1c2a3c" stroke="none" stroke-width="0.6"/>
<circle cx="496.50" cy="397.50" r="1.35" fill="#5a1c2a" stroke="none" stroke-width="0.6"/>
<circle cx="471.00" cy="392.50" r="1.35" fill="#1c2a3c" stroke="none" stroke-width="0.6"/>
<circle cx="496.50" cy="386.00" r="1.35" fill="#5a1c2a" stroke="none" stroke-width="0.6"/>
<circle cx="471.00" cy="395.00" r="1.35" fill="#1c2a3c" stroke="none" stroke-width="0.6"/>
<circle cx="496.50" cy="394.00" r="1.35" fill="#5a1c2a" stroke="none" stroke-width="0.6"/>
<circle cx="471.00" cy="397.00" r="1.35" fill="#1c2a3c" stroke="none" stroke-width="0.6"/>
<circle cx="496.50" cy="392.50" r="1.35" fill="#5a1c2a" stroke="none" stroke-width="0.6"/>
<circle cx="471.00" cy="399.00" r="1.35" fill="#1c2a3c" stroke="none" stroke-width="0.6"/>
<circle cx="496.50" cy="399.00" r="1.35" fill="#5a1c2a" stroke="none" stroke-width="0.6"/>
<circle cx="471.00" cy="400.50" r="1.35" fill="#1c2a3c" stroke="none" stroke-width="0.6"/>
<circle cx="496.50" cy="396.00" r="1.35" fill="#5a1c2a" stroke="none" stroke-width="0.6"/>
<circle cx="471.00" cy="402.00" r="1.35" fill="#1c2a3c" stroke="none" stroke-width="0.6"/>
<circle cx="496.50" cy="398.00" r="1.35" fill="#5a1c2a" stroke="none" stroke-width="0.6"/>
<circle cx="471.00" cy="404.00" r="1.35" fill="#1c2a3c" stroke="none" stroke-width="0.6"/>
<circle cx="496.50" cy="400.00" r="1.35" fill="#5a1c2a" stroke="none" stroke-width="0.6"/>
<circle cx="471.00" cy="406.50" r="1.35" fill="#1c2a3c" stroke="none" stroke-width="0.6"/>
<circle cx="496.50" cy="403.50" r="1.35" fill="#5a1c2a" stroke="none" stroke-width="0.6"/>
<circle cx="471.00" cy="409.00" r="1.35" fill="#1c2a3c" stroke="none" stroke-width="0.6"/>
<circle cx="496.50" cy="406.00" r="1.35" fill="#5a1c2a" stroke="none" stroke-width="0.6"/>
<circle cx="471.00" cy="412.00" r="1.35" fill="#1c2a3c" stroke="none" stroke-width="0.6"/>
<circle cx="496.50" cy="399.00" r="1.35" fill="#5a1c2a" stroke="none" stroke-width="0.6"/>
<circle cx="471.00" cy="416.50" r="1.35" fill="#1c2a3c" stroke="none" stroke-width="0.6"/>
<circle cx="496.50" cy="413.80" r="1.35" fill="#5a1c2a" stroke="none" stroke-width="0.6"/>
<line x1="471.00" y1="421.90" x2="471.00" y2="424.40" stroke="#231f20" stroke-width="1"/>
<line x1="496.50" y1="421.90" x2="496.50" y2="424.40" stroke="#231f20" stroke-width="1"/>
<text x="471.00" y="434.60" font-size="6.6" text-anchor="middle" fill="#231f20">scr</text>
<text x="496.50" y="434.60" font-size="6.6" text-anchor="middle" fill="#231f20">200mg</text>
<text x="430.90" y="393.80" font-size="8.4" text-anchor="middle" fill="#231f20" transform="rotate(-90 430.90 393.80)" textLength="15" lengthAdjust="spacingAndGlyphs">LC50</text>
<!--J-->
<text x="53.80" y="514.50" font-size="6.6" text-anchor="start" fill="#444">Scr</text>
<text x="77.30" y="494.00" font-size="6.8" text-anchor="start" fill="#aaaaaa">BCL-2<tspan font-size="5" dy="-2.6">+</tspan></text>
<text x="144.20" y="496.20" font-size="6.8" text-anchor="start" fill="#f08a3c">BCL-2<tspan font-size="5" dy="-2.6">+++</tspan></text>
<circle cx="90.60" cy="499.00" r="3.3" fill="#efefef" stroke="#222" stroke-width="1.0"/>
<circle cx="96.90" cy="499.00" r="3.3" fill="#efefef" stroke="#222" stroke-width="1.0"/>
<circle cx="102.50" cy="499.00" r="3.3" fill="#efefef" stroke="#222" stroke-width="1.0"/>
<circle cx="108.80" cy="499.00" r="3.3" fill="#8c8c8c" stroke="#222" stroke-width="1.0"/>
<circle cx="114.40" cy="499.00" r="3.3" fill="#8c8c8c" stroke="#222" stroke-width="1.0"/>
<circle cx="120.60" cy="499.00" r="3.3" fill="#5a5a5a" stroke="#222" stroke-width="1.0"/>
<circle cx="125.60" cy="499.00" r="3.3" fill="#5a5a5a" stroke="#222" stroke-width="1.0"/>
<circle cx="131.90" cy="499.00" r="3.3" fill="#f08a4a" stroke="#222" stroke-width="1.0"/>
<circle cx="137.50" cy="499.00" r="3.3" fill="#f08a4a" stroke="#222" stroke-width="1.0"/>
<circle cx="93.80" cy="505.00" r="3.3" fill="#efefef" stroke="#222" stroke-width="1.0"/>
<circle cx="99.40" cy="505.00" r="3.3" fill="#efefef" stroke="#222" stroke-width="1.0"/>
<circle cx="105.60" cy="505.00" r="3.3" fill="#8c8c8c" stroke="#222" stroke-width="1.0"/>
<circle cx="111.30" cy="505.00" r="3.3" fill="#8c8c8c" stroke="#222" stroke-width="1.0"/>
<circle cx="117.30" cy="505.00" r="3.3" fill="#8c8c8c" stroke="#222" stroke-width="1.0"/>
<circle cx="123.10" cy="505.00" r="3.3" fill="#5a5a5a" stroke="#222" stroke-width="1.0"/>
<circle cx="128.80" cy="505.00" r="3.3" fill="#5a5a5a" stroke="#222" stroke-width="1.0"/>
<circle cx="135.00" cy="505.00" r="3.3" fill="#f08a4a" stroke="#222" stroke-width="1.0"/>
<circle cx="141.00" cy="505.00" r="3.3" fill="#f08a4a" stroke="#222" stroke-width="1.0"/>
<circle cx="90.60" cy="510.80" r="3.3" fill="#efefef" stroke="#222" stroke-width="1.0"/>
<circle cx="96.30" cy="510.80" r="3.3" fill="#efefef" stroke="#222" stroke-width="1.0"/>
<circle cx="101.90" cy="510.80" r="3.3" fill="#efefef" stroke="#222" stroke-width="1.0"/>
<circle cx="107.50" cy="510.80" r="3.3" fill="#8c8c8c" stroke="#222" stroke-width="1.0"/>
<circle cx="113.80" cy="510.80" r="3.3" fill="#8c8c8c" stroke="#222" stroke-width="1.0"/>
<circle cx="119.40" cy="510.80" r="3.3" fill="#5a5a5a" stroke="#222" stroke-width="1.0"/>
<circle cx="125.00" cy="510.80" r="3.3" fill="#5a5a5a" stroke="#222" stroke-width="1.0"/>
<circle cx="130.60" cy="510.80" r="3.3" fill="#f08a4a" stroke="#222" stroke-width="1.0"/>
<circle cx="136.90" cy="510.80" r="3.3" fill="#f08a4a" stroke="#222" stroke-width="1.0"/>
<circle cx="141.90" cy="510.80" r="3.3" fill="#f08a4a" stroke="#222" stroke-width="1.0"/>
<circle cx="97.50" cy="516.80" r="3.3" fill="#efefef" stroke="#222" stroke-width="1.0"/>
<circle cx="102.50" cy="516.80" r="3.3" fill="#efefef" stroke="#222" stroke-width="1.0"/>
<circle cx="109.40" cy="516.80" r="3.3" fill="#8c8c8c" stroke="#222" stroke-width="1.0"/>
<circle cx="114.40" cy="516.80" r="3.3" fill="#8c8c8c" stroke="#222" stroke-width="1.0"/>
<circle cx="120.60" cy="516.80" r="3.3" fill="#5a5a5a" stroke="#222" stroke-width="1.0"/>
<circle cx="125.60" cy="516.80" r="3.3" fill="#5a5a5a" stroke="#222" stroke-width="1.0"/>
<circle cx="131.90" cy="516.80" r="3.3" fill="#f08a4a" stroke="#222" stroke-width="1.0"/>
<circle cx="136.90" cy="516.80" r="3.3" fill="#f08a4a" stroke="#222" stroke-width="1.0"/>
<path d="M88,533 L146.5,523.8 L146.5,533 Z" fill="#111" stroke="none" stroke-width="1"/>
<text x="129.50" y="532.40" font-size="6.4" text-anchor="middle" fill="#fff">BCL-2</text>
<line x1="117.40" y1="541.50" x2="117.40" y2="568.00" stroke="#111" stroke-width="0.9"/>
<path d="M115.3,566.5 L117.4,572 L119.5,566.5 Z" fill="#111" stroke="none" stroke-width="1"/>
<text x="123.60" y="553.50" font-size="6.6" text-anchor="start" fill="#231f20" textLength="31.9" lengthAdjust="spacingAndGlyphs">Venetoclax</text>
<text x="58.50" y="585.30" font-size="6.8" text-anchor="middle" fill="#231f20">200mg</text>
<text x="58.50" y="592.70" font-size="6.8" text-anchor="middle" fill="#231f20">ven</text>
<circle cx="87.65" cy="577.29" r="2.9" fill="none" stroke="#c8c8c8" stroke-width="0.6" stroke-dasharray="0.7,0.9"/>
<circle cx="93.45" cy="577.53" r="2.9" fill="none" stroke="#c8c8c8" stroke-width="0.6" stroke-dasharray="0.7,0.9"/>
<circle cx="98.99" cy="577.51" r="2.9" fill="none" stroke="#c8c8c8" stroke-width="0.6" stroke-dasharray="0.7,0.9"/>
<circle cx="103.73" cy="576.96" r="2.9" fill="none" stroke="#c8c8c8" stroke-width="0.6" stroke-dasharray="0.7,0.9"/>
<circle cx="110.43" cy="577.18" r="2.9" fill="none" stroke="#c8c8c8" stroke-width="0.6" stroke-dasharray="0.7,0.9"/>
<circle cx="115.98" cy="576.54" r="2.9" fill="none" stroke="#c8c8c8" stroke-width="0.6" stroke-dasharray="0.7,0.9"/>
<circle cx="121.06" cy="576.70" r="2.9" fill="none" stroke="#c8c8c8" stroke-width="0.6" stroke-dasharray="0.7,0.9"/>
<circle cx="90.35" cy="583.29" r="2.9" fill="none" stroke="#c8c8c8" stroke-width="0.6" stroke-dasharray="0.7,0.9"/>
<circle cx="95.32" cy="582.86" r="2.9" fill="none" stroke="#c8c8c8" stroke-width="0.6" stroke-dasharray="0.7,0.9"/>
<circle cx="101.24" cy="583.70" r="2.9" fill="none" stroke="#c8c8c8" stroke-width="0.6" stroke-dasharray="0.7,0.9"/>
<circle cx="107.42" cy="582.79" r="2.9" fill="none" stroke="#c8c8c8" stroke-width="0.6" stroke-dasharray="0.7,0.9"/>
<circle cx="113.06" cy="582.77" r="2.9" fill="none" stroke="#c8c8c8" stroke-width="0.6" stroke-dasharray="0.7,0.9"/>
<circle cx="118.44" cy="582.75" r="2.9" fill="none" stroke="#c8c8c8" stroke-width="0.6" stroke-dasharray="0.7,0.9"/>
<circle cx="87.15" cy="589.06" r="2.9" fill="none" stroke="#c8c8c8" stroke-width="0.6" stroke-dasharray="0.7,0.9"/>
<circle cx="93.68" cy="589.85" r="2.9" fill="none" stroke="#c8c8c8" stroke-width="0.6" stroke-dasharray="0.7,0.9"/>
<circle cx="98.45" cy="589.95" r="2.9" fill="none" stroke="#c8c8c8" stroke-width="0.6" stroke-dasharray="0.7,0.9"/>
<circle cx="104.35" cy="589.61" r="2.9" fill="none" stroke="#c8c8c8" stroke-width="0.6" stroke-dasharray="0.7,0.9"/>
<circle cx="109.55" cy="589.93" r="2.9" fill="none" stroke="#c8c8c8" stroke-width="0.6" stroke-dasharray="0.7,0.9"/>
<circle cx="115.73" cy="589.96" r="2.9" fill="none" stroke="#c8c8c8" stroke-width="0.6" stroke-dasharray="0.7,0.9"/>
<circle cx="121.57" cy="589.16" r="2.9" fill="none" stroke="#c8c8c8" stroke-width="0.6" stroke-dasharray="0.7,0.9"/>
<circle cx="90.13" cy="595.20" r="2.9" fill="none" stroke="#c8c8c8" stroke-width="0.6" stroke-dasharray="0.7,0.9"/>
<circle cx="95.47" cy="595.08" r="2.9" fill="none" stroke="#c8c8c8" stroke-width="0.6" stroke-dasharray="0.7,0.9"/>
<circle cx="101.26" cy="595.72" r="2.9" fill="none" stroke="#c8c8c8" stroke-width="0.6" stroke-dasharray="0.7,0.9"/>
<circle cx="106.50" cy="595.81" r="2.9" fill="none" stroke="#c8c8c8" stroke-width="0.6" stroke-dasharray="0.7,0.9"/>
<circle cx="112.51" cy="595.37" r="2.9" fill="none" stroke="#c8c8c8" stroke-width="0.6" stroke-dasharray="0.7,0.9"/>
<circle cx="118.68" cy="595.58" r="2.9" fill="none" stroke="#c8c8c8" stroke-width="0.6" stroke-dasharray="0.7,0.9"/>
<circle cx="112.19" cy="574.93" r="0.4" fill="#cdcdcd" stroke="none" stroke-width="0.6"/>
<circle cx="123.00" cy="574.07" r="0.4" fill="#cdcdcd" stroke="none" stroke-width="0.6"/>
<circle cx="113.99" cy="594.62" r="0.4" fill="#cdcdcd" stroke="none" stroke-width="0.6"/>
<circle cx="84.72" cy="593.19" r="0.4" fill="#cdcdcd" stroke="none" stroke-width="0.6"/>
<circle cx="98.65" cy="587.96" r="0.4" fill="#cdcdcd" stroke="none" stroke-width="0.6"/>
<circle cx="84.36" cy="574.67" r="0.4" fill="#cdcdcd" stroke="none" stroke-width="0.6"/>
<circle cx="91.24" cy="597.38" r="0.4" fill="#cdcdcd" stroke="none" stroke-width="0.6"/>
<circle cx="91.86" cy="592.39" r="0.4" fill="#cdcdcd" stroke="none" stroke-width="0.6"/>
<circle cx="121.19" cy="597.05" r="0.4" fill="#cdcdcd" stroke="none" stroke-width="0.6"/>
<circle cx="97.78" cy="582.37" r="0.4" fill="#cdcdcd" stroke="none" stroke-width="0.6"/>
<circle cx="104.99" cy="592.89" r="0.4" fill="#cdcdcd" stroke="none" stroke-width="0.6"/>
<circle cx="88.32" cy="592.21" r="0.4" fill="#cdcdcd" stroke="none" stroke-width="0.6"/>
<circle cx="115.89" cy="594.99" r="0.4" fill="#cdcdcd" stroke="none" stroke-width="0.6"/>
<circle cx="85.47" cy="597.15" r="0.4" fill="#cdcdcd" stroke="none" stroke-width="0.6"/>
<circle cx="87.65" cy="582.02" r="0.4" fill="#cdcdcd" stroke="none" stroke-width="0.6"/>
<circle cx="108.43" cy="596.45" r="0.4" fill="#cdcdcd" stroke="none" stroke-width="0.6"/>
<circle cx="97.60" cy="596.60" r="0.4" fill="#cdcdcd" stroke="none" stroke-width="0.6"/>
<circle cx="105.81" cy="581.31" r="0.4" fill="#cdcdcd" stroke="none" stroke-width="0.6"/>
<circle cx="96.67" cy="577.94" r="0.4" fill="#cdcdcd" stroke="none" stroke-width="0.6"/>
<circle cx="87.13" cy="577.22" r="0.4" fill="#cdcdcd" stroke="none" stroke-width="0.6"/>
<circle cx="111.57" cy="598.42" r="0.4" fill="#cdcdcd" stroke="none" stroke-width="0.6"/>
<circle cx="90.46" cy="574.71" r="0.4" fill="#cdcdcd" stroke="none" stroke-width="0.6"/>
<circle cx="123.47" cy="586.84" r="0.4" fill="#cdcdcd" stroke="none" stroke-width="0.6"/>
<circle cx="100.24" cy="579.43" r="0.4" fill="#cdcdcd" stroke="none" stroke-width="0.6"/>
<circle cx="107.76" cy="594.16" r="0.4" fill="#cdcdcd" stroke="none" stroke-width="0.6"/>
<circle cx="102.23" cy="584.04" r="0.4" fill="#cdcdcd" stroke="none" stroke-width="0.6"/>
<circle cx="86.23" cy="596.40" r="0.4" fill="#cdcdcd" stroke="none" stroke-width="0.6"/>
<circle cx="85.31" cy="585.84" r="0.4" fill="#cdcdcd" stroke="none" stroke-width="0.6"/>
<circle cx="117.54" cy="576.76" r="0.4" fill="#cdcdcd" stroke="none" stroke-width="0.6"/>
<circle cx="113.27" cy="597.24" r="0.4" fill="#cdcdcd" stroke="none" stroke-width="0.6"/>
<circle cx="109.22" cy="593.20" r="0.4" fill="#cdcdcd" stroke="none" stroke-width="0.6"/>
<circle cx="88.27" cy="584.36" r="0.4" fill="#cdcdcd" stroke="none" stroke-width="0.6"/>
<circle cx="89.97" cy="594.62" r="0.4" fill="#cdcdcd" stroke="none" stroke-width="0.6"/>
<circle cx="95.79" cy="584.83" r="0.4" fill="#cdcdcd" stroke="none" stroke-width="0.6"/>
<circle cx="123.97" cy="594.81" r="0.4" fill="#cdcdcd" stroke="none" stroke-width="0.6"/>
<circle cx="123.04" cy="584.84" r="0.4" fill="#cdcdcd" stroke="none" stroke-width="0.6"/>
<circle cx="103.53" cy="591.74" r="0.4" fill="#cdcdcd" stroke="none" stroke-width="0.6"/>
<circle cx="103.16" cy="580.78" r="0.4" fill="#cdcdcd" stroke="none" stroke-width="0.6"/>
<circle cx="100.15" cy="577.16" r="0.4" fill="#cdcdcd" stroke="none" stroke-width="0.6"/>
<circle cx="99.08" cy="598.21" r="0.4" fill="#cdcdcd" stroke="none" stroke-width="0.6"/>
<circle cx="122.39" cy="589.17" r="0.4" fill="#cdcdcd" stroke="none" stroke-width="0.6"/>
<circle cx="103.97" cy="581.96" r="0.4" fill="#cdcdcd" stroke="none" stroke-width="0.6"/>
<circle cx="87.57" cy="580.31" r="0.4" fill="#cdcdcd" stroke="none" stroke-width="0.6"/>
<circle cx="115.28" cy="595.18" r="0.4" fill="#cdcdcd" stroke="none" stroke-width="0.6"/>
<circle cx="98.45" cy="593.15" r="0.4" fill="#cdcdcd" stroke="none" stroke-width="0.6"/>
<circle cx="115.00" cy="590.86" r="0.4" fill="#cdcdcd" stroke="none" stroke-width="0.6"/>
<circle cx="110.56" cy="592.49" r="0.4" fill="#cdcdcd" stroke="none" stroke-width="0.6"/>
<circle cx="98.54" cy="591.11" r="0.4" fill="#cdcdcd" stroke="none" stroke-width="0.6"/>
<circle cx="95.23" cy="585.64" r="0.4" fill="#cdcdcd" stroke="none" stroke-width="0.6"/>
<circle cx="114.79" cy="590.77" r="0.4" fill="#cdcdcd" stroke="none" stroke-width="0.6"/>
<circle cx="95.75" cy="597.14" r="0.4" fill="#cdcdcd" stroke="none" stroke-width="0.6"/>
<circle cx="109.99" cy="588.02" r="0.4" fill="#cdcdcd" stroke="none" stroke-width="0.6"/>
<circle cx="84.46" cy="587.17" r="0.4" fill="#cdcdcd" stroke="none" stroke-width="0.6"/>
<circle cx="94.03" cy="590.29" r="0.4" fill="#cdcdcd" stroke="none" stroke-width="0.6"/>
<circle cx="102.52" cy="593.92" r="0.4" fill="#cdcdcd" stroke="none" stroke-width="0.6"/>
<circle cx="109.90" cy="593.44" r="0.4" fill="#cdcdcd" stroke="none" stroke-width="0.6"/>
<circle cx="97.92" cy="589.60" r="0.4" fill="#cdcdcd" stroke="none" stroke-width="0.6"/>
<circle cx="113.51" cy="594.20" r="0.4" fill="#cdcdcd" stroke="none" stroke-width="0.6"/>
<circle cx="98.00" cy="594.57" r="0.4" fill="#cdcdcd" stroke="none" stroke-width="0.6"/>
<circle cx="118.80" cy="590.71" r="0.4" fill="#cdcdcd" stroke="none" stroke-width="0.6"/>
<circle cx="123.04" cy="597.41" r="0.4" fill="#cdcdcd" stroke="none" stroke-width="0.6"/>
<circle cx="104.73" cy="586.73" r="0.4" fill="#cdcdcd" stroke="none" stroke-width="0.6"/>
<circle cx="90.65" cy="594.42" r="0.4" fill="#cdcdcd" stroke="none" stroke-width="0.6"/>
<circle cx="121.50" cy="585.43" r="0.4" fill="#cdcdcd" stroke="none" stroke-width="0.6"/>
<circle cx="111.66" cy="591.49" r="0.4" fill="#cdcdcd" stroke="none" stroke-width="0.6"/>
<circle cx="113.21" cy="577.80" r="0.4" fill="#cdcdcd" stroke="none" stroke-width="0.6"/>
<circle cx="115.21" cy="588.02" r="0.4" fill="#cdcdcd" stroke="none" stroke-width="0.6"/>
<circle cx="110.62" cy="584.02" r="0.4" fill="#cdcdcd" stroke="none" stroke-width="0.6"/>
<circle cx="108.95" cy="592.87" r="0.4" fill="#cdcdcd" stroke="none" stroke-width="0.6"/>
<circle cx="109.47" cy="591.51" r="0.4" fill="#cdcdcd" stroke="none" stroke-width="0.6"/>
<circle cx="85.10" cy="577.50" r="0.4" fill="#cdcdcd" stroke="none" stroke-width="0.6"/>
<circle cx="101.64" cy="589.75" r="0.4" fill="#cdcdcd" stroke="none" stroke-width="0.6"/>
<circle cx="92.76" cy="590.65" r="0.4" fill="#cdcdcd" stroke="none" stroke-width="0.6"/>
<circle cx="109.23" cy="574.55" r="0.4" fill="#cdcdcd" stroke="none" stroke-width="0.6"/>
<circle cx="102.86" cy="579.16" r="0.4" fill="#cdcdcd" stroke="none" stroke-width="0.6"/>
<circle cx="86.17" cy="576.84" r="0.4" fill="#cdcdcd" stroke="none" stroke-width="0.6"/>
<circle cx="96.69" cy="578.04" r="0.4" fill="#cdcdcd" stroke="none" stroke-width="0.6"/>
<circle cx="91.73" cy="574.39" r="0.4" fill="#cdcdcd" stroke="none" stroke-width="0.6"/>
<circle cx="102.61" cy="583.01" r="0.4" fill="#cdcdcd" stroke="none" stroke-width="0.6"/>
<circle cx="108.47" cy="588.25" r="0.4" fill="#cdcdcd" stroke="none" stroke-width="0.6"/>
<circle cx="93.51" cy="596.08" r="0.4" fill="#cdcdcd" stroke="none" stroke-width="0.6"/>
<circle cx="84.03" cy="583.63" r="0.4" fill="#cdcdcd" stroke="none" stroke-width="0.6"/>
<circle cx="95.14" cy="583.75" r="0.4" fill="#cdcdcd" stroke="none" stroke-width="0.6"/>
<circle cx="88.60" cy="594.28" r="0.4" fill="#cdcdcd" stroke="none" stroke-width="0.6"/>
<circle cx="98.96" cy="574.40" r="0.4" fill="#cdcdcd" stroke="none" stroke-width="0.6"/>
<circle cx="108.54" cy="575.87" r="0.4" fill="#cdcdcd" stroke="none" stroke-width="0.6"/>
<circle cx="105.81" cy="581.98" r="0.4" fill="#cdcdcd" stroke="none" stroke-width="0.6"/>
<circle cx="107.24" cy="597.46" r="0.4" fill="#cdcdcd" stroke="none" stroke-width="0.6"/>
<circle cx="116.74" cy="583.98" r="0.4" fill="#cdcdcd" stroke="none" stroke-width="0.6"/>
<circle cx="116.52" cy="589.56" r="0.4" fill="#cdcdcd" stroke="none" stroke-width="0.6"/>
<circle cx="128.50" cy="578.00" r="3.2" fill="#f08040" stroke="#1a1a1a" stroke-width="0.9"/>
<circle cx="134.30" cy="577.50" r="3.2" fill="#f08040" stroke="#1a1a1a" stroke-width="0.9"/>
<circle cx="131.00" cy="583.00" r="3.2" fill="#f08040" stroke="#1a1a1a" stroke-width="0.9"/>
<circle cx="137.00" cy="583.50" r="3.2" fill="#f08040" stroke="#1a1a1a" stroke-width="0.9"/>
<circle cx="126.50" cy="588.50" r="3.2" fill="#f08040" stroke="#1a1a1a" stroke-width="0.9"/>
<circle cx="132.50" cy="589.00" r="3.2" fill="#f08040" stroke="#1a1a1a" stroke-width="0.9"/>
<circle cx="138.50" cy="588.50" r="3.2" fill="#f08040" stroke="#1a1a1a" stroke-width="0.9"/>
<circle cx="129.00" cy="594.00" r="3.2" fill="#f08040" stroke="#1a1a1a" stroke-width="0.9"/>
<circle cx="135.00" cy="594.50" r="3.2" fill="#f08040" stroke="#1a1a1a" stroke-width="0.9"/>
<circle cx="140.50" cy="585.50" r="3.2" fill="#f08040" stroke="#1a1a1a" stroke-width="0.9"/>
<text x="142.80" y="575.50" font-size="6.8" text-anchor="start" fill="#f08a3c">BCL-2<tspan font-size="5" dy="-2.6">+++</tspan></text>
<text x="83.90" y="615.80" font-size="6.8" text-anchor="start" fill="#231f20" textLength="44.3" lengthAdjust="spacingAndGlyphs">Left with BCL-2</text>
<text x="128.60" y="612.90" font-size="5" text-anchor="start" fill="#231f20" textLength="6.4" lengthAdjust="spacingAndGlyphs">+++</text>
<text x="136.80" y="615.80" font-size="6.8" text-anchor="start" fill="#231f20" textLength="14.2" lengthAdjust="spacingAndGlyphs">cells</text>
<!--K-->
<text x="293.40" y="484.60" font-size="8.6" text-anchor="middle" fill="#231f20" textLength="27" lengthAdjust="spacingAndGlyphs">CLL 25</text>
<text x="260.50" y="495.00" font-size="6.4" text-anchor="start" fill="#231f20">BCL-2<tspan font-size="4.4" dy="-2.8">lower80</tspan></text>
<text x="295.40" y="495.00" font-size="6.4" text-anchor="start" fill="#231f20">BCL-2<tspan font-size="4.4" dy="-2.8">top20</tspan></text>
<path d="M259.60,538.91 L260.16,538.90 L260.72,538.89 L261.29,538.88 L261.85,538.87 L262.41,538.86 L262.97,538.85 L263.53,538.84 L264.09,538.82 L264.66,538.79 L265.22,538.76 L265.78,538.72 L266.34,538.68 L266.90,538.63 L267.46,538.58 L268.03,538.51 L268.59,538.44 L269.15,538.36 L269.71,538.27 L270.27,538.16 L270.83,538.04 L271.40,537.90 L271.96,537.75 L272.52,537.57 L273.08,537.37 L273.64,537.15 L274.20,536.90 L274.77,536.61 L275.33,536.29 L275.89,535.93 L276.45,535.53 L277.01,535.08 L277.57,534.57 L278.13,534.01 L278.70,533.39 L279.26,532.70 L279.82,531.93 L280.38,531.08 L280.94,530.14 L281.50,529.12 L282.07,527.99 L282.63,526.75 L283.19,525.41 L283.75,523.95 L284.31,522.37 L284.88,520.68 L285.44,518.86 L286.00,516.93 L286.56,514.89 L287.12,512.76 L287.68,510.56 L288.25,508.33 L288.81,506.13 L289.37,504.08 L289.93,502.60 L290.49,503.02 L291.05,504.16 L291.62,505.95 L292.18,508.30 L292.74,511.07 L293.30,514.11 L293.86,517.27 L294.42,520.42 L294.99,523.44 L295.55,526.24 L296.11,528.75 L296.67,530.93 L297.23,532.78 L297.79,534.31 L298.36,535.53 L298.92,536.49 L299.48,537.22 L300.04,537.76 L300.60,538.16 L301.16,538.44 L301.73,538.63 L302.29,538.77 L302.85,538.85 L303.41,538.91 L303.97,538.95 L304.53,538.97 L305.10,538.98 L305.66,538.99 L306.22,538.99 L306.78,539.00 L307.34,539.00 L307.90,539.00 L308.47,539.00 L309.03,539.00 L309.59,539.00 L310.15,539.00 L310.71,539.00 L311.27,539.00 L311.84,539.00 L312.40,539.00 L312.96,539.00 L313.52,539.00 L314.08,539.00 L314.64,539.00 L315.20,539.00 L315.77,539.00 L316.33,539.00 L316.89,539.00 L317.45,539.00 L318.01,539.00 L318.57,539.00 L319.14,539.00 L319.70,539.00 L320.26,539.00 L320.82,539.00 L321.38,539.00 L321.94,539.00 L322.51,539.00 L323.07,539.00 L323.63,539.00 L324.19,539.00 L324.75,539.00 L325.31,539.00 L325.88,539.00 L326.44,539.00 L327.00,539.00 L327,539.0 L259.6,539.0 Z" fill="#aab3da" stroke="#4a6aa0" stroke-width="0.9"/>
<rect x="259.50" y="496.60" width="67.50" height="42.40" fill="none" stroke="#111" stroke-width="1.1"/>
<line x1="259.50" y1="534.30" x2="292.80" y2="534.30" stroke="#777" stroke-width="1"/>
<line x1="292.80" y1="536.80" x2="327.00" y2="536.80" stroke="#777" stroke-width="1"/>
<line x1="292.80" y1="488.60" x2="292.80" y2="540.00" stroke="#345" stroke-width="0.8" stroke-dasharray="1.2,1.2"/>
<line x1="257.00" y1="499.40" x2="259.50" y2="499.40" stroke="#111" stroke-width="1"/>
<text x="254.00" y="501.80" font-size="6.6" text-anchor="end" fill="#231f20">1.5K</text>
<line x1="257.00" y1="512.80" x2="259.50" y2="512.80" stroke="#111" stroke-width="1"/>
<text x="254.00" y="515.20" font-size="6.6" text-anchor="end" fill="#231f20">1.0K</text>
<line x1="257.00" y1="525.70" x2="259.50" y2="525.70" stroke="#111" stroke-width="1"/>
<text x="254.00" y="528.10" font-size="6.6" text-anchor="end" fill="#231f20">500</text>
<line x1="257.00" y1="538.70" x2="259.50" y2="538.70" stroke="#111" stroke-width="1"/>
<text x="254.00" y="541.10" font-size="6.6" text-anchor="end" fill="#231f20">0</text>
<text x="261.50" y="506.40" font-size="6.8" text-anchor="start" fill="#231f20">80.3</text>
<text x="322.00" y="506.40" font-size="6.8" text-anchor="end" fill="#231f20">19.7</text>
<line x1="260.00" y1="539.00" x2="260.00" y2="541.20" stroke="#111" stroke-width="0.9"/>
<text x="258.80" y="551.00" font-size="6.4" text-anchor="middle" fill="#231f20">10</text>
<text x="262.50" y="547.50" font-size="3.8" text-anchor="start" fill="#231f20">2</text>
<line x1="289.20" y1="539.00" x2="289.20" y2="541.20" stroke="#111" stroke-width="0.9"/>
<text x="288.00" y="551.00" font-size="6.4" text-anchor="middle" fill="#231f20">10</text>
<text x="291.70" y="547.50" font-size="3.8" text-anchor="start" fill="#231f20">3</text>
<line x1="314.60" y1="539.00" x2="314.60" y2="541.20" stroke="#111" stroke-width="0.9"/>
<text x="313.40" y="551.00" font-size="6.4" text-anchor="middle" fill="#231f20">10</text>
<text x="317.10" y="547.50" font-size="3.8" text-anchor="start" fill="#231f20">4</text>
<line x1="268.22" y1="539.00" x2="268.22" y2="540.30" stroke="#111" stroke-width="0.6"/>
<line x1="273.03" y1="539.00" x2="273.03" y2="540.30" stroke="#111" stroke-width="0.6"/>
<line x1="276.44" y1="539.00" x2="276.44" y2="540.30" stroke="#111" stroke-width="0.6"/>
<line x1="279.08" y1="539.00" x2="279.08" y2="540.30" stroke="#111" stroke-width="0.6"/>
<line x1="281.24" y1="539.00" x2="281.24" y2="540.30" stroke="#111" stroke-width="0.6"/>
<line x1="283.07" y1="539.00" x2="283.07" y2="540.30" stroke="#111" stroke-width="0.6"/>
<line x1="284.65" y1="539.00" x2="284.65" y2="540.30" stroke="#111" stroke-width="0.6"/>
<line x1="286.05" y1="539.00" x2="286.05" y2="540.30" stroke="#111" stroke-width="0.6"/>
<line x1="295.52" y1="539.00" x2="295.52" y2="540.30" stroke="#111" stroke-width="0.6"/>
<line x1="300.33" y1="539.00" x2="300.33" y2="540.30" stroke="#111" stroke-width="0.6"/>
<line x1="303.74" y1="539.00" x2="303.74" y2="540.30" stroke="#111" stroke-width="0.6"/>
<line x1="306.38" y1="539.00" x2="306.38" y2="540.30" stroke="#111" stroke-width="0.6"/>
<line x1="308.54" y1="539.00" x2="308.54" y2="540.30" stroke="#111" stroke-width="0.6"/>
<line x1="310.37" y1="539.00" x2="310.37" y2="540.30" stroke="#111" stroke-width="0.6"/>
<line x1="311.95" y1="539.00" x2="311.95" y2="540.30" stroke="#111" stroke-width="0.6"/>
<line x1="313.35" y1="539.00" x2="313.35" y2="540.30" stroke="#111" stroke-width="0.6"/>
<line x1="322.82" y1="539.00" x2="322.82" y2="540.30" stroke="#111" stroke-width="0.6"/>
<path d="M259.60,597.66 L260.16,597.66 L260.72,597.66 L261.29,597.65 L261.85,597.65 L262.41,597.64 L262.97,597.63 L263.53,597.63 L264.09,597.62 L264.66,597.61 L265.22,597.60 L265.78,597.59 L266.34,597.58 L266.90,597.57 L267.46,597.56 L268.03,597.55 L268.59,597.54 L269.15,597.52 L269.71,597.51 L270.27,597.49 L270.83,597.48 L271.40,597.46 L271.96,597.44 L272.52,597.43 L273.08,597.41 L273.64,597.39 L274.20,597.36 L274.77,597.34 L275.33,597.32 L275.89,597.30 L276.45,597.27 L277.01,597.25 L277.57,597.22 L278.13,597.19 L278.70,597.17 L279.26,597.14 L279.82,597.11 L280.38,597.09 L280.94,597.06 L281.50,596.97 L282.07,596.70 L282.63,596.34 L283.19,595.88 L283.75,595.30 L284.31,594.57 L284.88,593.68 L285.44,592.60 L286.00,591.32 L286.56,589.83 L287.12,588.11 L287.68,586.18 L288.25,584.04 L288.81,581.71 L289.37,579.25 L289.93,576.68 L290.49,574.08 L291.05,571.51 L291.62,569.04 L292.18,566.76 L292.74,564.75 L293.30,563.07 L293.86,561.79 L294.42,560.96 L294.99,560.61 L295.55,560.81 L296.11,561.65 L296.67,563.10 L297.23,565.08 L297.79,567.50 L298.36,570.22 L298.92,573.15 L299.48,576.15 L300.04,579.12 L300.60,581.97 L301.16,584.61 L301.73,587.01 L302.29,589.12 L302.85,590.93 L303.41,592.46 L303.97,593.71 L304.53,594.72 L305.10,595.51 L305.66,596.12 L306.22,596.58 L306.78,596.92 L307.34,597.17 L307.90,597.34 L308.47,597.47 L309.03,597.55 L309.59,597.60 L310.15,597.64 L310.71,597.66 L311.27,597.68 L311.84,597.69 L312.40,597.69 L312.96,597.70 L313.52,597.70 L314.08,597.70 L314.64,597.70 L315.20,597.70 L315.77,597.70 L316.33,597.70 L316.89,597.70 L317.45,597.70 L318.01,597.70 L318.57,597.70 L319.14,597.70 L319.70,597.70 L320.26,597.70 L320.82,597.70 L321.38,597.70 L321.94,597.70 L322.51,597.70 L323.07,597.70 L323.63,597.70 L324.19,597.70 L324.75,597.70 L325.31,597.70 L325.88,597.70 L326.44,597.70 L327.00,597.70 L327,597.7 L259.6,597.7 Z" fill="#f2a9a8" stroke="#c8213c" stroke-width="0.9"/>
<rect x="259.50" y="555.40" width="67.50" height="42.30" fill="none" stroke="#111" stroke-width="1.1"/>
<line x1="259.50" y1="593.40" x2="292.80" y2="593.40" stroke="#777" stroke-width="1"/>
<line x1="292.80" y1="595.40" x2="327.00" y2="595.40" stroke="#777" stroke-width="1"/>
<line x1="292.80" y1="547.40" x2="292.80" y2="598.70" stroke="#345" stroke-width="0.8" stroke-dasharray="1.2,1.2"/>
<line x1="257.00" y1="560.80" x2="259.50" y2="560.80" stroke="#111" stroke-width="1"/>
<text x="254.00" y="563.20" font-size="6.6" text-anchor="end" fill="#231f20">3.0K</text>
<line x1="257.00" y1="572.80" x2="259.50" y2="572.80" stroke="#111" stroke-width="1"/>
<text x="254.00" y="575.20" font-size="6.6" text-anchor="end" fill="#231f20">2.0K</text>
<line x1="257.00" y1="585.10" x2="259.50" y2="585.10" stroke="#111" stroke-width="1"/>
<text x="254.00" y="587.50" font-size="6.6" text-anchor="end" fill="#231f20">1.0K</text>
<line x1="257.00" y1="597.70" x2="259.50" y2="597.70" stroke="#111" stroke-width="1"/>
<text x="254.00" y="600.10" font-size="6.6" text-anchor="end" fill="#231f20">0</text>
<text x="261.50" y="565.40" font-size="6.8" text-anchor="start" fill="#231f20">37.8</text>
<text x="322.00" y="565.40" font-size="6.8" text-anchor="end" fill="#231f20">62.2</text>
<line x1="260.00" y1="597.70" x2="260.00" y2="599.90" stroke="#111" stroke-width="0.9"/>
<text x="258.80" y="609.70" font-size="6.4" text-anchor="middle" fill="#231f20">10</text>
<text x="262.50" y="606.20" font-size="3.8" text-anchor="start" fill="#231f20">2</text>
<line x1="289.20" y1="597.70" x2="289.20" y2="599.90" stroke="#111" stroke-width="0.9"/>
<text x="288.00" y="609.70" font-size="6.4" text-anchor="middle" fill="#231f20">10</text>
<text x="291.70" y="606.20" font-size="3.8" text-anchor="start" fill="#231f20">3</text>
<line x1="314.60" y1="597.70" x2="314.60" y2="599.90" stroke="#111" stroke-width="0.9"/>
<text x="313.40" y="609.70" font-size="6.4" text-anchor="middle" fill="#231f20">10</text>
<text x="317.10" y="606.20" font-size="3.8" text-anchor="start" fill="#231f20">4</text>
<line x1="268.22" y1="597.70" x2="268.22" y2="599.00" stroke="#111" stroke-width="0.6"/>
<line x1="273.03" y1="597.70" x2="273.03" y2="599.00" stroke="#111" stroke-width="0.6"/>
<line x1="276.44" y1="597.70" x2="276.44" y2="599.00" stroke="#111" stroke-width="0.6"/>
<line x1="279.08" y1="597.70" x2="279.08" y2="599.00" stroke="#111" stroke-width="0.6"/>
<line x1="281.24" y1="597.70" x2="281.24" y2="599.00" stroke="#111" stroke-width="0.6"/>
<line x1="283.07" y1="597.70" x2="283.07" y2="599.00" stroke="#111" stroke-width="0.6"/>
<line x1="284.65" y1="597.70" x2="284.65" y2="599.00" stroke="#111" stroke-width="0.6"/>
<line x1="286.05" y1="597.70" x2="286.05" y2="599.00" stroke="#111" stroke-width="0.6"/>
<line x1="295.52" y1="597.70" x2="295.52" y2="599.00" stroke="#111" stroke-width="0.6"/>
<line x1="300.33" y1="597.70" x2="300.33" y2="599.00" stroke="#111" stroke-width="0.6"/>
<line x1="303.74" y1="597.70" x2="303.74" y2="599.00" stroke="#111" stroke-width="0.6"/>
<line x1="306.38" y1="597.70" x2="306.38" y2="599.00" stroke="#111" stroke-width="0.6"/>
<line x1="308.54" y1="597.70" x2="308.54" y2="599.00" stroke="#111" stroke-width="0.6"/>
<line x1="310.37" y1="597.70" x2="310.37" y2="599.00" stroke="#111" stroke-width="0.6"/>
<line x1="311.95" y1="597.70" x2="311.95" y2="599.00" stroke="#111" stroke-width="0.6"/>
<line x1="313.35" y1="597.70" x2="313.35" y2="599.00" stroke="#111" stroke-width="0.6"/>
<line x1="322.82" y1="597.70" x2="322.82" y2="599.00" stroke="#111" stroke-width="0.6"/>
<text x="237.00" y="521.00" font-size="6.4" text-anchor="end" fill="#231f20">Scr</text>
<text x="236.90" y="583.00" font-size="6.4" text-anchor="end" fill="#231f20">200mg</text>
<line x1="239.70" y1="612.50" x2="239.70" y2="594.00" stroke="#111" stroke-width="1.1"/>
<path d="M237.3,595 L239.7,590.3 L242.1,595 Z" fill="#111" stroke="none" stroke-width="1"/>
<line x1="239.70" y1="612.50" x2="322.00" y2="612.50" stroke="#111" stroke-width="1.1"/>
<path d="M321.5,610.3 L326.8,612.5 L321.5,614.7 Z" fill="#111" stroke="none" stroke-width="1"/>
<text x="235.30" y="601.20" font-size="8.6" text-anchor="middle" fill="#231f20" transform="rotate(-90 235.30 601.20)" textLength="17.7" lengthAdjust="spacingAndGlyphs">Count</text>
<text x="325.60" y="623.60" font-size="8.6" text-anchor="end" fill="#231f20" textLength="14.8" lengthAdjust="spacingAndGlyphs">BCL-2</text>
<!--Lp-->
<line x1="398.40" y1="515.50" x2="398.40" y2="585.80" stroke="#231f20" stroke-width="1.1"/>
<line x1="398.40" y1="585.80" x2="484.30" y2="585.80" stroke="#231f20" stroke-width="1.1"/>
<line x1="441.10" y1="492.80" x2="441.10" y2="585.80" stroke="#231f20" stroke-width="1.0"/>
<line x1="395.90" y1="585.80" x2="398.40" y2="585.80" stroke="#231f20" stroke-width="1"/>
<text x="389.20" y="588.20" font-size="6.4" text-anchor="end" fill="#231f20">10</text>
<text x="389.40" y="585.00" font-size="4.0" text-anchor="start" fill="#231f20">7</text>
<line x1="395.90" y1="572.60" x2="398.40" y2="572.60" stroke="#231f20" stroke-width="1"/>
<text x="389.20" y="575.00" font-size="6.4" text-anchor="end" fill="#231f20">10</text>
<text x="389.40" y="571.80" font-size="4.0" text-anchor="start" fill="#231f20">8</text>
<line x1="395.90" y1="559.40" x2="398.40" y2="559.40" stroke="#231f20" stroke-width="1"/>
<text x="389.20" y="561.80" font-size="6.4" text-anchor="end" fill="#231f20">10</text>
<text x="389.40" y="558.60" font-size="4.0" text-anchor="start" fill="#231f20">9</text>
<line x1="395.90" y1="546.20" x2="398.40" y2="546.20" stroke="#231f20" stroke-width="1"/>
<text x="389.20" y="548.60" font-size="6.4" text-anchor="end" fill="#231f20">10</text>
<text x="389.40" y="545.40" font-size="4.0" text-anchor="start" fill="#231f20">10</text>
<line x1="395.90" y1="533.00" x2="398.40" y2="533.00" stroke="#231f20" stroke-width="1"/>
<text x="389.20" y="535.40" font-size="6.4" text-anchor="end" fill="#231f20">10</text>
<text x="389.40" y="532.20" font-size="4.0" text-anchor="start" fill="#231f20">11</text>
<line x1="395.90" y1="519.80" x2="398.40" y2="519.80" stroke="#231f20" stroke-width="1"/>
<text x="389.20" y="522.20" font-size="6.4" text-anchor="end" fill="#231f20">10</text>
<text x="389.40" y="519.00" font-size="4.0" text-anchor="start" fill="#231f20">12</text>
<text x="373.60" y="551.30" font-size="8.6" text-anchor="middle" fill="#231f20" transform="rotate(-90 373.60 551.30)" textLength="70" lengthAdjust="spacingAndGlyphs">CD19+CD5+ (cells/L)</text>
<text x="405.40" y="499.80" font-size="6.8" text-anchor="start" fill="#231f20">BCL-2<tspan font-size="4.4" dy="-2.8">lower80</tspan></text>
<text x="446.90" y="499.60" font-size="6.8" text-anchor="start" fill="#231f20">BCL-2<tspan font-size="4.4" dy="-2.8">top20</tspan></text>
<text x="421.30" y="510.40" font-size="7" text-anchor="middle" fill="#e0554a">30-fold</text>
<text x="460.90" y="510.40" font-size="7" text-anchor="middle" fill="#e0554a">3.2-fold</text>
<line x1="412.30" y1="524.20" x2="431.50" y2="524.20" stroke="#444" stroke-width="0.9"/>
<line x1="451.50" y1="524.20" x2="471.00" y2="524.20" stroke="#444" stroke-width="0.9"/>
<text x="421.80" y="524.60" font-size="7" text-anchor="middle" fill="#231f20">****</text>
<text x="461.10" y="524.60" font-size="7" text-anchor="middle" fill="#231f20">***</text>
<rect x="405.40" y="541.80" width="13.00" height="10.40" fill="#1e4d80" stroke="none" stroke-width="1"/>
<line x1="411.90" y1="531.90" x2="411.90" y2="559.70" stroke="#333" stroke-width="0.8"/>
<line x1="409.40" y1="531.90" x2="414.40" y2="531.90" stroke="#333" stroke-width="0.8"/>
<line x1="409.40" y1="559.70" x2="414.40" y2="559.70" stroke="#333" stroke-width="0.8"/>
<circle cx="410.10" cy="531.90" r="1.65" fill="#fff" stroke="#222" stroke-width="0.75"/>
<circle cx="413.70" cy="531.90" r="1.65" fill="#fff" stroke="#222" stroke-width="0.75"/>
<circle cx="413.50" cy="535.38" r="1.65" fill="#fff" stroke="#222" stroke-width="0.75"/>
<circle cx="410.30" cy="538.85" r="1.65" fill="#fff" stroke="#222" stroke-width="0.75"/>
<circle cx="409.70" cy="542.33" r="1.65" fill="#fff" stroke="#222" stroke-width="0.75"/>
<circle cx="414.10" cy="542.33" r="1.65" fill="#fff" stroke="#222" stroke-width="0.75"/>
<circle cx="407.60" cy="545.80" r="1.65" fill="#fff" stroke="#222" stroke-width="0.75"/>
<circle cx="411.90" cy="545.80" r="1.65" fill="#fff" stroke="#222" stroke-width="0.75"/>
<circle cx="416.20" cy="545.80" r="1.65" fill="#fff" stroke="#222" stroke-width="0.75"/>
<circle cx="409.70" cy="549.27" r="1.65" fill="#fff" stroke="#222" stroke-width="0.75"/>
<circle cx="414.10" cy="549.27" r="1.65" fill="#fff" stroke="#222" stroke-width="0.75"/>
<circle cx="407.60" cy="552.75" r="1.65" fill="#fff" stroke="#222" stroke-width="0.75"/>
<circle cx="411.90" cy="552.75" r="1.65" fill="#fff" stroke="#222" stroke-width="0.75"/>
<circle cx="416.20" cy="552.75" r="1.65" fill="#fff" stroke="#222" stroke-width="0.75"/>
<circle cx="413.50" cy="556.23" r="1.65" fill="#fff" stroke="#222" stroke-width="0.75"/>
<circle cx="410.10" cy="559.70" r="1.65" fill="#fff" stroke="#222" stroke-width="0.75"/>
<circle cx="413.70" cy="559.70" r="1.65" fill="#fff" stroke="#222" stroke-width="0.75"/>
<line x1="411.90" y1="585.80" x2="411.90" y2="588.30" stroke="#231f20" stroke-width="1"/>
<rect x="425.30" y="560.80" width="12.00" height="9.60" fill="#c0182a" stroke="none" stroke-width="1"/>
<line x1="431.30" y1="548.10" x2="431.30" y2="573.50" stroke="#333" stroke-width="0.8"/>
<line x1="428.80" y1="548.10" x2="433.80" y2="548.10" stroke="#333" stroke-width="0.8"/>
<line x1="428.80" y1="573.50" x2="433.80" y2="573.50" stroke="#333" stroke-width="0.8"/>
<circle cx="431.30" cy="548.10" r="1.65" fill="#fff" stroke="#222" stroke-width="0.75"/>
<circle cx="432.90" cy="551.73" r="1.65" fill="#fff" stroke="#222" stroke-width="0.75"/>
<circle cx="429.70" cy="555.36" r="1.65" fill="#fff" stroke="#222" stroke-width="0.75"/>
<circle cx="432.90" cy="558.99" r="1.65" fill="#fff" stroke="#222" stroke-width="0.75"/>
<circle cx="427.00" cy="562.61" r="1.65" fill="#fff" stroke="#222" stroke-width="0.75"/>
<circle cx="431.30" cy="562.61" r="1.65" fill="#fff" stroke="#222" stroke-width="0.75"/>
<circle cx="435.60" cy="562.61" r="1.65" fill="#fff" stroke="#222" stroke-width="0.75"/>
<circle cx="429.10" cy="566.24" r="1.65" fill="#fff" stroke="#222" stroke-width="0.75"/>
<circle cx="433.50" cy="566.24" r="1.65" fill="#fff" stroke="#222" stroke-width="0.75"/>
<circle cx="427.00" cy="569.87" r="1.65" fill="#fff" stroke="#222" stroke-width="0.75"/>
<circle cx="431.30" cy="569.87" r="1.65" fill="#fff" stroke="#222" stroke-width="0.75"/>
<circle cx="435.60" cy="569.87" r="1.65" fill="#fff" stroke="#222" stroke-width="0.75"/>
<circle cx="431.30" cy="573.50" r="1.65" fill="#fff" stroke="#222" stroke-width="0.75"/>
<line x1="431.30" y1="585.80" x2="431.30" y2="588.30" stroke="#231f20" stroke-width="1"/>
<rect x="444.30" y="549.60" width="13.00" height="11.20" fill="#1e4d80" stroke="none" stroke-width="1"/>
<line x1="450.80" y1="539.60" x2="450.80" y2="566.60" stroke="#333" stroke-width="0.8"/>
<line x1="448.30" y1="539.60" x2="453.30" y2="539.60" stroke="#333" stroke-width="0.8"/>
<line x1="448.30" y1="566.60" x2="453.30" y2="566.60" stroke="#333" stroke-width="0.8"/>
<circle cx="449.00" cy="539.60" r="1.65" fill="#fff" stroke="#222" stroke-width="0.75"/>
<circle cx="452.60" cy="539.60" r="1.65" fill="#fff" stroke="#222" stroke-width="0.75"/>
<circle cx="452.40" cy="542.98" r="1.65" fill="#fff" stroke="#222" stroke-width="0.75"/>
<circle cx="449.20" cy="546.35" r="1.65" fill="#fff" stroke="#222" stroke-width="0.75"/>
<circle cx="448.60" cy="549.73" r="1.65" fill="#fff" stroke="#222" stroke-width="0.75"/>
<circle cx="453.00" cy="549.73" r="1.65" fill="#fff" stroke="#222" stroke-width="0.75"/>
<circle cx="446.50" cy="553.10" r="1.65" fill="#fff" stroke="#222" stroke-width="0.75"/>
<circle cx="450.80" cy="553.10" r="1.65" fill="#fff" stroke="#222" stroke-width="0.75"/>
<circle cx="455.10" cy="553.10" r="1.65" fill="#fff" stroke="#222" stroke-width="0.75"/>
<circle cx="448.60" cy="556.48" r="1.65" fill="#fff" stroke="#222" stroke-width="0.75"/>
<circle cx="453.00" cy="556.48" r="1.65" fill="#fff" stroke="#222" stroke-width="0.75"/>
<circle cx="446.50" cy="559.85" r="1.65" fill="#fff" stroke="#222" stroke-width="0.75"/>
<circle cx="450.80" cy="559.85" r="1.65" fill="#fff" stroke="#222" stroke-width="0.75"/>
<circle cx="455.10" cy="559.85" r="1.65" fill="#fff" stroke="#222" stroke-width="0.75"/>
<circle cx="452.40" cy="563.23" r="1.65" fill="#fff" stroke="#222" stroke-width="0.75"/>
<circle cx="449.00" cy="566.60" r="1.65" fill="#fff" stroke="#222" stroke-width="0.75"/>
<circle cx="452.60" cy="566.60" r="1.65" fill="#fff" stroke="#222" stroke-width="0.75"/>
<line x1="450.80" y1="585.80" x2="450.80" y2="588.30" stroke="#231f20" stroke-width="1"/>
<rect x="464.20" y="554.80" width="13.00" height="9.50" fill="#c0182a" stroke="none" stroke-width="1"/>
<line x1="470.70" y1="549.70" x2="470.70" y2="573.50" stroke="#333" stroke-width="0.8"/>
<line x1="468.20" y1="549.70" x2="473.20" y2="549.70" stroke="#333" stroke-width="0.8"/>
<line x1="468.20" y1="573.50" x2="473.20" y2="573.50" stroke="#333" stroke-width="0.8"/>
<circle cx="468.90" cy="549.70" r="1.65" fill="#fff" stroke="#222" stroke-width="0.75"/>
<circle cx="472.50" cy="549.70" r="1.65" fill="#fff" stroke="#222" stroke-width="0.75"/>
<circle cx="472.30" cy="553.10" r="1.65" fill="#fff" stroke="#222" stroke-width="0.75"/>
<circle cx="466.40" cy="556.50" r="1.65" fill="#fff" stroke="#222" stroke-width="0.75"/>
<circle cx="470.70" cy="556.50" r="1.65" fill="#fff" stroke="#222" stroke-width="0.75"/>
<circle cx="475.00" cy="556.50" r="1.65" fill="#fff" stroke="#222" stroke-width="0.75"/>
<circle cx="468.50" cy="559.90" r="1.65" fill="#fff" stroke="#222" stroke-width="0.75"/>
<circle cx="472.90" cy="559.90" r="1.65" fill="#fff" stroke="#222" stroke-width="0.75"/>
<circle cx="466.40" cy="563.30" r="1.65" fill="#fff" stroke="#222" stroke-width="0.75"/>
<circle cx="470.70" cy="563.30" r="1.65" fill="#fff" stroke="#222" stroke-width="0.75"/>
<circle cx="475.00" cy="563.30" r="1.65" fill="#fff" stroke="#222" stroke-width="0.75"/>
<circle cx="472.30" cy="566.70" r="1.65" fill="#fff" stroke="#222" stroke-width="0.75"/>
<circle cx="469.10" cy="570.10" r="1.65" fill="#fff" stroke="#222" stroke-width="0.75"/>
<circle cx="468.90" cy="573.50" r="1.65" fill="#fff" stroke="#222" stroke-width="0.75"/>
<circle cx="472.50" cy="573.50" r="1.65" fill="#fff" stroke="#222" stroke-width="0.75"/>
<line x1="470.70" y1="585.80" x2="470.70" y2="588.30" stroke="#231f20" stroke-width="1"/>
<text x="414.30" y="595.30" font-size="8" text-anchor="end" fill="#231f20" transform="rotate(-45 414.30 595.30)" textLength="10.2" lengthAdjust="spacingAndGlyphs">Scr</text>
<text x="433.60" y="595.30" font-size="8" text-anchor="end" fill="#231f20" transform="rotate(-45 433.60 595.30)" textLength="20.5" lengthAdjust="spacingAndGlyphs">200 mg</text>
<text x="453.20" y="595.30" font-size="8" text-anchor="end" fill="#231f20" transform="rotate(-45 453.20 595.30)" textLength="10.2" lengthAdjust="spacingAndGlyphs">Scr</text>
<text x="473.10" y="595.30" font-size="8" text-anchor="end" fill="#231f20" transform="rotate(-45 473.10 595.30)" textLength="20.5" lengthAdjust="spacingAndGlyphs">200 mg</text>
<rect x="0.5" y="0.5" width="519" height="631" fill="none" stroke="#555" stroke-width="1"/>
</svg>
</body></html>
